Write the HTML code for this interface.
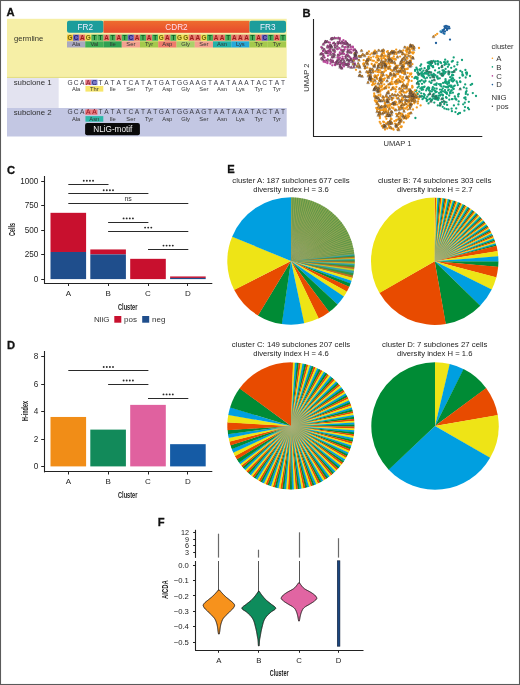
<!DOCTYPE html>
<html><head><meta charset="utf-8"><style>
html,body{margin:0;padding:0;background:#fff;}
body{width:520px;height:685px;overflow:hidden;font-family:"Liberation Sans", sans-serif;}
svg{display:block;will-change:transform;}
</style></head><body><svg width="520" height="685" viewBox="0 0 520 685" font-family='"Liberation Sans", sans-serif'><rect width="520" height="685" fill="#fff"/><text x="6.60" y="16.00" font-size="11.2" fill="#111" text-anchor="start" font-weight="bold" stroke="#111" stroke-width="0.3">A</text><rect x="7.00" y="18.80" width="279.70" height="59.20" fill="#f6efa6" /><rect x="7.00" y="76.90" width="279.70" height="1.00" fill="#e2dc84" /><rect x="7.00" y="78.00" width="51.80" height="30.20" fill="#e3e3f0" /><rect x="58.80" y="78.00" width="227.90" height="30.20" fill="#ffffff" /><rect x="7.00" y="108.00" width="279.70" height="28.50" fill="#c3c7e3" /><defs><linearGradient id="cdr" x1="0" y1="0" x2="0" y2="1"><stop offset="0" stop-color="#ee6c2e"/><stop offset="1" stop-color="#e74a2c"/></linearGradient></defs><rect x="67.00" y="20.8" width="36.50" height="12.0" rx="2" fill="#1c9d9b"/><rect x="103.50" y="20.8" width="145.99" height="12.0" fill="url(#cdr)"/><rect x="249.49" y="20.8" width="36.50" height="12.0" rx="2" fill="#1c9d9b"/><g transform="translate(85.25,29.80) rotate(0) scale(1.0,1)"><text x="0" y="0" font-size="8.2" fill="#eef" text-anchor="middle" font-weight="normal">FR2</text></g><g transform="translate(176.49,29.80) rotate(0) scale(1.0,1)"><text x="0" y="0" font-size="8.2" fill="#fde" text-anchor="middle" font-weight="normal">CDR2</text></g><g transform="translate(267.74,29.80) rotate(0) scale(1.0,1)"><text x="0" y="0" font-size="8.2" fill="#eef" text-anchor="middle" font-weight="normal">FR3</text></g><rect x="67.00" y="34.60" width="6.13" height="6.20" fill="#f2c83a" /><text x="70.04" y="39.90" font-size="6.4" fill="#6e6210" text-anchor="middle" font-weight="bold" >G</text><rect x="73.08" y="34.60" width="6.13" height="6.20" fill="#6a64bc" /><text x="76.12" y="39.90" font-size="6.4" fill="#2a2070" text-anchor="middle" font-weight="bold" >C</text><rect x="79.17" y="34.60" width="6.13" height="6.20" fill="#e6786c" /><text x="82.21" y="39.90" font-size="6.4" fill="#9b1b1b" text-anchor="middle" font-weight="bold" >A</text><rect x="85.25" y="34.60" width="6.13" height="6.20" fill="#eedc50" /><text x="88.29" y="39.90" font-size="6.4" fill="#6e6210" text-anchor="middle" font-weight="bold" >G</text><rect x="91.33" y="34.60" width="6.13" height="6.20" fill="#48b05a" /><text x="94.37" y="39.90" font-size="6.4" fill="#0f5a22" text-anchor="middle" font-weight="bold" >T</text><rect x="97.41" y="34.60" width="6.13" height="6.20" fill="#48b05a" /><text x="100.46" y="39.90" font-size="6.4" fill="#0f5a22" text-anchor="middle" font-weight="bold" >T</text><rect x="103.50" y="34.60" width="6.13" height="6.20" fill="#e6786c" /><text x="106.54" y="39.90" font-size="6.4" fill="#9b1b1b" text-anchor="middle" font-weight="bold" >A</text><rect x="109.58" y="34.60" width="6.13" height="6.20" fill="#48b05a" /><text x="112.62" y="39.90" font-size="6.4" fill="#0f5a22" text-anchor="middle" font-weight="bold" >T</text><rect x="115.66" y="34.60" width="6.13" height="6.20" fill="#e6786c" /><text x="118.71" y="39.90" font-size="6.4" fill="#9b1b1b" text-anchor="middle" font-weight="bold" >A</text><rect x="121.75" y="34.60" width="6.13" height="6.20" fill="#48b05a" /><text x="124.79" y="39.90" font-size="6.4" fill="#0f5a22" text-anchor="middle" font-weight="bold" >T</text><rect x="127.83" y="34.60" width="6.13" height="6.20" fill="#6a64bc" /><text x="130.87" y="39.90" font-size="6.4" fill="#2a2070" text-anchor="middle" font-weight="bold" >C</text><rect x="133.91" y="34.60" width="6.13" height="6.20" fill="#e6786c" /><text x="136.95" y="39.90" font-size="6.4" fill="#9b1b1b" text-anchor="middle" font-weight="bold" >A</text><rect x="140.00" y="34.60" width="6.13" height="6.20" fill="#48b05a" /><text x="143.04" y="39.90" font-size="6.4" fill="#0f5a22" text-anchor="middle" font-weight="bold" >T</text><rect x="146.08" y="34.60" width="6.13" height="6.20" fill="#e6786c" /><text x="149.12" y="39.90" font-size="6.4" fill="#9b1b1b" text-anchor="middle" font-weight="bold" >A</text><rect x="152.16" y="34.60" width="6.13" height="6.20" fill="#48b05a" /><text x="155.20" y="39.90" font-size="6.4" fill="#0f5a22" text-anchor="middle" font-weight="bold" >T</text><rect x="158.25" y="34.60" width="6.13" height="6.20" fill="#eedc50" /><text x="161.29" y="39.90" font-size="6.4" fill="#6e6210" text-anchor="middle" font-weight="bold" >G</text><rect x="164.33" y="34.60" width="6.13" height="6.20" fill="#e6786c" /><text x="167.37" y="39.90" font-size="6.4" fill="#9b1b1b" text-anchor="middle" font-weight="bold" >A</text><rect x="170.41" y="34.60" width="6.13" height="6.20" fill="#48b05a" /><text x="173.45" y="39.90" font-size="6.4" fill="#0f5a22" text-anchor="middle" font-weight="bold" >T</text><rect x="176.49" y="34.60" width="6.13" height="6.20" fill="#eedc50" /><text x="179.54" y="39.90" font-size="6.4" fill="#6e6210" text-anchor="middle" font-weight="bold" >G</text><rect x="182.58" y="34.60" width="6.13" height="6.20" fill="#eedc50" /><text x="185.62" y="39.90" font-size="6.4" fill="#6e6210" text-anchor="middle" font-weight="bold" >G</text><rect x="188.66" y="34.60" width="6.13" height="6.20" fill="#e6786c" /><text x="191.70" y="39.90" font-size="6.4" fill="#9b1b1b" text-anchor="middle" font-weight="bold" >A</text><rect x="194.74" y="34.60" width="6.13" height="6.20" fill="#e6786c" /><text x="197.78" y="39.90" font-size="6.4" fill="#9b1b1b" text-anchor="middle" font-weight="bold" >A</text><rect x="200.83" y="34.60" width="6.13" height="6.20" fill="#eedc50" /><text x="203.87" y="39.90" font-size="6.4" fill="#6e6210" text-anchor="middle" font-weight="bold" >G</text><rect x="206.91" y="34.60" width="6.13" height="6.20" fill="#48b05a" /><text x="209.95" y="39.90" font-size="6.4" fill="#0f5a22" text-anchor="middle" font-weight="bold" >T</text><rect x="212.99" y="34.60" width="6.13" height="6.20" fill="#e6786c" /><text x="216.03" y="39.90" font-size="6.4" fill="#9b1b1b" text-anchor="middle" font-weight="bold" >A</text><rect x="219.08" y="34.60" width="6.13" height="6.20" fill="#e6786c" /><text x="222.12" y="39.90" font-size="6.4" fill="#9b1b1b" text-anchor="middle" font-weight="bold" >A</text><rect x="225.16" y="34.60" width="6.13" height="6.20" fill="#48b05a" /><text x="228.20" y="39.90" font-size="6.4" fill="#0f5a22" text-anchor="middle" font-weight="bold" >T</text><rect x="231.24" y="34.60" width="6.13" height="6.20" fill="#e6786c" /><text x="234.28" y="39.90" font-size="6.4" fill="#9b1b1b" text-anchor="middle" font-weight="bold" >A</text><rect x="237.32" y="34.60" width="6.13" height="6.20" fill="#e6786c" /><text x="240.37" y="39.90" font-size="6.4" fill="#9b1b1b" text-anchor="middle" font-weight="bold" >A</text><rect x="243.41" y="34.60" width="6.13" height="6.20" fill="#e6786c" /><text x="246.45" y="39.90" font-size="6.4" fill="#9b1b1b" text-anchor="middle" font-weight="bold" >A</text><rect x="249.49" y="34.60" width="6.13" height="6.20" fill="#48b05a" /><text x="252.53" y="39.90" font-size="6.4" fill="#0f5a22" text-anchor="middle" font-weight="bold" >T</text><rect x="255.57" y="34.60" width="6.13" height="6.20" fill="#e6786c" /><text x="258.61" y="39.90" font-size="6.4" fill="#9b1b1b" text-anchor="middle" font-weight="bold" >A</text><rect x="261.66" y="34.60" width="6.13" height="6.20" fill="#6a64bc" /><text x="264.70" y="39.90" font-size="6.4" fill="#2a2070" text-anchor="middle" font-weight="bold" >C</text><rect x="267.74" y="34.60" width="6.13" height="6.20" fill="#48b05a" /><text x="270.78" y="39.90" font-size="6.4" fill="#0f5a22" text-anchor="middle" font-weight="bold" >T</text><rect x="273.82" y="34.60" width="6.13" height="6.20" fill="#e6786c" /><text x="276.86" y="39.90" font-size="6.4" fill="#9b1b1b" text-anchor="middle" font-weight="bold" >A</text><rect x="279.90" y="34.60" width="6.13" height="6.20" fill="#48b05a" /><text x="282.95" y="39.90" font-size="6.4" fill="#0f5a22" text-anchor="middle" font-weight="bold" >T</text><rect x="67.00" y="41.30" width="18.30" height="6.20" fill="#a9a8c0" /><text x="76.12" y="46.30" font-size="5.8" fill="#333" text-anchor="middle" font-weight="normal" >Ala</text><rect x="85.25" y="41.30" width="18.30" height="6.20" fill="#3fae55" /><text x="94.37" y="46.30" font-size="5.8" fill="#333" text-anchor="middle" font-weight="normal" >Val</text><rect x="103.50" y="41.30" width="18.30" height="6.20" fill="#2fa052" /><text x="112.62" y="46.30" font-size="5.8" fill="#333" text-anchor="middle" font-weight="normal" >Ile</text><rect x="121.75" y="41.30" width="18.30" height="6.20" fill="#f3a190" /><text x="130.87" y="46.30" font-size="5.8" fill="#333" text-anchor="middle" font-weight="normal" >Ser</text><rect x="140.00" y="41.30" width="18.30" height="6.20" fill="#a4c94c" /><text x="149.12" y="46.30" font-size="5.8" fill="#333" text-anchor="middle" font-weight="normal" >Tyr</text><rect x="158.25" y="41.30" width="18.30" height="6.20" fill="#ef7b6c" /><text x="167.37" y="46.30" font-size="5.8" fill="#333" text-anchor="middle" font-weight="normal" >Asp</text><rect x="176.49" y="41.30" width="18.30" height="6.20" fill="#acd06a" /><text x="185.62" y="46.30" font-size="5.8" fill="#333" text-anchor="middle" font-weight="normal" >Gly</text><rect x="194.74" y="41.30" width="18.30" height="6.20" fill="#f3a190" /><text x="203.87" y="46.30" font-size="5.8" fill="#333" text-anchor="middle" font-weight="normal" >Ser</text><rect x="212.99" y="41.30" width="18.30" height="6.20" fill="#22b1a8" /><text x="222.12" y="46.30" font-size="5.8" fill="#333" text-anchor="middle" font-weight="normal" >Asn</text><rect x="231.24" y="41.30" width="18.30" height="6.20" fill="#27a9d9" /><text x="240.37" y="46.30" font-size="5.8" fill="#333" text-anchor="middle" font-weight="normal" >Lys</text><rect x="249.49" y="41.30" width="18.30" height="6.20" fill="#a4c94c" /><text x="258.61" y="46.30" font-size="5.8" fill="#333" text-anchor="middle" font-weight="normal" >Tyr</text><rect x="267.74" y="41.30" width="18.30" height="6.20" fill="#a4c94c" /><text x="276.86" y="46.30" font-size="5.8" fill="#333" text-anchor="middle" font-weight="normal" >Tyr</text><text x="14.00" y="40.60" font-size="7.65" fill="#34342a" text-anchor="start" font-weight="normal" >germline</text><rect x="85.25" y="79.70" width="6.13" height="5.40" fill="#e47c86" /><rect x="91.33" y="79.70" width="6.13" height="5.40" fill="#7c7cc8" /><rect x="85.45" y="86.00" width="17.85" height="5.60" fill="#f7e66a" /><text x="70.04" y="84.60" font-size="6.6" fill="#3a3a44" text-anchor="middle" font-weight="normal" >G</text><text x="76.12" y="84.60" font-size="6.6" fill="#3a3a44" text-anchor="middle" font-weight="normal" >C</text><text x="82.21" y="84.60" font-size="6.6" fill="#3a3a44" text-anchor="middle" font-weight="normal" >A</text><text x="88.29" y="84.60" font-size="6.6" fill="#8a1a2a" text-anchor="middle" font-weight="normal" >A</text><text x="94.37" y="84.60" font-size="6.6" fill="#1a1a60" text-anchor="middle" font-weight="normal" >C</text><text x="100.46" y="84.60" font-size="6.6" fill="#3a3a44" text-anchor="middle" font-weight="normal" >T</text><text x="106.54" y="84.60" font-size="6.6" fill="#3a3a44" text-anchor="middle" font-weight="normal" >A</text><text x="112.62" y="84.60" font-size="6.6" fill="#3a3a44" text-anchor="middle" font-weight="normal" >T</text><text x="118.71" y="84.60" font-size="6.6" fill="#3a3a44" text-anchor="middle" font-weight="normal" >A</text><text x="124.79" y="84.60" font-size="6.6" fill="#3a3a44" text-anchor="middle" font-weight="normal" >T</text><text x="130.87" y="84.60" font-size="6.6" fill="#3a3a44" text-anchor="middle" font-weight="normal" >C</text><text x="136.95" y="84.60" font-size="6.6" fill="#3a3a44" text-anchor="middle" font-weight="normal" >A</text><text x="143.04" y="84.60" font-size="6.6" fill="#3a3a44" text-anchor="middle" font-weight="normal" >T</text><text x="149.12" y="84.60" font-size="6.6" fill="#3a3a44" text-anchor="middle" font-weight="normal" >A</text><text x="155.20" y="84.60" font-size="6.6" fill="#3a3a44" text-anchor="middle" font-weight="normal" >T</text><text x="161.29" y="84.60" font-size="6.6" fill="#3a3a44" text-anchor="middle" font-weight="normal" >G</text><text x="167.37" y="84.60" font-size="6.6" fill="#3a3a44" text-anchor="middle" font-weight="normal" >A</text><text x="173.45" y="84.60" font-size="6.6" fill="#3a3a44" text-anchor="middle" font-weight="normal" >T</text><text x="179.54" y="84.60" font-size="6.6" fill="#3a3a44" text-anchor="middle" font-weight="normal" >G</text><text x="185.62" y="84.60" font-size="6.6" fill="#3a3a44" text-anchor="middle" font-weight="normal" >G</text><text x="191.70" y="84.60" font-size="6.6" fill="#3a3a44" text-anchor="middle" font-weight="normal" >A</text><text x="197.78" y="84.60" font-size="6.6" fill="#3a3a44" text-anchor="middle" font-weight="normal" >A</text><text x="203.87" y="84.60" font-size="6.6" fill="#3a3a44" text-anchor="middle" font-weight="normal" >G</text><text x="209.95" y="84.60" font-size="6.6" fill="#3a3a44" text-anchor="middle" font-weight="normal" >T</text><text x="216.03" y="84.60" font-size="6.6" fill="#3a3a44" text-anchor="middle" font-weight="normal" >A</text><text x="222.12" y="84.60" font-size="6.6" fill="#3a3a44" text-anchor="middle" font-weight="normal" >A</text><text x="228.20" y="84.60" font-size="6.6" fill="#3a3a44" text-anchor="middle" font-weight="normal" >T</text><text x="234.28" y="84.60" font-size="6.6" fill="#3a3a44" text-anchor="middle" font-weight="normal" >A</text><text x="240.37" y="84.60" font-size="6.6" fill="#3a3a44" text-anchor="middle" font-weight="normal" >A</text><text x="246.45" y="84.60" font-size="6.6" fill="#3a3a44" text-anchor="middle" font-weight="normal" >A</text><text x="252.53" y="84.60" font-size="6.6" fill="#3a3a44" text-anchor="middle" font-weight="normal" >T</text><text x="258.61" y="84.60" font-size="6.6" fill="#3a3a44" text-anchor="middle" font-weight="normal" >A</text><text x="264.70" y="84.60" font-size="6.6" fill="#3a3a44" text-anchor="middle" font-weight="normal" >C</text><text x="270.78" y="84.60" font-size="6.6" fill="#3a3a44" text-anchor="middle" font-weight="normal" >T</text><text x="276.86" y="84.60" font-size="6.6" fill="#3a3a44" text-anchor="middle" font-weight="normal" >A</text><text x="282.95" y="84.60" font-size="6.6" fill="#3a3a44" text-anchor="middle" font-weight="normal" >T</text><text x="76.12" y="90.80" font-size="5.8" fill="#333" text-anchor="middle" font-weight="normal" >Ala</text><text x="94.37" y="90.80" font-size="5.8" fill="#333" text-anchor="middle" font-weight="normal" >Thr</text><text x="112.62" y="90.80" font-size="5.8" fill="#333" text-anchor="middle" font-weight="normal" >Ile</text><text x="130.87" y="90.80" font-size="5.8" fill="#333" text-anchor="middle" font-weight="normal" >Ser</text><text x="149.12" y="90.80" font-size="5.8" fill="#333" text-anchor="middle" font-weight="normal" >Tyr</text><text x="167.37" y="90.80" font-size="5.8" fill="#333" text-anchor="middle" font-weight="normal" >Asp</text><text x="185.62" y="90.80" font-size="5.8" fill="#333" text-anchor="middle" font-weight="normal" >Gly</text><text x="203.87" y="90.80" font-size="5.8" fill="#333" text-anchor="middle" font-weight="normal" >Ser</text><text x="222.12" y="90.80" font-size="5.8" fill="#333" text-anchor="middle" font-weight="normal" >Asn</text><text x="240.37" y="90.80" font-size="5.8" fill="#333" text-anchor="middle" font-weight="normal" >Lys</text><text x="258.61" y="90.80" font-size="5.8" fill="#333" text-anchor="middle" font-weight="normal" >Tyr</text><text x="276.86" y="90.80" font-size="5.8" fill="#333" text-anchor="middle" font-weight="normal" >Tyr</text><text x="13.70" y="85.00" font-size="7.85" fill="#2e2e2e" text-anchor="start" font-weight="normal" >subclone 1</text><rect x="85.25" y="109.40" width="6.13" height="5.40" fill="#ea7478" /><rect x="91.33" y="109.40" width="6.13" height="5.40" fill="#ea7478" /><rect x="85.45" y="116.10" width="17.85" height="5.60" fill="#2cb8a8" /><text x="70.04" y="114.30" font-size="6.6" fill="#3a3a44" text-anchor="middle" font-weight="normal" >G</text><text x="76.12" y="114.30" font-size="6.6" fill="#3a3a44" text-anchor="middle" font-weight="normal" >C</text><text x="82.21" y="114.30" font-size="6.6" fill="#3a3a44" text-anchor="middle" font-weight="normal" >A</text><text x="88.29" y="114.30" font-size="6.6" fill="#8a1a2a" text-anchor="middle" font-weight="normal" >A</text><text x="94.37" y="114.30" font-size="6.6" fill="#8a1a2a" text-anchor="middle" font-weight="normal" >A</text><text x="100.46" y="114.30" font-size="6.6" fill="#3a3a44" text-anchor="middle" font-weight="normal" >T</text><text x="106.54" y="114.30" font-size="6.6" fill="#3a3a44" text-anchor="middle" font-weight="normal" >A</text><text x="112.62" y="114.30" font-size="6.6" fill="#3a3a44" text-anchor="middle" font-weight="normal" >T</text><text x="118.71" y="114.30" font-size="6.6" fill="#3a3a44" text-anchor="middle" font-weight="normal" >A</text><text x="124.79" y="114.30" font-size="6.6" fill="#3a3a44" text-anchor="middle" font-weight="normal" >T</text><text x="130.87" y="114.30" font-size="6.6" fill="#3a3a44" text-anchor="middle" font-weight="normal" >C</text><text x="136.95" y="114.30" font-size="6.6" fill="#3a3a44" text-anchor="middle" font-weight="normal" >A</text><text x="143.04" y="114.30" font-size="6.6" fill="#3a3a44" text-anchor="middle" font-weight="normal" >T</text><text x="149.12" y="114.30" font-size="6.6" fill="#3a3a44" text-anchor="middle" font-weight="normal" >A</text><text x="155.20" y="114.30" font-size="6.6" fill="#3a3a44" text-anchor="middle" font-weight="normal" >T</text><text x="161.29" y="114.30" font-size="6.6" fill="#3a3a44" text-anchor="middle" font-weight="normal" >G</text><text x="167.37" y="114.30" font-size="6.6" fill="#3a3a44" text-anchor="middle" font-weight="normal" >A</text><text x="173.45" y="114.30" font-size="6.6" fill="#3a3a44" text-anchor="middle" font-weight="normal" >T</text><text x="179.54" y="114.30" font-size="6.6" fill="#3a3a44" text-anchor="middle" font-weight="normal" >G</text><text x="185.62" y="114.30" font-size="6.6" fill="#3a3a44" text-anchor="middle" font-weight="normal" >G</text><text x="191.70" y="114.30" font-size="6.6" fill="#3a3a44" text-anchor="middle" font-weight="normal" >A</text><text x="197.78" y="114.30" font-size="6.6" fill="#3a3a44" text-anchor="middle" font-weight="normal" >A</text><text x="203.87" y="114.30" font-size="6.6" fill="#3a3a44" text-anchor="middle" font-weight="normal" >G</text><text x="209.95" y="114.30" font-size="6.6" fill="#3a3a44" text-anchor="middle" font-weight="normal" >T</text><text x="216.03" y="114.30" font-size="6.6" fill="#3a3a44" text-anchor="middle" font-weight="normal" >A</text><text x="222.12" y="114.30" font-size="6.6" fill="#3a3a44" text-anchor="middle" font-weight="normal" >A</text><text x="228.20" y="114.30" font-size="6.6" fill="#3a3a44" text-anchor="middle" font-weight="normal" >T</text><text x="234.28" y="114.30" font-size="6.6" fill="#3a3a44" text-anchor="middle" font-weight="normal" >A</text><text x="240.37" y="114.30" font-size="6.6" fill="#3a3a44" text-anchor="middle" font-weight="normal" >A</text><text x="246.45" y="114.30" font-size="6.6" fill="#3a3a44" text-anchor="middle" font-weight="normal" >A</text><text x="252.53" y="114.30" font-size="6.6" fill="#3a3a44" text-anchor="middle" font-weight="normal" >T</text><text x="258.61" y="114.30" font-size="6.6" fill="#3a3a44" text-anchor="middle" font-weight="normal" >A</text><text x="264.70" y="114.30" font-size="6.6" fill="#3a3a44" text-anchor="middle" font-weight="normal" >C</text><text x="270.78" y="114.30" font-size="6.6" fill="#3a3a44" text-anchor="middle" font-weight="normal" >T</text><text x="276.86" y="114.30" font-size="6.6" fill="#3a3a44" text-anchor="middle" font-weight="normal" >A</text><text x="282.95" y="114.30" font-size="6.6" fill="#3a3a44" text-anchor="middle" font-weight="normal" >T</text><text x="76.12" y="120.90" font-size="5.8" fill="#333" text-anchor="middle" font-weight="normal" >Ala</text><text x="94.37" y="120.90" font-size="5.8" fill="#333" text-anchor="middle" font-weight="normal" >Asn</text><text x="112.62" y="120.90" font-size="5.8" fill="#333" text-anchor="middle" font-weight="normal" >Ile</text><text x="130.87" y="120.90" font-size="5.8" fill="#333" text-anchor="middle" font-weight="normal" >Ser</text><text x="149.12" y="120.90" font-size="5.8" fill="#333" text-anchor="middle" font-weight="normal" >Tyr</text><text x="167.37" y="120.90" font-size="5.8" fill="#333" text-anchor="middle" font-weight="normal" >Asp</text><text x="185.62" y="120.90" font-size="5.8" fill="#333" text-anchor="middle" font-weight="normal" >Gly</text><text x="203.87" y="120.90" font-size="5.8" fill="#333" text-anchor="middle" font-weight="normal" >Ser</text><text x="222.12" y="120.90" font-size="5.8" fill="#333" text-anchor="middle" font-weight="normal" >Asn</text><text x="240.37" y="120.90" font-size="5.8" fill="#333" text-anchor="middle" font-weight="normal" >Lys</text><text x="258.61" y="120.90" font-size="5.8" fill="#333" text-anchor="middle" font-weight="normal" >Tyr</text><text x="276.86" y="120.90" font-size="5.8" fill="#333" text-anchor="middle" font-weight="normal" >Tyr</text><text x="13.70" y="115.20" font-size="7.85" fill="#2e2e2e" text-anchor="start" font-weight="normal" >subclone 2</text><rect x="85.1" y="123.0" width="54.8" height="12.3" rx="2" fill="#0a0a0a"/><g transform="translate(112.80,132.40) rotate(0) scale(1.0,1)"><text x="0" y="0" font-size="8.2" fill="#f4f4f4" text-anchor="middle" font-weight="normal">NLiG-motif</text></g><text x="302.40" y="16.90" font-size="11.2" fill="#111" text-anchor="start" font-weight="bold" stroke="#111" stroke-width="0.3">B</text><g><circle cx="444.4" cy="108.4" r="1.15" fill="#14a079"/><circle cx="391.7" cy="70.5" r="1.15" fill="#f2981c"/><circle cx="435.8" cy="99.0" r="1.15" fill="#14a079"/><circle cx="449.5" cy="28.3" r="1.15" fill="#1e5e9c"/><circle cx="406.3" cy="100.5" r="1.15" fill="#f2981c"/><circle cx="326.9" cy="53.0" r="1.15" fill="#b8479a"/><circle cx="446.5" cy="109.1" r="1.15" fill="#14a079"/><circle cx="407.0" cy="107.3" r="1.15" fill="#f2981c"/><circle cx="454.8" cy="85.6" r="1.15" fill="#14a079"/><circle cx="432.5" cy="96.7" r="1.15" fill="#14a079"/><circle cx="381.8" cy="66.0" r="1.15" fill="#f2981c"/><circle cx="367.1" cy="60.6" r="1.15" fill="#f2981c"/><circle cx="334.1" cy="42.9" r="1.15" fill="#b8479a"/><circle cx="443.4" cy="72.5" r="1.15" fill="#14a079"/><circle cx="439.0" cy="84.1" r="1.15" fill="#14a079"/><circle cx="446.5" cy="28.2" r="1.15" fill="#1e5e9c"/><circle cx="409.9" cy="92.8" r="1.15" fill="#f2981c"/><circle cx="347.0" cy="64.9" r="1.15" fill="#b8479a"/><circle cx="410.6" cy="74.5" r="1.15" fill="#f2981c"/><circle cx="381.3" cy="75.0" r="1.15" fill="#f2981c"/><circle cx="435.7" cy="61.4" r="1.15" fill="#14a079"/><circle cx="459.0" cy="113.2" r="1.15" fill="#14a079"/><circle cx="371.0" cy="77.5" r="1.15" fill="#f2981c"/><circle cx="412.6" cy="87.1" r="1.15" fill="#f2981c"/><circle cx="406.4" cy="88.1" r="1.15" fill="#f2981c"/><circle cx="395.4" cy="101.6" r="1.15" fill="#f2981c"/><circle cx="409.0" cy="116.3" r="1.15" fill="#f2981c"/><circle cx="405.3" cy="116.1" r="1.15" fill="#f2981c"/><circle cx="465.7" cy="99.4" r="1.15" fill="#14a079"/><circle cx="384.4" cy="109.3" r="1.15" fill="#f2981c"/><circle cx="387.1" cy="80.8" r="1.15" fill="#f2981c"/><circle cx="412.6" cy="100.2" r="1.15" fill="#f2981c"/><circle cx="437.6" cy="61.2" r="1.15" fill="#14a079"/><circle cx="331.0" cy="52.4" r="1.15" fill="#b8479a"/><circle cx="445.3" cy="86.8" r="1.15" fill="#14a079"/><circle cx="375.4" cy="83.3" r="1.15" fill="#f2981c"/><circle cx="421.2" cy="93.3" r="1.15" fill="#14a079"/><circle cx="407.0" cy="58.0" r="1.15" fill="#f2981c"/><circle cx="389.1" cy="99.7" r="1.15" fill="#f2981c"/><circle cx="412.9" cy="95.8" r="1.15" fill="#f2981c"/><circle cx="445.2" cy="82.5" r="1.15" fill="#14a079"/><circle cx="378.7" cy="72.2" r="1.15" fill="#f2981c"/><circle cx="372.8" cy="69.9" r="1.15" fill="#f2981c"/><circle cx="379.6" cy="85.9" r="1.15" fill="#f2981c"/><circle cx="383.2" cy="121.7" r="1.15" fill="#f2981c"/><circle cx="366.9" cy="61.3" r="1.15" fill="#f2981c"/><circle cx="394.8" cy="95.0" r="1.15" fill="#f2981c"/><circle cx="454.3" cy="80.1" r="1.15" fill="#14a079"/><circle cx="378.0" cy="87.8" r="1.15" fill="#f2981c"/><circle cx="374.0" cy="53.6" r="1.15" fill="#f2981c"/><circle cx="447.0" cy="30.0" r="1.15" fill="#1e5e9c"/><circle cx="384.0" cy="80.1" r="1.15" fill="#f2981c"/><circle cx="390.6" cy="73.5" r="1.15" fill="#f2981c"/><circle cx="380.2" cy="56.4" r="1.15" fill="#f2981c"/><circle cx="391.7" cy="98.1" r="1.15" fill="#f2981c"/><circle cx="394.7" cy="103.8" r="1.15" fill="#f2981c"/><circle cx="393.6" cy="87.5" r="1.15" fill="#f2981c"/><circle cx="381.2" cy="76.6" r="1.15" fill="#f2981c"/><circle cx="379.3" cy="81.0" r="1.15" fill="#f2981c"/><circle cx="341.4" cy="50.0" r="1.15" fill="#b8479a"/><circle cx="411.7" cy="97.3" r="1.15" fill="#f2981c"/><circle cx="441.8" cy="90.0" r="1.15" fill="#14a079"/><circle cx="374.2" cy="66.6" r="1.15" fill="#f2981c"/><circle cx="378.5" cy="60.7" r="1.15" fill="#f2981c"/><circle cx="409.9" cy="103.9" r="1.15" fill="#f2981c"/><circle cx="398.5" cy="71.9" r="1.15" fill="#f2981c"/><circle cx="383.6" cy="100.4" r="1.15" fill="#f2981c"/><circle cx="388.5" cy="92.7" r="1.15" fill="#f2981c"/><circle cx="381.1" cy="72.5" r="1.15" fill="#f2981c"/><circle cx="445.2" cy="59.7" r="1.15" fill="#14a079"/><circle cx="387.2" cy="128.5" r="1.15" fill="#f2981c"/><circle cx="381.0" cy="77.5" r="1.15" fill="#f2981c"/><circle cx="411.2" cy="95.6" r="1.15" fill="#f2981c"/><circle cx="377.0" cy="103.5" r="1.15" fill="#f2981c"/><circle cx="447.5" cy="84.6" r="1.15" fill="#14a079"/><circle cx="466.7" cy="72.5" r="1.15" fill="#14a079"/><circle cx="440.4" cy="62.2" r="1.15" fill="#14a079"/><circle cx="398.8" cy="116.9" r="1.15" fill="#f2981c"/><circle cx="382.8" cy="125.9" r="1.15" fill="#f2981c"/><circle cx="333.0" cy="50.1" r="1.15" fill="#b8479a"/><circle cx="463.9" cy="87.4" r="1.15" fill="#14a079"/><circle cx="388.1" cy="76.9" r="1.15" fill="#f2981c"/><circle cx="435.5" cy="75.3" r="1.15" fill="#14a079"/><circle cx="328.9" cy="46.8" r="1.15" fill="#b8479a"/><circle cx="403.8" cy="118.6" r="1.15" fill="#f2981c"/><circle cx="370.8" cy="76.9" r="1.15" fill="#f2981c"/><circle cx="367.6" cy="61.8" r="1.15" fill="#f2981c"/><circle cx="433.0" cy="66.1" r="1.15" fill="#14a079"/><circle cx="330.0" cy="45.2" r="1.15" fill="#b8479a"/><circle cx="352.4" cy="61.8" r="1.15" fill="#b8479a"/><circle cx="455.4" cy="98.3" r="1.15" fill="#14a079"/><circle cx="381.6" cy="61.1" r="1.15" fill="#f2981c"/><circle cx="417.4" cy="79.2" r="1.15" fill="#14a079"/><circle cx="408.9" cy="80.1" r="1.15" fill="#f2981c"/><circle cx="395.8" cy="59.7" r="1.15" fill="#f2981c"/><circle cx="401.8" cy="86.2" r="1.15" fill="#f2981c"/><circle cx="404.0" cy="72.5" r="1.15" fill="#f2981c"/><circle cx="444.6" cy="61.9" r="1.15" fill="#14a079"/><circle cx="433.5" cy="36.6" r="1.15" fill="#f2981c"/><circle cx="405.5" cy="117.7" r="1.15" fill="#f2981c"/><circle cx="397.6" cy="68.1" r="1.15" fill="#f2981c"/><circle cx="428.9" cy="75.5" r="1.15" fill="#14a079"/><circle cx="403.8" cy="65.8" r="1.15" fill="#f2981c"/><circle cx="371.0" cy="81.5" r="1.15" fill="#f2981c"/><circle cx="386.7" cy="64.2" r="1.15" fill="#f2981c"/><circle cx="370.9" cy="79.0" r="1.15" fill="#f2981c"/><circle cx="416.9" cy="83.4" r="1.15" fill="#14a079"/><circle cx="432.9" cy="89.7" r="1.15" fill="#14a079"/><circle cx="415.4" cy="118.0" r="1.15" fill="#14a079"/><circle cx="445.6" cy="68.9" r="1.15" fill="#14a079"/><circle cx="344.3" cy="61.3" r="1.15" fill="#b8479a"/><circle cx="385.6" cy="65.0" r="1.15" fill="#f2981c"/><circle cx="393.3" cy="103.2" r="1.15" fill="#f2981c"/><circle cx="460.2" cy="88.8" r="1.15" fill="#14a079"/><circle cx="429.5" cy="81.7" r="1.15" fill="#14a079"/><circle cx="390.9" cy="118.5" r="1.15" fill="#f2981c"/><circle cx="374.5" cy="65.5" r="1.15" fill="#f2981c"/><circle cx="428.2" cy="66.5" r="1.15" fill="#14a079"/><circle cx="386.7" cy="114.6" r="1.15" fill="#f2981c"/><circle cx="451.4" cy="90.6" r="1.15" fill="#14a079"/><circle cx="429.8" cy="93.4" r="1.15" fill="#14a079"/><circle cx="446.5" cy="102.3" r="1.15" fill="#14a079"/><circle cx="469.0" cy="109.3" r="1.15" fill="#14a079"/><circle cx="453.5" cy="89.0" r="1.15" fill="#14a079"/><circle cx="400.2" cy="108.0" r="1.15" fill="#f2981c"/><circle cx="374.1" cy="96.3" r="1.15" fill="#f2981c"/><circle cx="381.9" cy="76.2" r="1.15" fill="#f2981c"/><circle cx="359.3" cy="75.6" r="1.15" fill="#f2981c"/><circle cx="403.1" cy="67.4" r="1.15" fill="#f2981c"/><circle cx="451.4" cy="80.8" r="1.15" fill="#14a079"/><circle cx="407.8" cy="117.2" r="1.15" fill="#f2981c"/><circle cx="400.8" cy="91.5" r="1.15" fill="#f2981c"/><circle cx="371.6" cy="78.9" r="1.15" fill="#f2981c"/><circle cx="393.9" cy="70.1" r="1.15" fill="#f2981c"/><circle cx="377.1" cy="78.9" r="1.15" fill="#f2981c"/><circle cx="326.7" cy="52.6" r="1.15" fill="#b8479a"/><circle cx="412.2" cy="86.0" r="1.15" fill="#f2981c"/><circle cx="384.3" cy="55.5" r="1.15" fill="#f2981c"/><circle cx="384.9" cy="68.8" r="1.15" fill="#f2981c"/><circle cx="402.8" cy="53.5" r="1.15" fill="#f2981c"/><circle cx="384.9" cy="108.7" r="1.15" fill="#f2981c"/><circle cx="327.2" cy="41.5" r="1.15" fill="#b8479a"/><circle cx="344.8" cy="47.6" r="1.15" fill="#b8479a"/><circle cx="423.2" cy="73.8" r="1.15" fill="#14a079"/><circle cx="444.5" cy="26.5" r="1.15" fill="#1e5e9c"/><circle cx="466.6" cy="91.1" r="1.15" fill="#14a079"/><circle cx="412.0" cy="76.8" r="1.15" fill="#f2981c"/><circle cx="367.3" cy="67.5" r="1.15" fill="#f2981c"/><circle cx="386.4" cy="111.6" r="1.15" fill="#f2981c"/><circle cx="470.0" cy="76.0" r="1.15" fill="#14a079"/><circle cx="349.3" cy="61.6" r="1.15" fill="#b8479a"/><circle cx="447.5" cy="26.3" r="1.15" fill="#1e5e9c"/><circle cx="396.2" cy="102.4" r="1.15" fill="#f2981c"/><circle cx="368.9" cy="51.5" r="1.15" fill="#f2981c"/><circle cx="392.3" cy="70.7" r="1.15" fill="#f2981c"/><circle cx="393.6" cy="74.6" r="1.15" fill="#f2981c"/><circle cx="410.4" cy="45.0" r="1.15" fill="#f2981c"/><circle cx="396.2" cy="120.8" r="1.15" fill="#f2981c"/><circle cx="327.4" cy="61.9" r="1.15" fill="#b8479a"/><circle cx="436.7" cy="91.8" r="1.15" fill="#14a079"/><circle cx="322.4" cy="48.1" r="1.15" fill="#b8479a"/><circle cx="472.8" cy="93.1" r="1.15" fill="#14a079"/><circle cx="380.2" cy="113.6" r="1.15" fill="#f2981c"/><circle cx="439.8" cy="78.3" r="1.15" fill="#14a079"/><circle cx="448.0" cy="28.5" r="1.15" fill="#1e5e9c"/><circle cx="399.3" cy="103.3" r="1.15" fill="#f2981c"/><circle cx="354.8" cy="64.6" r="1.15" fill="#b8479a"/><circle cx="401.9" cy="95.1" r="1.15" fill="#f2981c"/><circle cx="448.4" cy="109.4" r="1.15" fill="#14a079"/><circle cx="377.0" cy="109.6" r="1.15" fill="#f2981c"/><circle cx="344.1" cy="53.9" r="1.15" fill="#b8479a"/><circle cx="429.0" cy="90.4" r="1.15" fill="#14a079"/><circle cx="349.0" cy="64.2" r="1.15" fill="#b8479a"/><circle cx="380.3" cy="110.2" r="1.15" fill="#f2981c"/><circle cx="431.3" cy="63.2" r="1.15" fill="#14a079"/><circle cx="355.2" cy="54.4" r="1.15" fill="#f2981c"/><circle cx="400.4" cy="108.6" r="1.15" fill="#f2981c"/><circle cx="431.7" cy="100.6" r="1.15" fill="#14a079"/><circle cx="388.6" cy="55.3" r="1.15" fill="#f2981c"/><circle cx="391.7" cy="51.8" r="1.15" fill="#f2981c"/><circle cx="402.5" cy="114.1" r="1.15" fill="#f2981c"/><circle cx="431.3" cy="82.7" r="1.15" fill="#14a079"/><circle cx="345.3" cy="64.2" r="1.15" fill="#b8479a"/><circle cx="397.5" cy="129.7" r="1.15" fill="#f2981c"/><circle cx="391.0" cy="52.6" r="1.15" fill="#f2981c"/><circle cx="350.6" cy="60.1" r="1.15" fill="#b8479a"/><circle cx="334.0" cy="56.6" r="1.15" fill="#b8479a"/><circle cx="380.1" cy="79.9" r="1.15" fill="#f2981c"/><circle cx="393.3" cy="51.7" r="1.15" fill="#f2981c"/><circle cx="393.8" cy="52.7" r="1.15" fill="#f2981c"/><circle cx="399.5" cy="92.4" r="1.15" fill="#f2981c"/><circle cx="447.9" cy="66.8" r="1.15" fill="#14a079"/><circle cx="462.1" cy="72.1" r="1.15" fill="#14a079"/><circle cx="401.9" cy="72.7" r="1.15" fill="#f2981c"/><circle cx="441.5" cy="32.2" r="1.15" fill="#1e5e9c"/><circle cx="366.8" cy="71.6" r="1.15" fill="#f2981c"/><circle cx="365.2" cy="67.3" r="1.15" fill="#f2981c"/><circle cx="378.3" cy="83.6" r="1.15" fill="#f2981c"/><circle cx="432.4" cy="75.4" r="1.15" fill="#14a079"/><circle cx="323.7" cy="55.5" r="1.15" fill="#b8479a"/><circle cx="416.8" cy="107.4" r="1.15" fill="#f2981c"/><circle cx="378.4" cy="111.8" r="1.15" fill="#f2981c"/><circle cx="383.4" cy="52.0" r="1.15" fill="#f2981c"/><circle cx="409.0" cy="89.9" r="1.15" fill="#f2981c"/><circle cx="390.2" cy="75.3" r="1.15" fill="#f2981c"/><circle cx="415.1" cy="70.0" r="1.15" fill="#14a079"/><circle cx="400.6" cy="126.7" r="1.15" fill="#f2981c"/><circle cx="326.0" cy="60.4" r="1.15" fill="#b8479a"/><circle cx="411.8" cy="48.5" r="1.15" fill="#f2981c"/><circle cx="399.8" cy="121.3" r="1.15" fill="#f2981c"/><circle cx="446.0" cy="92.7" r="1.15" fill="#14a079"/><circle cx="409.6" cy="91.3" r="1.15" fill="#f2981c"/><circle cx="401.8" cy="60.9" r="1.15" fill="#f2981c"/><circle cx="401.3" cy="51.6" r="1.15" fill="#f2981c"/><circle cx="381.8" cy="75.3" r="1.15" fill="#f2981c"/><circle cx="452.1" cy="72.2" r="1.15" fill="#14a079"/><circle cx="424.3" cy="82.4" r="1.15" fill="#14a079"/><circle cx="436.0" cy="96.0" r="1.15" fill="#14a079"/><circle cx="330.8" cy="62.1" r="1.15" fill="#b8479a"/><circle cx="432.9" cy="95.1" r="1.15" fill="#14a079"/><circle cx="368.3" cy="60.9" r="1.15" fill="#f2981c"/><circle cx="370.7" cy="59.8" r="1.15" fill="#f2981c"/><circle cx="387.6" cy="57.5" r="1.15" fill="#f2981c"/><circle cx="445.5" cy="79.2" r="1.15" fill="#14a079"/><circle cx="362.1" cy="76.2" r="1.15" fill="#f2981c"/><circle cx="406.1" cy="85.8" r="1.15" fill="#f2981c"/><circle cx="413.0" cy="58.1" r="1.15" fill="#f2981c"/><circle cx="413.2" cy="95.5" r="1.15" fill="#f2981c"/><circle cx="411.6" cy="99.8" r="1.15" fill="#f2981c"/><circle cx="426.3" cy="73.7" r="1.15" fill="#14a079"/><circle cx="380.8" cy="83.1" r="1.15" fill="#f2981c"/><circle cx="389.6" cy="115.2" r="1.15" fill="#f2981c"/><circle cx="380.6" cy="123.5" r="1.15" fill="#f2981c"/><circle cx="332.6" cy="62.2" r="1.15" fill="#b8479a"/><circle cx="345.3" cy="41.3" r="1.15" fill="#b8479a"/><circle cx="405.5" cy="103.9" r="1.15" fill="#f2981c"/><circle cx="341.1" cy="43.5" r="1.15" fill="#b8479a"/><circle cx="409.0" cy="96.3" r="1.15" fill="#f2981c"/><circle cx="378.8" cy="69.9" r="1.15" fill="#f2981c"/><circle cx="378.9" cy="72.3" r="1.15" fill="#f2981c"/><circle cx="339.0" cy="59.5" r="1.15" fill="#b8479a"/><circle cx="393.6" cy="129.7" r="1.15" fill="#f2981c"/><circle cx="442.0" cy="66.0" r="1.15" fill="#14a079"/><circle cx="438.0" cy="64.6" r="1.15" fill="#14a079"/><circle cx="447.6" cy="61.5" r="1.15" fill="#14a079"/><circle cx="448.4" cy="81.7" r="1.15" fill="#14a079"/><circle cx="443.5" cy="73.5" r="1.15" fill="#14a079"/><circle cx="454.2" cy="71.1" r="1.15" fill="#14a079"/><circle cx="399.6" cy="81.6" r="1.15" fill="#f2981c"/><circle cx="407.6" cy="72.8" r="1.15" fill="#f2981c"/><circle cx="448.6" cy="74.1" r="1.15" fill="#14a079"/><circle cx="407.5" cy="116.2" r="1.15" fill="#f2981c"/><circle cx="382.5" cy="81.8" r="1.15" fill="#f2981c"/><circle cx="430.3" cy="62.4" r="1.15" fill="#14a079"/><circle cx="390.2" cy="120.8" r="1.15" fill="#f2981c"/><circle cx="385.8" cy="105.9" r="1.15" fill="#f2981c"/><circle cx="376.5" cy="102.3" r="1.15" fill="#f2981c"/><circle cx="392.1" cy="63.0" r="1.15" fill="#f2981c"/><circle cx="323.6" cy="61.7" r="1.15" fill="#b8479a"/><circle cx="375.2" cy="50.9" r="1.15" fill="#f2981c"/><circle cx="375.6" cy="86.8" r="1.15" fill="#f2981c"/><circle cx="410.9" cy="99.8" r="1.15" fill="#f2981c"/><circle cx="422.8" cy="76.4" r="1.15" fill="#14a079"/><circle cx="385.0" cy="67.0" r="1.15" fill="#f2981c"/><circle cx="407.1" cy="91.4" r="1.15" fill="#f2981c"/><circle cx="355.6" cy="53.9" r="1.15" fill="#f2981c"/><circle cx="431.8" cy="61.7" r="1.15" fill="#14a079"/><circle cx="449.1" cy="64.7" r="1.15" fill="#14a079"/><circle cx="413.0" cy="98.2" r="1.15" fill="#f2981c"/><circle cx="415.1" cy="70.9" r="1.15" fill="#14a079"/><circle cx="329.8" cy="47.8" r="1.15" fill="#b8479a"/><circle cx="404.8" cy="96.2" r="1.15" fill="#f2981c"/><circle cx="457.9" cy="114.1" r="1.15" fill="#14a079"/><circle cx="391.5" cy="128.7" r="1.15" fill="#f2981c"/><circle cx="409.9" cy="106.8" r="1.15" fill="#f2981c"/><circle cx="416.4" cy="67.6" r="1.15" fill="#14a079"/><circle cx="401.0" cy="68.7" r="1.15" fill="#f2981c"/><circle cx="347.5" cy="51.6" r="1.15" fill="#b8479a"/><circle cx="400.9" cy="63.6" r="1.15" fill="#f2981c"/><circle cx="449.5" cy="72.0" r="1.15" fill="#14a079"/><circle cx="399.9" cy="76.3" r="1.15" fill="#f2981c"/><circle cx="384.8" cy="103.6" r="1.15" fill="#f2981c"/><circle cx="418.0" cy="101.4" r="1.15" fill="#f2981c"/><circle cx="382.1" cy="63.3" r="1.15" fill="#f2981c"/><circle cx="409.6" cy="97.9" r="1.15" fill="#f2981c"/><circle cx="465.7" cy="77.5" r="1.15" fill="#14a079"/><circle cx="392.2" cy="79.2" r="1.15" fill="#f2981c"/><circle cx="387.6" cy="123.8" r="1.15" fill="#f2981c"/><circle cx="390.2" cy="105.0" r="1.15" fill="#f2981c"/><circle cx="384.8" cy="62.6" r="1.15" fill="#f2981c"/><circle cx="374.4" cy="95.2" r="1.15" fill="#f2981c"/><circle cx="345.4" cy="56.7" r="1.15" fill="#b8479a"/><circle cx="404.9" cy="86.2" r="1.15" fill="#f2981c"/><circle cx="413.0" cy="97.6" r="1.15" fill="#f2981c"/><circle cx="401.5" cy="113.9" r="1.15" fill="#f2981c"/><circle cx="398.9" cy="123.2" r="1.15" fill="#f2981c"/><circle cx="398.0" cy="129.6" r="1.15" fill="#f2981c"/><circle cx="437.8" cy="105.4" r="1.15" fill="#14a079"/><circle cx="460.1" cy="81.4" r="1.15" fill="#14a079"/><circle cx="347.0" cy="55.2" r="1.15" fill="#b8479a"/><circle cx="392.5" cy="98.2" r="1.15" fill="#f2981c"/><circle cx="448.7" cy="72.2" r="1.15" fill="#14a079"/><circle cx="332.5" cy="38.4" r="1.15" fill="#b8479a"/><circle cx="374.2" cy="52.7" r="1.15" fill="#f2981c"/><circle cx="459.7" cy="77.8" r="1.15" fill="#14a079"/><circle cx="409.8" cy="66.3" r="1.15" fill="#f2981c"/><circle cx="351.1" cy="49.4" r="1.15" fill="#b8479a"/><circle cx="421.5" cy="75.5" r="1.15" fill="#14a079"/><circle cx="457.3" cy="64.6" r="1.15" fill="#14a079"/><circle cx="446.8" cy="92.7" r="1.15" fill="#14a079"/><circle cx="377.3" cy="108.3" r="1.15" fill="#f2981c"/><circle cx="329.4" cy="52.3" r="1.15" fill="#b8479a"/><circle cx="338.9" cy="42.4" r="1.15" fill="#b8479a"/><circle cx="403.7" cy="66.3" r="1.15" fill="#f2981c"/><circle cx="346.2" cy="55.3" r="1.15" fill="#b8479a"/><circle cx="353.7" cy="58.0" r="1.15" fill="#b8479a"/><circle cx="402.5" cy="98.0" r="1.15" fill="#f2981c"/><circle cx="373.8" cy="52.3" r="1.15" fill="#f2981c"/><circle cx="422.0" cy="88.3" r="1.15" fill="#14a079"/><circle cx="428.6" cy="75.2" r="1.15" fill="#14a079"/><circle cx="377.1" cy="88.6" r="1.15" fill="#f2981c"/><circle cx="412.7" cy="91.8" r="1.15" fill="#f2981c"/><circle cx="397.6" cy="114.6" r="1.15" fill="#f2981c"/><circle cx="402.6" cy="79.1" r="1.15" fill="#f2981c"/><circle cx="392.1" cy="123.0" r="1.15" fill="#f2981c"/><circle cx="436.7" cy="83.4" r="1.15" fill="#14a079"/><circle cx="363.3" cy="63.6" r="1.15" fill="#f2981c"/><circle cx="476.0" cy="96.0" r="1.15" fill="#14a079"/><circle cx="422.7" cy="87.3" r="1.15" fill="#14a079"/><circle cx="338.3" cy="38.1" r="1.15" fill="#b8479a"/><circle cx="445.7" cy="72.0" r="1.15" fill="#14a079"/><circle cx="411.0" cy="112.8" r="1.15" fill="#f2981c"/><circle cx="334.6" cy="45.8" r="1.15" fill="#b8479a"/><circle cx="426.1" cy="98.4" r="1.15" fill="#14a079"/><circle cx="395.6" cy="91.7" r="1.15" fill="#f2981c"/><circle cx="382.1" cy="85.7" r="1.15" fill="#f2981c"/><circle cx="347.3" cy="43.7" r="1.15" fill="#b8479a"/><circle cx="379.4" cy="88.1" r="1.15" fill="#f2981c"/><circle cx="436.1" cy="97.2" r="1.15" fill="#14a079"/><circle cx="415.2" cy="95.6" r="1.15" fill="#f2981c"/><circle cx="421.4" cy="73.2" r="1.15" fill="#14a079"/><circle cx="343.6" cy="50.3" r="1.15" fill="#b8479a"/><circle cx="398.6" cy="129.7" r="1.15" fill="#f2981c"/><circle cx="406.9" cy="51.9" r="1.15" fill="#f2981c"/><circle cx="400.8" cy="93.6" r="1.15" fill="#f2981c"/><circle cx="341.6" cy="68.0" r="1.15" fill="#b8479a"/><circle cx="342.6" cy="59.4" r="1.15" fill="#b8479a"/><circle cx="385.7" cy="55.9" r="1.15" fill="#f2981c"/><circle cx="382.1" cy="110.2" r="1.15" fill="#f2981c"/><circle cx="330.6" cy="47.1" r="1.15" fill="#b8479a"/><circle cx="396.1" cy="124.7" r="1.15" fill="#f2981c"/><circle cx="448.4" cy="64.5" r="1.15" fill="#14a079"/><circle cx="449.0" cy="82.4" r="1.15" fill="#14a079"/><circle cx="333.1" cy="53.8" r="1.15" fill="#b8479a"/><circle cx="445.2" cy="63.2" r="1.15" fill="#14a079"/><circle cx="377.1" cy="69.3" r="1.15" fill="#f2981c"/><circle cx="396.3" cy="126.3" r="1.15" fill="#f2981c"/><circle cx="334.6" cy="50.5" r="1.15" fill="#b8479a"/><circle cx="434.1" cy="77.2" r="1.15" fill="#14a079"/><circle cx="444.5" cy="33.8" r="1.15" fill="#2a86b8"/><circle cx="431.2" cy="72.5" r="1.15" fill="#14a079"/><circle cx="429.2" cy="68.2" r="1.15" fill="#14a079"/><circle cx="381.6" cy="58.9" r="1.15" fill="#f2981c"/><circle cx="417.4" cy="78.2" r="1.15" fill="#14a079"/><circle cx="401.5" cy="99.7" r="1.15" fill="#f2981c"/><circle cx="424.1" cy="87.1" r="1.15" fill="#14a079"/><circle cx="426.2" cy="90.4" r="1.15" fill="#14a079"/><circle cx="434.6" cy="90.6" r="1.15" fill="#14a079"/><circle cx="362.8" cy="54.3" r="1.15" fill="#f2981c"/><circle cx="377.7" cy="97.7" r="1.15" fill="#f2981c"/><circle cx="385.4" cy="59.4" r="1.15" fill="#f2981c"/><circle cx="331.2" cy="38.7" r="1.15" fill="#b8479a"/><circle cx="385.9" cy="60.1" r="1.15" fill="#f2981c"/><circle cx="406.6" cy="49.2" r="1.15" fill="#f2981c"/><circle cx="443.8" cy="73.8" r="1.15" fill="#14a079"/><circle cx="353.6" cy="49.3" r="1.15" fill="#b8479a"/><circle cx="406.7" cy="77.9" r="1.15" fill="#f2981c"/><circle cx="386.4" cy="66.2" r="1.15" fill="#f2981c"/><circle cx="330.9" cy="45.4" r="1.15" fill="#b8479a"/><circle cx="388.4" cy="67.2" r="1.15" fill="#f2981c"/><circle cx="440.0" cy="89.6" r="1.15" fill="#14a079"/><circle cx="434.6" cy="88.3" r="1.15" fill="#14a079"/><circle cx="374.9" cy="100.4" r="1.15" fill="#f2981c"/><circle cx="381.4" cy="106.5" r="1.15" fill="#f2981c"/><circle cx="388.4" cy="98.4" r="1.15" fill="#f2981c"/><circle cx="370.2" cy="54.6" r="1.15" fill="#f2981c"/><circle cx="414.3" cy="103.3" r="1.15" fill="#f2981c"/><circle cx="401.3" cy="120.0" r="1.15" fill="#f2981c"/><circle cx="442.5" cy="70.3" r="1.15" fill="#14a079"/><circle cx="382.1" cy="72.4" r="1.15" fill="#f2981c"/><circle cx="392.4" cy="52.2" r="1.15" fill="#f2981c"/><circle cx="323.4" cy="44.2" r="1.15" fill="#b8479a"/><circle cx="453.7" cy="72.1" r="1.15" fill="#14a079"/><circle cx="402.6" cy="90.4" r="1.15" fill="#f2981c"/><circle cx="406.8" cy="76.8" r="1.15" fill="#f2981c"/><circle cx="375.7" cy="98.4" r="1.15" fill="#f2981c"/><circle cx="348.0" cy="63.8" r="1.15" fill="#b8479a"/><circle cx="368.1" cy="73.3" r="1.15" fill="#f2981c"/><circle cx="440.0" cy="95.7" r="1.15" fill="#14a079"/><circle cx="385.5" cy="116.8" r="1.15" fill="#f2981c"/><circle cx="446.0" cy="64.1" r="1.15" fill="#14a079"/><circle cx="384.4" cy="106.1" r="1.15" fill="#f2981c"/><circle cx="409.2" cy="48.4" r="1.15" fill="#f2981c"/><circle cx="413.8" cy="52.4" r="1.15" fill="#f2981c"/><circle cx="350.8" cy="47.2" r="1.15" fill="#b8479a"/><circle cx="395.1" cy="110.2" r="1.15" fill="#f2981c"/><circle cx="401.3" cy="105.3" r="1.15" fill="#f2981c"/><circle cx="392.0" cy="58.2" r="1.15" fill="#f2981c"/><circle cx="342.8" cy="65.4" r="1.15" fill="#b8479a"/><circle cx="402.8" cy="115.7" r="1.15" fill="#f2981c"/><circle cx="390.3" cy="124.2" r="1.15" fill="#f2981c"/><circle cx="402.1" cy="66.8" r="1.15" fill="#f2981c"/><circle cx="407.6" cy="84.2" r="1.15" fill="#f2981c"/><circle cx="359.0" cy="60.1" r="1.15" fill="#f2981c"/><circle cx="400.3" cy="77.4" r="1.15" fill="#f2981c"/><circle cx="381.5" cy="83.2" r="1.15" fill="#f2981c"/><circle cx="332.3" cy="65.3" r="1.15" fill="#b8479a"/><circle cx="374.8" cy="64.4" r="1.15" fill="#f2981c"/><circle cx="355.0" cy="49.7" r="1.15" fill="#b8479a"/><circle cx="440.5" cy="31.5" r="1.15" fill="#2a86b8"/><circle cx="338.0" cy="44.0" r="1.15" fill="#b8479a"/><circle cx="428.9" cy="63.4" r="1.15" fill="#14a079"/><circle cx="381.9" cy="89.7" r="1.15" fill="#f2981c"/><circle cx="355.0" cy="56.6" r="1.15" fill="#b8479a"/><circle cx="397.5" cy="57.0" r="1.15" fill="#f2981c"/><circle cx="392.1" cy="94.5" r="1.15" fill="#f2981c"/><circle cx="353.0" cy="47.3" r="1.15" fill="#b8479a"/><circle cx="377.9" cy="104.1" r="1.15" fill="#f2981c"/><circle cx="416.9" cy="92.8" r="1.15" fill="#f2981c"/><circle cx="398.9" cy="80.7" r="1.15" fill="#f2981c"/><circle cx="432.0" cy="80.6" r="1.15" fill="#14a079"/><circle cx="325.6" cy="41.5" r="1.15" fill="#b8479a"/><circle cx="332.2" cy="57.6" r="1.15" fill="#b8479a"/><circle cx="367.3" cy="53.1" r="1.15" fill="#f2981c"/><circle cx="406.0" cy="92.6" r="1.15" fill="#f2981c"/><circle cx="438.0" cy="97.5" r="1.15" fill="#14a079"/><circle cx="449.3" cy="99.7" r="1.15" fill="#14a079"/><circle cx="364.9" cy="66.7" r="1.15" fill="#f2981c"/><circle cx="434.6" cy="74.8" r="1.15" fill="#14a079"/><circle cx="388.5" cy="53.4" r="1.15" fill="#f2981c"/><circle cx="409.8" cy="108.4" r="1.15" fill="#f2981c"/><circle cx="424.9" cy="72.9" r="1.15" fill="#14a079"/><circle cx="381.4" cy="65.2" r="1.15" fill="#f2981c"/><circle cx="331.5" cy="46.6" r="1.15" fill="#b8479a"/><circle cx="408.5" cy="49.4" r="1.15" fill="#f2981c"/><circle cx="449.0" cy="86.2" r="1.15" fill="#14a079"/><circle cx="401.3" cy="88.5" r="1.15" fill="#f2981c"/><circle cx="385.0" cy="110.2" r="1.15" fill="#f2981c"/><circle cx="394.6" cy="82.0" r="1.15" fill="#f2981c"/><circle cx="389.4" cy="122.2" r="1.15" fill="#f2981c"/><circle cx="376.5" cy="96.5" r="1.15" fill="#f2981c"/><circle cx="340.8" cy="53.7" r="1.15" fill="#b8479a"/><circle cx="347.6" cy="49.5" r="1.15" fill="#b8479a"/><circle cx="398.3" cy="74.0" r="1.15" fill="#f2981c"/><circle cx="446.0" cy="97.2" r="1.15" fill="#14a079"/><circle cx="436.0" cy="96.0" r="1.15" fill="#14a079"/><circle cx="357.0" cy="66.5" r="1.15" fill="#f2981c"/><circle cx="370.1" cy="76.7" r="1.15" fill="#f2981c"/><circle cx="458.1" cy="94.7" r="1.15" fill="#14a079"/><circle cx="369.7" cy="68.6" r="1.15" fill="#f2981c"/><circle cx="400.5" cy="76.4" r="1.15" fill="#f2981c"/><circle cx="388.2" cy="76.4" r="1.15" fill="#f2981c"/><circle cx="340.7" cy="63.6" r="1.15" fill="#b8479a"/><circle cx="446.6" cy="82.1" r="1.15" fill="#14a079"/><circle cx="380.4" cy="94.4" r="1.15" fill="#f2981c"/><circle cx="434.7" cy="61.9" r="1.15" fill="#14a079"/><circle cx="351.2" cy="67.3" r="1.15" fill="#b8479a"/><circle cx="445.0" cy="92.2" r="1.15" fill="#14a079"/><circle cx="394.3" cy="102.5" r="1.15" fill="#f2981c"/><circle cx="388.6" cy="68.4" r="1.15" fill="#f2981c"/><circle cx="431.2" cy="75.0" r="1.15" fill="#14a079"/><circle cx="368.7" cy="57.0" r="1.15" fill="#f2981c"/><circle cx="416.4" cy="90.5" r="1.15" fill="#14a079"/><circle cx="428.5" cy="103.4" r="1.15" fill="#14a079"/><circle cx="377.5" cy="57.0" r="1.15" fill="#f2981c"/><circle cx="390.3" cy="123.2" r="1.15" fill="#f2981c"/><circle cx="389.4" cy="126.7" r="1.15" fill="#f2981c"/><circle cx="434.3" cy="102.6" r="1.15" fill="#14a079"/><circle cx="378.7" cy="50.3" r="1.15" fill="#f2981c"/><circle cx="385.4" cy="68.2" r="1.15" fill="#f2981c"/><circle cx="406.8" cy="51.7" r="1.15" fill="#f2981c"/><circle cx="389.9" cy="104.4" r="1.15" fill="#f2981c"/><circle cx="445.0" cy="90.1" r="1.15" fill="#14a079"/><circle cx="442.2" cy="75.7" r="1.15" fill="#14a079"/><circle cx="403.6" cy="84.8" r="1.15" fill="#f2981c"/><circle cx="392.5" cy="88.5" r="1.15" fill="#f2981c"/><circle cx="406.3" cy="62.9" r="1.15" fill="#f2981c"/><circle cx="421.7" cy="89.9" r="1.15" fill="#14a079"/><circle cx="388.5" cy="91.2" r="1.15" fill="#f2981c"/><circle cx="375.9" cy="62.3" r="1.15" fill="#f2981c"/><circle cx="368.0" cy="59.0" r="1.15" fill="#f2981c"/><circle cx="426.6" cy="71.0" r="1.15" fill="#14a079"/><circle cx="465.9" cy="92.2" r="1.15" fill="#14a079"/><circle cx="378.4" cy="115.1" r="1.15" fill="#f2981c"/><circle cx="407.5" cy="85.2" r="1.15" fill="#f2981c"/><circle cx="435.5" cy="35.2" r="1.15" fill="#f2981c"/><circle cx="364.0" cy="63.4" r="1.15" fill="#f2981c"/><circle cx="443.8" cy="71.4" r="1.15" fill="#14a079"/><circle cx="402.9" cy="65.6" r="1.15" fill="#f2981c"/><circle cx="384.2" cy="84.3" r="1.15" fill="#f2981c"/><circle cx="465.8" cy="93.9" r="1.15" fill="#14a079"/><circle cx="438.3" cy="61.7" r="1.15" fill="#14a079"/><circle cx="424.0" cy="77.0" r="1.15" fill="#14a079"/><circle cx="386.4" cy="87.7" r="1.15" fill="#f2981c"/><circle cx="411.6" cy="80.9" r="1.15" fill="#f2981c"/><circle cx="378.7" cy="59.4" r="1.15" fill="#f2981c"/><circle cx="417.6" cy="87.6" r="1.15" fill="#14a079"/><circle cx="345.2" cy="47.1" r="1.15" fill="#b8479a"/><circle cx="427.0" cy="71.7" r="1.15" fill="#14a079"/><circle cx="366.9" cy="63.3" r="1.15" fill="#f2981c"/><circle cx="407.5" cy="83.7" r="1.15" fill="#f2981c"/><circle cx="330.2" cy="52.6" r="1.15" fill="#b8479a"/><circle cx="351.5" cy="59.1" r="1.15" fill="#b8479a"/><circle cx="356.8" cy="58.6" r="1.15" fill="#b8479a"/><circle cx="458.3" cy="96.4" r="1.15" fill="#14a079"/><circle cx="430.9" cy="61.5" r="1.15" fill="#14a079"/><circle cx="403.4" cy="66.4" r="1.15" fill="#f2981c"/><circle cx="379.7" cy="121.8" r="1.15" fill="#f2981c"/><circle cx="389.3" cy="66.4" r="1.15" fill="#f2981c"/><circle cx="418.8" cy="86.3" r="1.15" fill="#14a079"/><circle cx="446.6" cy="97.9" r="1.15" fill="#14a079"/><circle cx="325.4" cy="41.4" r="1.15" fill="#b8479a"/><circle cx="378.5" cy="98.2" r="1.15" fill="#f2981c"/><circle cx="396.0" cy="52.3" r="1.15" fill="#f2981c"/><circle cx="408.1" cy="113.9" r="1.15" fill="#f2981c"/><circle cx="401.2" cy="81.3" r="1.15" fill="#f2981c"/><circle cx="379.9" cy="117.2" r="1.15" fill="#f2981c"/><circle cx="449.2" cy="95.5" r="1.15" fill="#14a079"/><circle cx="428.3" cy="69.2" r="1.15" fill="#14a079"/><circle cx="380.0" cy="113.3" r="1.15" fill="#f2981c"/><circle cx="384.1" cy="88.4" r="1.15" fill="#f2981c"/><circle cx="450.7" cy="93.2" r="1.15" fill="#14a079"/><circle cx="378.3" cy="67.0" r="1.15" fill="#f2981c"/><circle cx="377.0" cy="62.6" r="1.15" fill="#f2981c"/><circle cx="397.5" cy="79.9" r="1.15" fill="#f2981c"/><circle cx="409.5" cy="52.0" r="1.15" fill="#f2981c"/><circle cx="348.5" cy="51.4" r="1.15" fill="#b8479a"/><circle cx="408.9" cy="62.3" r="1.15" fill="#f2981c"/><circle cx="337.3" cy="46.4" r="1.15" fill="#b8479a"/><circle cx="467.0" cy="73.2" r="1.15" fill="#14a079"/><circle cx="429.7" cy="94.2" r="1.15" fill="#14a079"/><circle cx="387.9" cy="122.1" r="1.15" fill="#f2981c"/><circle cx="328.1" cy="47.4" r="1.15" fill="#b8479a"/><circle cx="402.3" cy="59.3" r="1.15" fill="#f2981c"/><circle cx="390.0" cy="96.1" r="1.15" fill="#f2981c"/><circle cx="375.7" cy="52.5" r="1.15" fill="#f2981c"/><circle cx="332.8" cy="60.7" r="1.15" fill="#b8479a"/><circle cx="405.5" cy="108.6" r="1.15" fill="#f2981c"/><circle cx="373.0" cy="82.1" r="1.15" fill="#f2981c"/><circle cx="453.9" cy="105.4" r="1.15" fill="#14a079"/><circle cx="326.6" cy="51.9" r="1.15" fill="#b8479a"/><circle cx="444.5" cy="64.9" r="1.15" fill="#14a079"/><circle cx="448.8" cy="89.6" r="1.15" fill="#14a079"/><circle cx="442.5" cy="30.2" r="1.15" fill="#2a86b8"/><circle cx="400.5" cy="64.2" r="1.15" fill="#f2981c"/><circle cx="407.4" cy="47.4" r="1.15" fill="#f2981c"/><circle cx="400.5" cy="81.7" r="1.15" fill="#f2981c"/><circle cx="438.1" cy="63.9" r="1.15" fill="#14a079"/><circle cx="382.0" cy="106.8" r="1.15" fill="#f2981c"/><circle cx="450.3" cy="91.8" r="1.15" fill="#14a079"/><circle cx="436.3" cy="85.0" r="1.15" fill="#14a079"/><circle cx="453.4" cy="80.8" r="1.15" fill="#14a079"/><circle cx="385.2" cy="61.5" r="1.15" fill="#f2981c"/><circle cx="400.1" cy="68.6" r="1.15" fill="#f2981c"/><circle cx="443.8" cy="70.8" r="1.15" fill="#14a079"/><circle cx="376.4" cy="52.3" r="1.15" fill="#f2981c"/><circle cx="391.9" cy="100.1" r="1.15" fill="#f2981c"/><circle cx="393.0" cy="128.7" r="1.15" fill="#f2981c"/><circle cx="403.9" cy="58.1" r="1.15" fill="#f2981c"/><circle cx="427.7" cy="87.8" r="1.15" fill="#14a079"/><circle cx="362.0" cy="55.4" r="1.15" fill="#f2981c"/><circle cx="391.3" cy="60.6" r="1.15" fill="#f2981c"/><circle cx="403.3" cy="50.4" r="1.15" fill="#f2981c"/><circle cx="380.3" cy="91.6" r="1.15" fill="#f2981c"/><circle cx="445.4" cy="81.9" r="1.15" fill="#14a079"/><circle cx="432.1" cy="89.3" r="1.15" fill="#14a079"/><circle cx="403.8" cy="73.3" r="1.15" fill="#f2981c"/><circle cx="401.6" cy="67.0" r="1.15" fill="#f2981c"/><circle cx="396.4" cy="54.2" r="1.15" fill="#f2981c"/><circle cx="433.8" cy="94.0" r="1.15" fill="#14a079"/><circle cx="462.0" cy="60.0" r="1.15" fill="#14a079"/><circle cx="381.3" cy="82.5" r="1.15" fill="#f2981c"/><circle cx="398.0" cy="125.0" r="1.15" fill="#f2981c"/><circle cx="403.9" cy="108.7" r="1.15" fill="#f2981c"/><circle cx="330.6" cy="49.2" r="1.15" fill="#b8479a"/><circle cx="423.4" cy="75.9" r="1.15" fill="#14a079"/><circle cx="451.9" cy="99.2" r="1.15" fill="#14a079"/><circle cx="387.6" cy="116.1" r="1.15" fill="#f2981c"/><circle cx="460.4" cy="70.9" r="1.15" fill="#14a079"/><circle cx="393.8" cy="56.5" r="1.15" fill="#f2981c"/><circle cx="382.6" cy="53.1" r="1.15" fill="#f2981c"/><circle cx="428.4" cy="94.8" r="1.15" fill="#14a079"/><circle cx="397.0" cy="80.2" r="1.15" fill="#f2981c"/><circle cx="398.5" cy="79.1" r="1.15" fill="#f2981c"/><circle cx="386.5" cy="116.1" r="1.15" fill="#f2981c"/><circle cx="347.5" cy="54.2" r="1.15" fill="#b8479a"/><circle cx="413.5" cy="98.6" r="1.15" fill="#f2981c"/><circle cx="372.8" cy="79.1" r="1.15" fill="#f2981c"/><circle cx="379.7" cy="112.1" r="1.15" fill="#f2981c"/><circle cx="344.1" cy="63.0" r="1.15" fill="#b8479a"/><circle cx="405.4" cy="117.3" r="1.15" fill="#f2981c"/><circle cx="423.5" cy="96.6" r="1.15" fill="#14a079"/><circle cx="396.0" cy="125.7" r="1.15" fill="#f2981c"/><circle cx="393.4" cy="98.1" r="1.15" fill="#f2981c"/><circle cx="383.2" cy="79.1" r="1.15" fill="#f2981c"/><circle cx="382.7" cy="89.3" r="1.15" fill="#f2981c"/><circle cx="384.9" cy="64.4" r="1.15" fill="#f2981c"/><circle cx="412.4" cy="93.3" r="1.15" fill="#f2981c"/><circle cx="406.9" cy="54.3" r="1.15" fill="#f2981c"/><circle cx="375.4" cy="87.6" r="1.15" fill="#f2981c"/><circle cx="410.7" cy="91.0" r="1.15" fill="#f2981c"/><circle cx="338.0" cy="57.3" r="1.15" fill="#b8479a"/><circle cx="389.4" cy="63.8" r="1.15" fill="#f2981c"/><circle cx="396.8" cy="66.5" r="1.15" fill="#f2981c"/><circle cx="408.8" cy="89.5" r="1.15" fill="#f2981c"/><circle cx="380.1" cy="90.6" r="1.15" fill="#f2981c"/><circle cx="380.2" cy="77.8" r="1.15" fill="#f2981c"/><circle cx="381.0" cy="87.3" r="1.15" fill="#f2981c"/><circle cx="406.7" cy="104.0" r="1.15" fill="#f2981c"/><circle cx="462.4" cy="74.2" r="1.15" fill="#14a079"/><circle cx="419.7" cy="96.1" r="1.15" fill="#f2981c"/><circle cx="441.9" cy="94.5" r="1.15" fill="#14a079"/><circle cx="409.8" cy="51.7" r="1.15" fill="#f2981c"/><circle cx="407.6" cy="69.0" r="1.15" fill="#f2981c"/><circle cx="430.6" cy="63.6" r="1.15" fill="#14a079"/><circle cx="330.1" cy="51.4" r="1.15" fill="#b8479a"/><circle cx="354.2" cy="59.3" r="1.15" fill="#b8479a"/><circle cx="428.3" cy="87.5" r="1.15" fill="#14a079"/><circle cx="366.1" cy="61.1" r="1.15" fill="#f2981c"/><circle cx="419.7" cy="96.7" r="1.15" fill="#14a079"/><circle cx="335.9" cy="62.1" r="1.15" fill="#b8479a"/><circle cx="392.1" cy="61.7" r="1.15" fill="#f2981c"/><circle cx="442.8" cy="94.8" r="1.15" fill="#14a079"/><circle cx="396.3" cy="119.9" r="1.15" fill="#f2981c"/><circle cx="428.5" cy="72.4" r="1.15" fill="#14a079"/><circle cx="453.7" cy="57.4" r="1.15" fill="#14a079"/><circle cx="405.0" cy="102.5" r="1.15" fill="#f2981c"/><circle cx="412.4" cy="95.2" r="1.15" fill="#f2981c"/><circle cx="424.5" cy="86.6" r="1.15" fill="#14a079"/><circle cx="426.0" cy="73.1" r="1.15" fill="#14a079"/><circle cx="373.4" cy="56.6" r="1.15" fill="#f2981c"/><circle cx="415.8" cy="95.2" r="1.15" fill="#f2981c"/><circle cx="448.9" cy="83.1" r="1.15" fill="#14a079"/><circle cx="390.3" cy="84.2" r="1.15" fill="#f2981c"/><circle cx="325.4" cy="52.2" r="1.15" fill="#b8479a"/><circle cx="385.5" cy="87.4" r="1.15" fill="#f2981c"/><circle cx="361.5" cy="50.6" r="1.15" fill="#f2981c"/><circle cx="367.3" cy="61.0" r="1.15" fill="#f2981c"/><circle cx="396.9" cy="73.8" r="1.15" fill="#f2981c"/><circle cx="383.6" cy="72.3" r="1.15" fill="#f2981c"/><circle cx="390.3" cy="66.3" r="1.15" fill="#f2981c"/><circle cx="378.3" cy="92.1" r="1.15" fill="#f2981c"/><circle cx="454.8" cy="96.5" r="1.15" fill="#14a079"/><circle cx="385.8" cy="63.2" r="1.15" fill="#f2981c"/><circle cx="386.1" cy="109.2" r="1.15" fill="#f2981c"/><circle cx="442.1" cy="98.9" r="1.15" fill="#14a079"/><circle cx="397.6" cy="83.4" r="1.15" fill="#f2981c"/><circle cx="410.1" cy="50.1" r="1.15" fill="#f2981c"/><circle cx="432.0" cy="63.1" r="1.15" fill="#14a079"/><circle cx="329.9" cy="42.7" r="1.15" fill="#b8479a"/><circle cx="388.5" cy="63.0" r="1.15" fill="#f2981c"/><circle cx="353.4" cy="50.5" r="1.15" fill="#b8479a"/><circle cx="385.0" cy="111.0" r="1.15" fill="#f2981c"/><circle cx="353.6" cy="60.4" r="1.15" fill="#f2981c"/><circle cx="386.5" cy="75.2" r="1.15" fill="#f2981c"/><circle cx="378.2" cy="66.6" r="1.15" fill="#f2981c"/><circle cx="456.4" cy="99.7" r="1.15" fill="#14a079"/><circle cx="373.4" cy="71.6" r="1.15" fill="#f2981c"/><circle cx="456.2" cy="69.5" r="1.15" fill="#14a079"/><circle cx="393.6" cy="53.0" r="1.15" fill="#f2981c"/><circle cx="388.8" cy="125.5" r="1.15" fill="#f2981c"/><circle cx="441.9" cy="98.8" r="1.15" fill="#14a079"/><circle cx="394.5" cy="62.4" r="1.15" fill="#f2981c"/><circle cx="385.2" cy="87.9" r="1.15" fill="#f2981c"/><circle cx="379.7" cy="115.9" r="1.15" fill="#f2981c"/><circle cx="387.3" cy="92.9" r="1.15" fill="#f2981c"/><circle cx="345.7" cy="46.9" r="1.15" fill="#b8479a"/><circle cx="410.6" cy="92.6" r="1.15" fill="#f2981c"/><circle cx="343.4" cy="43.3" r="1.15" fill="#b8479a"/><circle cx="435.1" cy="70.4" r="1.15" fill="#14a079"/><circle cx="343.4" cy="58.8" r="1.15" fill="#b8479a"/><circle cx="452.8" cy="81.5" r="1.15" fill="#14a079"/><circle cx="381.6" cy="56.9" r="1.15" fill="#f2981c"/><circle cx="330.4" cy="63.7" r="1.15" fill="#b8479a"/><circle cx="323.0" cy="50.9" r="1.15" fill="#b8479a"/><circle cx="379.5" cy="113.4" r="1.15" fill="#f2981c"/><circle cx="344.6" cy="49.4" r="1.15" fill="#b8479a"/><circle cx="432.0" cy="99.7" r="1.15" fill="#14a079"/><circle cx="428.6" cy="66.1" r="1.15" fill="#14a079"/><circle cx="360.0" cy="75.2" r="1.15" fill="#f2981c"/><circle cx="417.3" cy="72.8" r="1.15" fill="#14a079"/><circle cx="385.0" cy="129.5" r="1.15" fill="#f2981c"/><circle cx="320.7" cy="54.1" r="1.15" fill="#b8479a"/><circle cx="420.1" cy="81.4" r="1.15" fill="#14a079"/><circle cx="419.1" cy="74.1" r="1.15" fill="#14a079"/><circle cx="436.9" cy="76.9" r="1.15" fill="#14a079"/><circle cx="402.7" cy="104.5" r="1.15" fill="#f2981c"/><circle cx="396.6" cy="67.7" r="1.15" fill="#f2981c"/><circle cx="384.9" cy="102.4" r="1.15" fill="#f2981c"/><circle cx="403.3" cy="84.4" r="1.15" fill="#f2981c"/><circle cx="429.8" cy="72.3" r="1.15" fill="#14a079"/><circle cx="385.9" cy="70.5" r="1.15" fill="#f2981c"/><circle cx="457.5" cy="62.3" r="1.15" fill="#14a079"/><circle cx="395.8" cy="109.8" r="1.15" fill="#f2981c"/><circle cx="373.4" cy="71.5" r="1.15" fill="#f2981c"/><circle cx="412.3" cy="92.9" r="1.15" fill="#f2981c"/><circle cx="364.5" cy="65.4" r="1.15" fill="#f2981c"/><circle cx="388.5" cy="77.0" r="1.15" fill="#f2981c"/><circle cx="340.0" cy="62.1" r="1.15" fill="#b8479a"/><circle cx="412.1" cy="93.6" r="1.15" fill="#f2981c"/><circle cx="451.8" cy="61.7" r="1.15" fill="#14a079"/><circle cx="390.9" cy="62.8" r="1.15" fill="#f2981c"/><circle cx="414.4" cy="102.2" r="1.15" fill="#f2981c"/><circle cx="406.6" cy="107.4" r="1.15" fill="#f2981c"/><circle cx="322.8" cy="59.4" r="1.15" fill="#b8479a"/><circle cx="384.7" cy="125.5" r="1.15" fill="#f2981c"/><circle cx="369.8" cy="78.0" r="1.15" fill="#f2981c"/><circle cx="416.7" cy="96.3" r="1.15" fill="#f2981c"/><circle cx="388.3" cy="113.0" r="1.15" fill="#f2981c"/><circle cx="446.9" cy="94.0" r="1.15" fill="#14a079"/><circle cx="410.1" cy="63.0" r="1.15" fill="#f2981c"/><circle cx="387.0" cy="51.8" r="1.15" fill="#f2981c"/><circle cx="432.5" cy="76.0" r="1.15" fill="#14a079"/><circle cx="437.2" cy="33.8" r="1.15" fill="#f2981c"/><circle cx="339.8" cy="54.1" r="1.15" fill="#b8479a"/><circle cx="364.6" cy="55.7" r="1.15" fill="#f2981c"/><circle cx="430.5" cy="64.4" r="1.15" fill="#14a079"/><circle cx="330.5" cy="54.3" r="1.15" fill="#b8479a"/><circle cx="434.8" cy="90.6" r="1.15" fill="#14a079"/><circle cx="381.7" cy="50.9" r="1.15" fill="#f2981c"/><circle cx="341.8" cy="68.3" r="1.15" fill="#b8479a"/><circle cx="348.7" cy="56.3" r="1.15" fill="#b8479a"/><circle cx="332.3" cy="56.7" r="1.15" fill="#b8479a"/><circle cx="422.1" cy="72.1" r="1.15" fill="#14a079"/><circle cx="376.8" cy="101.5" r="1.15" fill="#f2981c"/><circle cx="335.1" cy="65.2" r="1.15" fill="#b8479a"/><circle cx="384.4" cy="88.4" r="1.15" fill="#f2981c"/><circle cx="436.0" cy="43.0" r="1.15" fill="#1e5e9c"/><circle cx="408.0" cy="105.7" r="1.15" fill="#f2981c"/><circle cx="435.3" cy="97.6" r="1.15" fill="#14a079"/><circle cx="381.4" cy="80.1" r="1.15" fill="#f2981c"/><circle cx="421.4" cy="68.7" r="1.15" fill="#14a079"/><circle cx="334.8" cy="52.3" r="1.15" fill="#b8479a"/><circle cx="402.3" cy="72.6" r="1.15" fill="#f2981c"/><circle cx="347.7" cy="59.8" r="1.15" fill="#b8479a"/><circle cx="433.7" cy="73.8" r="1.15" fill="#14a079"/><circle cx="418.9" cy="84.1" r="1.15" fill="#14a079"/><circle cx="389.4" cy="127.7" r="1.15" fill="#f2981c"/><circle cx="380.4" cy="95.9" r="1.15" fill="#f2981c"/><circle cx="410.1" cy="89.7" r="1.15" fill="#f2981c"/><circle cx="419.7" cy="69.3" r="1.15" fill="#14a079"/><circle cx="340.1" cy="65.6" r="1.15" fill="#b8479a"/><circle cx="375.0" cy="80.6" r="1.15" fill="#f2981c"/><circle cx="414.2" cy="98.8" r="1.15" fill="#f2981c"/><circle cx="388.7" cy="55.8" r="1.15" fill="#f2981c"/><circle cx="382.9" cy="78.9" r="1.15" fill="#f2981c"/><circle cx="397.7" cy="94.8" r="1.15" fill="#f2981c"/><circle cx="415.3" cy="77.5" r="1.15" fill="#14a079"/><circle cx="440.8" cy="84.2" r="1.15" fill="#14a079"/><circle cx="420.6" cy="105.4" r="1.15" fill="#f2981c"/><circle cx="448.0" cy="87.2" r="1.15" fill="#14a079"/><circle cx="443.6" cy="70.5" r="1.15" fill="#14a079"/><circle cx="369.7" cy="79.2" r="1.15" fill="#f2981c"/><circle cx="341.4" cy="58.8" r="1.15" fill="#b8479a"/><circle cx="338.0" cy="55.0" r="1.15" fill="#b8479a"/><circle cx="426.8" cy="101.1" r="1.15" fill="#14a079"/><circle cx="428.8" cy="88.6" r="1.15" fill="#14a079"/><circle cx="391.7" cy="81.3" r="1.15" fill="#f2981c"/><circle cx="388.4" cy="105.5" r="1.15" fill="#f2981c"/><circle cx="442.9" cy="95.6" r="1.15" fill="#14a079"/><circle cx="381.9" cy="125.9" r="1.15" fill="#f2981c"/><circle cx="433.6" cy="75.4" r="1.15" fill="#14a079"/><circle cx="417.6" cy="83.1" r="1.15" fill="#14a079"/><circle cx="342.0" cy="53.6" r="1.15" fill="#b8479a"/><circle cx="334.5" cy="38.0" r="1.15" fill="#b8479a"/><circle cx="437.9" cy="72.7" r="1.15" fill="#14a079"/><circle cx="380.7" cy="107.5" r="1.15" fill="#f2981c"/><circle cx="334.4" cy="54.7" r="1.15" fill="#b8479a"/><circle cx="367.7" cy="72.7" r="1.15" fill="#f2981c"/><circle cx="415.4" cy="98.0" r="1.15" fill="#f2981c"/><circle cx="397.1" cy="115.9" r="1.15" fill="#f2981c"/><circle cx="456.6" cy="81.5" r="1.15" fill="#14a079"/><circle cx="443.8" cy="86.3" r="1.15" fill="#14a079"/><circle cx="401.7" cy="126.4" r="1.15" fill="#f2981c"/><circle cx="443.2" cy="74.4" r="1.15" fill="#14a079"/><circle cx="377.8" cy="109.0" r="1.15" fill="#f2981c"/><circle cx="403.5" cy="58.6" r="1.15" fill="#f2981c"/><circle cx="385.4" cy="104.7" r="1.15" fill="#f2981c"/><circle cx="440.1" cy="103.2" r="1.15" fill="#14a079"/><circle cx="345.6" cy="43.9" r="1.15" fill="#b8479a"/><circle cx="412.0" cy="52.5" r="1.15" fill="#f2981c"/><circle cx="375.3" cy="76.4" r="1.15" fill="#f2981c"/><circle cx="376.2" cy="86.3" r="1.15" fill="#f2981c"/><circle cx="439.0" cy="68.2" r="1.15" fill="#14a079"/><circle cx="374.8" cy="50.7" r="1.15" fill="#f2981c"/><circle cx="449.3" cy="80.3" r="1.15" fill="#14a079"/><circle cx="410.8" cy="46.5" r="1.15" fill="#f2981c"/><circle cx="383.4" cy="62.0" r="1.15" fill="#f2981c"/><circle cx="403.2" cy="64.6" r="1.15" fill="#f2981c"/><circle cx="409.0" cy="90.6" r="1.15" fill="#f2981c"/><circle cx="379.7" cy="114.8" r="1.15" fill="#f2981c"/><circle cx="404.3" cy="104.8" r="1.15" fill="#f2981c"/><circle cx="413.3" cy="96.5" r="1.15" fill="#f2981c"/><circle cx="375.0" cy="75.5" r="1.15" fill="#f2981c"/><circle cx="419.3" cy="91.7" r="1.15" fill="#14a079"/><circle cx="409.2" cy="113.5" r="1.15" fill="#f2981c"/><circle cx="368.4" cy="75.8" r="1.15" fill="#f2981c"/><circle cx="412.4" cy="64.2" r="1.15" fill="#f2981c"/><circle cx="373.0" cy="83.5" r="1.15" fill="#f2981c"/><circle cx="388.4" cy="77.4" r="1.15" fill="#f2981c"/><circle cx="460.4" cy="82.1" r="1.15" fill="#14a079"/><circle cx="402.7" cy="62.3" r="1.15" fill="#f2981c"/><circle cx="405.8" cy="115.5" r="1.15" fill="#f2981c"/><circle cx="385.2" cy="56.0" r="1.15" fill="#f2981c"/><circle cx="363.7" cy="60.2" r="1.15" fill="#f2981c"/><circle cx="431.8" cy="91.4" r="1.15" fill="#14a079"/><circle cx="437.2" cy="99.6" r="1.15" fill="#14a079"/><circle cx="399.8" cy="51.0" r="1.15" fill="#f2981c"/><circle cx="393.7" cy="73.4" r="1.15" fill="#f2981c"/><circle cx="455.7" cy="69.6" r="1.15" fill="#14a079"/><circle cx="389.7" cy="83.9" r="1.15" fill="#f2981c"/><circle cx="427.3" cy="96.7" r="1.15" fill="#14a079"/><circle cx="410.8" cy="65.6" r="1.15" fill="#f2981c"/><circle cx="441.5" cy="73.6" r="1.15" fill="#14a079"/><circle cx="453.5" cy="88.8" r="1.15" fill="#14a079"/><circle cx="407.6" cy="109.6" r="1.15" fill="#f2981c"/><circle cx="384.3" cy="71.5" r="1.15" fill="#f2981c"/><circle cx="394.9" cy="59.0" r="1.15" fill="#f2981c"/><circle cx="398.3" cy="98.3" r="1.15" fill="#f2981c"/><circle cx="366.8" cy="54.0" r="1.15" fill="#f2981c"/><circle cx="383.9" cy="112.7" r="1.15" fill="#f2981c"/><circle cx="367.6" cy="64.0" r="1.15" fill="#f2981c"/><circle cx="384.0" cy="53.1" r="1.15" fill="#f2981c"/><circle cx="407.3" cy="62.1" r="1.15" fill="#f2981c"/><circle cx="339.4" cy="48.1" r="1.15" fill="#b8479a"/><circle cx="389.5" cy="108.3" r="1.15" fill="#f2981c"/><circle cx="441.1" cy="92.2" r="1.15" fill="#14a079"/><circle cx="431.0" cy="64.9" r="1.15" fill="#14a079"/><circle cx="402.5" cy="97.7" r="1.15" fill="#f2981c"/><circle cx="409.9" cy="113.5" r="1.15" fill="#f2981c"/><circle cx="395.5" cy="75.0" r="1.15" fill="#f2981c"/><circle cx="458.8" cy="93.9" r="1.15" fill="#14a079"/><circle cx="388.3" cy="84.4" r="1.15" fill="#f2981c"/><circle cx="329.5" cy="50.2" r="1.15" fill="#b8479a"/><circle cx="435.5" cy="63.9" r="1.15" fill="#14a079"/><circle cx="431.1" cy="82.9" r="1.15" fill="#14a079"/><circle cx="465.4" cy="97.5" r="1.15" fill="#14a079"/><circle cx="392.0" cy="51.0" r="1.15" fill="#f2981c"/><circle cx="413.0" cy="100.2" r="1.15" fill="#f2981c"/><circle cx="343.1" cy="52.7" r="1.15" fill="#b8479a"/><circle cx="400.4" cy="118.1" r="1.15" fill="#f2981c"/><circle cx="396.5" cy="126.3" r="1.15" fill="#f2981c"/><circle cx="383.6" cy="57.9" r="1.15" fill="#f2981c"/><circle cx="410.7" cy="57.7" r="1.15" fill="#f2981c"/><circle cx="383.2" cy="74.9" r="1.15" fill="#f2981c"/><circle cx="396.5" cy="126.6" r="1.15" fill="#f2981c"/><circle cx="409.1" cy="53.3" r="1.15" fill="#f2981c"/><circle cx="403.1" cy="77.1" r="1.15" fill="#f2981c"/><circle cx="405.3" cy="56.0" r="1.15" fill="#f2981c"/><circle cx="363.5" cy="64.7" r="1.15" fill="#f2981c"/><circle cx="406.1" cy="69.2" r="1.15" fill="#f2981c"/><circle cx="383.5" cy="109.0" r="1.15" fill="#f2981c"/><circle cx="343.7" cy="43.1" r="1.15" fill="#b8479a"/><circle cx="440.2" cy="73.8" r="1.15" fill="#14a079"/><circle cx="442.2" cy="75.4" r="1.15" fill="#14a079"/><circle cx="341.9" cy="41.8" r="1.15" fill="#b8479a"/><circle cx="337.2" cy="61.6" r="1.15" fill="#b8479a"/><circle cx="395.8" cy="89.6" r="1.15" fill="#f2981c"/><circle cx="400.4" cy="121.2" r="1.15" fill="#f2981c"/><circle cx="391.2" cy="52.1" r="1.15" fill="#f2981c"/><circle cx="383.1" cy="97.9" r="1.15" fill="#f2981c"/><circle cx="343.4" cy="40.2" r="1.15" fill="#b8479a"/><circle cx="388.1" cy="68.9" r="1.15" fill="#f2981c"/><circle cx="396.2" cy="95.8" r="1.15" fill="#f2981c"/><circle cx="379.9" cy="78.4" r="1.15" fill="#f2981c"/><circle cx="420.1" cy="81.1" r="1.15" fill="#14a079"/><circle cx="350.7" cy="59.2" r="1.15" fill="#b8479a"/><circle cx="392.6" cy="84.1" r="1.15" fill="#f2981c"/><circle cx="416.6" cy="96.6" r="1.15" fill="#f2981c"/><circle cx="410.9" cy="74.2" r="1.15" fill="#f2981c"/><circle cx="393.2" cy="53.0" r="1.15" fill="#f2981c"/><circle cx="400.7" cy="113.5" r="1.15" fill="#f2981c"/><circle cx="339.8" cy="40.0" r="1.15" fill="#b8479a"/><circle cx="376.3" cy="100.9" r="1.15" fill="#f2981c"/><circle cx="374.6" cy="77.0" r="1.15" fill="#f2981c"/><circle cx="402.7" cy="115.8" r="1.15" fill="#f2981c"/><circle cx="377.9" cy="56.1" r="1.15" fill="#f2981c"/><circle cx="414.4" cy="93.6" r="1.15" fill="#f2981c"/><circle cx="384.8" cy="78.4" r="1.15" fill="#f2981c"/><circle cx="443.1" cy="91.4" r="1.15" fill="#14a079"/><circle cx="387.2" cy="101.9" r="1.15" fill="#f2981c"/><circle cx="378.5" cy="90.4" r="1.15" fill="#f2981c"/><circle cx="414.0" cy="101.6" r="1.15" fill="#f2981c"/><circle cx="407.4" cy="68.6" r="1.15" fill="#f2981c"/><circle cx="395.7" cy="67.8" r="1.15" fill="#f2981c"/><circle cx="435.7" cy="84.4" r="1.15" fill="#14a079"/><circle cx="417.8" cy="103.4" r="1.15" fill="#f2981c"/><circle cx="466.0" cy="72.8" r="1.15" fill="#14a079"/><circle cx="340.8" cy="49.7" r="1.15" fill="#b8479a"/><circle cx="402.7" cy="71.1" r="1.15" fill="#f2981c"/><circle cx="451.1" cy="79.3" r="1.15" fill="#14a079"/><circle cx="441.1" cy="63.1" r="1.15" fill="#14a079"/><circle cx="450.0" cy="39.6" r="1.15" fill="#1e5e9c"/><circle cx="410.1" cy="107.6" r="1.15" fill="#f2981c"/><circle cx="366.3" cy="62.4" r="1.15" fill="#f2981c"/><circle cx="381.4" cy="58.6" r="1.15" fill="#f2981c"/><circle cx="407.0" cy="96.7" r="1.15" fill="#f2981c"/><circle cx="447.4" cy="62.3" r="1.15" fill="#14a079"/><circle cx="465.4" cy="70.0" r="1.15" fill="#14a079"/><circle cx="353.8" cy="67.1" r="1.15" fill="#b8479a"/><circle cx="330.0" cy="52.0" r="1.15" fill="#b8479a"/><circle cx="434.3" cy="79.9" r="1.15" fill="#14a079"/><circle cx="327.9" cy="51.9" r="1.15" fill="#b8479a"/><circle cx="381.3" cy="100.7" r="1.15" fill="#f2981c"/><circle cx="342.6" cy="42.4" r="1.15" fill="#b8479a"/><circle cx="398.5" cy="128.1" r="1.15" fill="#f2981c"/><circle cx="337.3" cy="60.4" r="1.15" fill="#b8479a"/><circle cx="455.5" cy="99.0" r="1.15" fill="#14a079"/><circle cx="369.0" cy="59.1" r="1.15" fill="#f2981c"/><circle cx="393.4" cy="58.6" r="1.15" fill="#f2981c"/><circle cx="394.4" cy="53.8" r="1.15" fill="#f2981c"/><circle cx="402.5" cy="86.1" r="1.15" fill="#f2981c"/><circle cx="378.1" cy="75.1" r="1.15" fill="#f2981c"/><circle cx="433.4" cy="98.4" r="1.15" fill="#14a079"/><circle cx="339.9" cy="57.6" r="1.15" fill="#b8479a"/><circle cx="367.7" cy="53.8" r="1.15" fill="#f2981c"/><circle cx="344.2" cy="43.7" r="1.15" fill="#b8479a"/><circle cx="322.9" cy="54.0" r="1.15" fill="#b8479a"/><circle cx="452.6" cy="99.1" r="1.15" fill="#14a079"/><circle cx="453.1" cy="78.5" r="1.15" fill="#14a079"/><circle cx="385.9" cy="109.9" r="1.15" fill="#f2981c"/><circle cx="392.4" cy="77.9" r="1.15" fill="#f2981c"/><circle cx="370.1" cy="71.9" r="1.15" fill="#f2981c"/><circle cx="458.4" cy="104.4" r="1.15" fill="#14a079"/><circle cx="339.9" cy="38.2" r="1.15" fill="#b8479a"/><circle cx="331.7" cy="39.5" r="1.15" fill="#b8479a"/><circle cx="405.0" cy="73.7" r="1.15" fill="#f2981c"/><circle cx="408.7" cy="63.4" r="1.15" fill="#f2981c"/><circle cx="417.8" cy="72.1" r="1.15" fill="#14a079"/><circle cx="388.6" cy="56.2" r="1.15" fill="#f2981c"/><circle cx="340.1" cy="67.0" r="1.15" fill="#b8479a"/><circle cx="406.0" cy="50.7" r="1.15" fill="#f2981c"/><circle cx="381.1" cy="67.8" r="1.15" fill="#f2981c"/><circle cx="394.9" cy="88.8" r="1.15" fill="#f2981c"/><circle cx="342.1" cy="63.4" r="1.15" fill="#b8479a"/><circle cx="423.8" cy="93.8" r="1.15" fill="#14a079"/><circle cx="371.0" cy="57.7" r="1.15" fill="#f2981c"/><circle cx="400.1" cy="102.5" r="1.15" fill="#f2981c"/><circle cx="354.6" cy="53.5" r="1.15" fill="#f2981c"/><circle cx="324.7" cy="57.6" r="1.15" fill="#b8479a"/><circle cx="389.4" cy="108.9" r="1.15" fill="#f2981c"/><circle cx="421.9" cy="96.2" r="1.15" fill="#14a079"/><circle cx="460.0" cy="113.0" r="1.15" fill="#14a079"/><circle cx="415.3" cy="101.1" r="1.15" fill="#f2981c"/><circle cx="432.9" cy="76.8" r="1.15" fill="#14a079"/><circle cx="391.4" cy="114.4" r="1.15" fill="#f2981c"/><circle cx="411.9" cy="104.4" r="1.15" fill="#f2981c"/><circle cx="377.1" cy="102.8" r="1.15" fill="#f2981c"/><circle cx="434.1" cy="96.3" r="1.15" fill="#14a079"/><circle cx="345.9" cy="41.9" r="1.15" fill="#b8479a"/><circle cx="400.9" cy="121.8" r="1.15" fill="#f2981c"/><circle cx="376.7" cy="75.9" r="1.15" fill="#f2981c"/><circle cx="327.9" cy="55.8" r="1.15" fill="#b8479a"/><circle cx="335.3" cy="62.9" r="1.15" fill="#b8479a"/><circle cx="465.2" cy="84.4" r="1.15" fill="#14a079"/><circle cx="408.6" cy="55.8" r="1.15" fill="#f2981c"/><circle cx="389.5" cy="59.8" r="1.15" fill="#f2981c"/><circle cx="409.6" cy="60.9" r="1.15" fill="#f2981c"/><circle cx="365.0" cy="68.5" r="1.15" fill="#f2981c"/><circle cx="398.0" cy="65.7" r="1.15" fill="#f2981c"/><circle cx="416.8" cy="98.1" r="1.15" fill="#f2981c"/><circle cx="417.6" cy="83.2" r="1.15" fill="#14a079"/><circle cx="426.9" cy="100.2" r="1.15" fill="#14a079"/><circle cx="374.4" cy="88.6" r="1.15" fill="#f2981c"/><circle cx="444.8" cy="73.3" r="1.15" fill="#14a079"/><circle cx="374.0" cy="89.6" r="1.15" fill="#f2981c"/><circle cx="389.7" cy="115.7" r="1.15" fill="#f2981c"/><circle cx="437.6" cy="78.5" r="1.15" fill="#14a079"/><circle cx="468.0" cy="108.0" r="1.15" fill="#14a079"/><circle cx="369.4" cy="78.7" r="1.15" fill="#f2981c"/><circle cx="369.7" cy="71.2" r="1.15" fill="#f2981c"/><circle cx="393.8" cy="76.6" r="1.15" fill="#f2981c"/><circle cx="399.5" cy="88.6" r="1.15" fill="#f2981c"/><circle cx="324.3" cy="49.5" r="1.15" fill="#b8479a"/><circle cx="443.5" cy="33.2" r="1.15" fill="#1e5e9c"/><circle cx="470.7" cy="84.9" r="1.15" fill="#14a079"/><circle cx="388.3" cy="111.0" r="1.15" fill="#f2981c"/><circle cx="427.5" cy="99.9" r="1.15" fill="#14a079"/><circle cx="391.6" cy="119.1" r="1.15" fill="#f2981c"/><circle cx="382.9" cy="96.6" r="1.15" fill="#f2981c"/><circle cx="401.8" cy="69.9" r="1.15" fill="#f2981c"/><circle cx="414.1" cy="47.2" r="1.15" fill="#f2981c"/><circle cx="452.1" cy="78.3" r="1.15" fill="#14a079"/><circle cx="437.0" cy="99.1" r="1.15" fill="#14a079"/><circle cx="376.7" cy="77.2" r="1.15" fill="#f2981c"/><circle cx="387.7" cy="105.5" r="1.15" fill="#f2981c"/><circle cx="323.1" cy="51.1" r="1.15" fill="#b8479a"/><circle cx="381.8" cy="86.7" r="1.15" fill="#f2981c"/><circle cx="402.6" cy="99.0" r="1.15" fill="#f2981c"/><circle cx="409.3" cy="99.9" r="1.15" fill="#f2981c"/><circle cx="441.8" cy="67.2" r="1.15" fill="#14a079"/><circle cx="413.7" cy="95.5" r="1.15" fill="#f2981c"/><circle cx="374.7" cy="89.3" r="1.15" fill="#f2981c"/><circle cx="391.9" cy="112.0" r="1.15" fill="#f2981c"/><circle cx="383.6" cy="99.9" r="1.15" fill="#f2981c"/><circle cx="388.0" cy="115.3" r="1.15" fill="#f2981c"/><circle cx="378.8" cy="105.5" r="1.15" fill="#f2981c"/><circle cx="409.0" cy="76.5" r="1.15" fill="#f2981c"/><circle cx="327.4" cy="63.2" r="1.15" fill="#b8479a"/><circle cx="385.9" cy="112.2" r="1.15" fill="#f2981c"/><circle cx="379.9" cy="100.6" r="1.15" fill="#f2981c"/><circle cx="402.7" cy="100.1" r="1.15" fill="#f2981c"/><circle cx="392.5" cy="94.7" r="1.15" fill="#f2981c"/><circle cx="430.8" cy="101.3" r="1.15" fill="#14a079"/><circle cx="367.3" cy="59.2" r="1.15" fill="#f2981c"/><circle cx="348.4" cy="56.0" r="1.15" fill="#b8479a"/><circle cx="384.5" cy="107.3" r="1.15" fill="#f2981c"/><circle cx="327.4" cy="47.0" r="1.15" fill="#b8479a"/><circle cx="409.0" cy="101.4" r="1.15" fill="#f2981c"/><circle cx="372.2" cy="85.0" r="1.15" fill="#f2981c"/><circle cx="402.7" cy="85.4" r="1.15" fill="#f2981c"/><circle cx="396.8" cy="71.1" r="1.15" fill="#f2981c"/><circle cx="387.4" cy="100.9" r="1.15" fill="#f2981c"/><circle cx="438.2" cy="78.5" r="1.15" fill="#14a079"/><circle cx="375.4" cy="96.6" r="1.15" fill="#f2981c"/><circle cx="339.8" cy="52.3" r="1.15" fill="#b8479a"/><circle cx="424.6" cy="73.7" r="1.15" fill="#14a079"/><circle cx="441.9" cy="101.9" r="1.15" fill="#14a079"/><circle cx="408.5" cy="81.8" r="1.15" fill="#f2981c"/><circle cx="425.5" cy="81.0" r="1.15" fill="#14a079"/><circle cx="417.5" cy="77.4" r="1.15" fill="#14a079"/><circle cx="343.9" cy="66.4" r="1.15" fill="#b8479a"/><circle cx="413.1" cy="47.9" r="1.15" fill="#f2981c"/><circle cx="377.9" cy="91.8" r="1.15" fill="#f2981c"/><circle cx="443.1" cy="83.0" r="1.15" fill="#14a079"/><circle cx="380.8" cy="63.2" r="1.15" fill="#f2981c"/><circle cx="342.5" cy="46.2" r="1.15" fill="#b8479a"/><circle cx="449.0" cy="26.8" r="1.15" fill="#1e5e9c"/><circle cx="465.0" cy="107.1" r="1.15" fill="#14a079"/><circle cx="372.4" cy="60.7" r="1.15" fill="#f2981c"/><circle cx="327.7" cy="59.7" r="1.15" fill="#b8479a"/><circle cx="448.4" cy="71.5" r="1.15" fill="#14a079"/><circle cx="337.7" cy="49.2" r="1.15" fill="#b8479a"/><circle cx="411.1" cy="100.5" r="1.15" fill="#f2981c"/><circle cx="377.5" cy="71.9" r="1.15" fill="#f2981c"/><circle cx="409.4" cy="106.0" r="1.15" fill="#f2981c"/><circle cx="386.4" cy="118.8" r="1.15" fill="#f2981c"/><circle cx="404.2" cy="61.8" r="1.15" fill="#f2981c"/><circle cx="376.3" cy="108.0" r="1.15" fill="#f2981c"/><circle cx="348.6" cy="66.4" r="1.15" fill="#b8479a"/><circle cx="386.1" cy="123.5" r="1.15" fill="#f2981c"/><circle cx="418.5" cy="99.0" r="1.15" fill="#f2981c"/><circle cx="387.9" cy="115.3" r="1.15" fill="#f2981c"/><circle cx="398.9" cy="70.8" r="1.15" fill="#f2981c"/><circle cx="342.6" cy="56.8" r="1.15" fill="#b8479a"/><circle cx="403.0" cy="67.5" r="1.15" fill="#f2981c"/><circle cx="385.2" cy="65.4" r="1.15" fill="#f2981c"/><circle cx="356.1" cy="51.2" r="1.15" fill="#b8479a"/><circle cx="429.1" cy="88.8" r="1.15" fill="#14a079"/><circle cx="399.7" cy="123.7" r="1.15" fill="#f2981c"/><circle cx="341.9" cy="68.2" r="1.15" fill="#b8479a"/><circle cx="421.2" cy="64.3" r="1.15" fill="#14a079"/><circle cx="373.1" cy="65.8" r="1.15" fill="#f2981c"/><circle cx="423.6" cy="81.3" r="1.15" fill="#14a079"/><circle cx="452.9" cy="92.7" r="1.15" fill="#14a079"/><circle cx="440.4" cy="94.7" r="1.15" fill="#14a079"/><circle cx="448.2" cy="90.4" r="1.15" fill="#14a079"/><circle cx="450.0" cy="92.9" r="1.15" fill="#14a079"/><circle cx="404.0" cy="88.4" r="1.15" fill="#f2981c"/><circle cx="346.5" cy="64.4" r="1.15" fill="#b8479a"/><circle cx="449.9" cy="85.5" r="1.15" fill="#14a079"/><circle cx="390.8" cy="104.2" r="1.15" fill="#f2981c"/><circle cx="356.4" cy="52.4" r="1.15" fill="#b8479a"/><circle cx="395.7" cy="104.6" r="1.15" fill="#f2981c"/><circle cx="403.3" cy="107.4" r="1.15" fill="#f2981c"/><circle cx="334.8" cy="64.7" r="1.15" fill="#b8479a"/><circle cx="413.0" cy="52.7" r="1.15" fill="#f2981c"/><circle cx="373.9" cy="60.8" r="1.15" fill="#f2981c"/><circle cx="383.6" cy="50.5" r="1.15" fill="#f2981c"/><circle cx="338.7" cy="43.0" r="1.15" fill="#b8479a"/><circle cx="404.6" cy="96.0" r="1.15" fill="#f2981c"/><circle cx="395.5" cy="76.8" r="1.15" fill="#f2981c"/><circle cx="462.5" cy="75.6" r="1.15" fill="#14a079"/><circle cx="405.9" cy="117.4" r="1.15" fill="#f2981c"/><circle cx="463.2" cy="104.3" r="1.15" fill="#14a079"/><circle cx="412.5" cy="48.4" r="1.15" fill="#f2981c"/><circle cx="373.6" cy="79.8" r="1.15" fill="#f2981c"/><circle cx="425.3" cy="78.6" r="1.15" fill="#14a079"/><circle cx="401.8" cy="102.6" r="1.15" fill="#f2981c"/><circle cx="330.6" cy="60.0" r="1.15" fill="#b8479a"/><circle cx="384.1" cy="97.7" r="1.15" fill="#f2981c"/><circle cx="438.3" cy="99.8" r="1.15" fill="#14a079"/><circle cx="434.3" cy="84.6" r="1.15" fill="#14a079"/><circle cx="438.4" cy="95.7" r="1.15" fill="#14a079"/><circle cx="350.2" cy="57.4" r="1.15" fill="#b8479a"/><circle cx="394.4" cy="51.7" r="1.15" fill="#f2981c"/><circle cx="428.6" cy="66.5" r="1.15" fill="#14a079"/><circle cx="336.2" cy="63.7" r="1.15" fill="#b8479a"/><circle cx="414.8" cy="101.4" r="1.15" fill="#f2981c"/><circle cx="383.3" cy="50.0" r="1.15" fill="#f2981c"/><circle cx="401.4" cy="100.6" r="1.15" fill="#f2981c"/><circle cx="450.2" cy="77.2" r="1.15" fill="#14a079"/><circle cx="371.7" cy="53.3" r="1.15" fill="#f2981c"/><circle cx="384.0" cy="122.1" r="1.15" fill="#f2981c"/><circle cx="342.4" cy="50.8" r="1.15" fill="#b8479a"/><circle cx="408.4" cy="65.4" r="1.15" fill="#f2981c"/><circle cx="426.9" cy="88.8" r="1.15" fill="#14a079"/><circle cx="389.3" cy="67.7" r="1.15" fill="#f2981c"/><circle cx="410.9" cy="60.5" r="1.15" fill="#f2981c"/><circle cx="333.0" cy="43.3" r="1.15" fill="#b8479a"/><circle cx="321.7" cy="53.5" r="1.15" fill="#b8479a"/><circle cx="390.5" cy="121.4" r="1.15" fill="#f2981c"/><circle cx="337.5" cy="57.7" r="1.15" fill="#b8479a"/><circle cx="398.2" cy="52.1" r="1.15" fill="#f2981c"/><circle cx="389.6" cy="105.9" r="1.15" fill="#f2981c"/><circle cx="374.2" cy="93.5" r="1.15" fill="#f2981c"/><circle cx="463.1" cy="75.3" r="1.15" fill="#14a079"/><circle cx="451.4" cy="85.7" r="1.15" fill="#14a079"/><circle cx="406.6" cy="57.9" r="1.15" fill="#f2981c"/><circle cx="446.3" cy="87.2" r="1.15" fill="#14a079"/><circle cx="390.4" cy="54.3" r="1.15" fill="#f2981c"/><circle cx="347.1" cy="43.4" r="1.15" fill="#b8479a"/><circle cx="324.1" cy="60.9" r="1.15" fill="#b8479a"/><circle cx="378.2" cy="90.6" r="1.15" fill="#f2981c"/><circle cx="415.6" cy="91.2" r="1.15" fill="#14a079"/><circle cx="392.6" cy="103.3" r="1.15" fill="#f2981c"/><circle cx="381.9" cy="55.0" r="1.15" fill="#f2981c"/><circle cx="393.8" cy="105.3" r="1.15" fill="#f2981c"/><circle cx="325.3" cy="62.2" r="1.15" fill="#b8479a"/><circle cx="396.6" cy="81.6" r="1.15" fill="#f2981c"/><circle cx="432.9" cy="87.1" r="1.15" fill="#14a079"/><circle cx="400.1" cy="56.6" r="1.15" fill="#f2981c"/><circle cx="428.2" cy="68.0" r="1.15" fill="#14a079"/><circle cx="423.4" cy="70.6" r="1.15" fill="#14a079"/><circle cx="396.2" cy="49.6" r="1.15" fill="#f2981c"/><circle cx="437.6" cy="98.0" r="1.15" fill="#14a079"/><circle cx="379.9" cy="118.3" r="1.15" fill="#f2981c"/><circle cx="406.8" cy="50.6" r="1.15" fill="#f2981c"/><circle cx="339.5" cy="42.4" r="1.15" fill="#b8479a"/><circle cx="389.0" cy="87.5" r="1.15" fill="#f2981c"/><circle cx="387.4" cy="77.4" r="1.15" fill="#f2981c"/><circle cx="445.0" cy="28.0" r="1.15" fill="#1e5e9c"/><circle cx="441.4" cy="86.4" r="1.15" fill="#14a079"/><circle cx="451.6" cy="108.7" r="1.15" fill="#14a079"/><circle cx="452.4" cy="87.5" r="1.15" fill="#14a079"/><circle cx="409.9" cy="47.1" r="1.15" fill="#f2981c"/><circle cx="401.5" cy="91.0" r="1.15" fill="#f2981c"/><circle cx="429.1" cy="87.8" r="1.15" fill="#14a079"/><circle cx="454.3" cy="66.4" r="1.15" fill="#14a079"/><circle cx="339.6" cy="64.8" r="1.15" fill="#b8479a"/><circle cx="384.9" cy="126.1" r="1.15" fill="#f2981c"/><circle cx="446.0" cy="26.0" r="1.15" fill="#1e5e9c"/><circle cx="388.7" cy="58.3" r="1.15" fill="#f2981c"/><circle cx="390.9" cy="90.0" r="1.15" fill="#f2981c"/><circle cx="427.0" cy="77.7" r="1.15" fill="#14a079"/><circle cx="422.0" cy="83.8" r="1.15" fill="#14a079"/><circle cx="353.2" cy="64.1" r="1.15" fill="#f2981c"/><circle cx="391.2" cy="111.7" r="1.15" fill="#f2981c"/><circle cx="375.6" cy="101.6" r="1.15" fill="#f2981c"/><circle cx="378.5" cy="95.2" r="1.15" fill="#f2981c"/><circle cx="432.8" cy="67.0" r="1.15" fill="#14a079"/><circle cx="444.9" cy="82.3" r="1.15" fill="#14a079"/><circle cx="414.0" cy="99.0" r="1.15" fill="#f2981c"/><circle cx="411.7" cy="98.2" r="1.15" fill="#f2981c"/><circle cx="414.9" cy="90.3" r="1.15" fill="#f2981c"/><circle cx="401.9" cy="108.5" r="1.15" fill="#f2981c"/><circle cx="390.6" cy="69.6" r="1.15" fill="#f2981c"/><circle cx="383.6" cy="64.2" r="1.15" fill="#f2981c"/><circle cx="402.7" cy="82.0" r="1.15" fill="#f2981c"/><circle cx="432.4" cy="75.0" r="1.15" fill="#14a079"/><circle cx="371.1" cy="79.8" r="1.15" fill="#f2981c"/><circle cx="398.5" cy="123.7" r="1.15" fill="#f2981c"/><circle cx="387.5" cy="101.9" r="1.15" fill="#f2981c"/><circle cx="386.1" cy="66.6" r="1.15" fill="#f2981c"/><circle cx="401.4" cy="70.7" r="1.15" fill="#f2981c"/><circle cx="443.1" cy="75.6" r="1.15" fill="#14a079"/><circle cx="393.4" cy="103.2" r="1.15" fill="#f2981c"/><circle cx="388.3" cy="101.8" r="1.15" fill="#f2981c"/><circle cx="370.3" cy="69.2" r="1.15" fill="#f2981c"/><circle cx="432.7" cy="87.8" r="1.15" fill="#14a079"/><circle cx="405.0" cy="73.0" r="1.15" fill="#f2981c"/><circle cx="358.2" cy="63.6" r="1.15" fill="#f2981c"/><circle cx="428.5" cy="71.9" r="1.15" fill="#14a079"/><circle cx="379.9" cy="91.2" r="1.15" fill="#f2981c"/><circle cx="323.3" cy="56.5" r="1.15" fill="#b8479a"/><circle cx="406.7" cy="87.0" r="1.15" fill="#f2981c"/><circle cx="404.5" cy="70.4" r="1.15" fill="#f2981c"/><circle cx="435.1" cy="99.1" r="1.15" fill="#14a079"/><circle cx="399.1" cy="118.7" r="1.15" fill="#f2981c"/><circle cx="409.7" cy="103.5" r="1.15" fill="#f2981c"/><circle cx="352.8" cy="46.6" r="1.15" fill="#b8479a"/><circle cx="437.4" cy="76.3" r="1.15" fill="#14a079"/><circle cx="403.5" cy="92.3" r="1.15" fill="#f2981c"/><circle cx="466.5" cy="88.5" r="1.15" fill="#14a079"/><circle cx="398.7" cy="114.0" r="1.15" fill="#f2981c"/><circle cx="418.1" cy="81.4" r="1.15" fill="#14a079"/><circle cx="417.6" cy="70.0" r="1.15" fill="#14a079"/><circle cx="368.6" cy="71.7" r="1.15" fill="#f2981c"/><circle cx="338.3" cy="63.4" r="1.15" fill="#b8479a"/><circle cx="403.7" cy="122.4" r="1.15" fill="#f2981c"/><circle cx="383.8" cy="125.1" r="1.15" fill="#f2981c"/><circle cx="451.9" cy="75.8" r="1.15" fill="#14a079"/><circle cx="411.8" cy="101.3" r="1.15" fill="#f2981c"/><circle cx="429.4" cy="99.2" r="1.15" fill="#14a079"/><circle cx="430.0" cy="63.6" r="1.15" fill="#14a079"/><circle cx="457.3" cy="83.0" r="1.15" fill="#14a079"/><circle cx="417.8" cy="94.1" r="1.15" fill="#14a079"/><circle cx="394.9" cy="74.8" r="1.15" fill="#f2981c"/><circle cx="384.3" cy="56.5" r="1.15" fill="#f2981c"/><circle cx="412.6" cy="57.4" r="1.15" fill="#f2981c"/><circle cx="388.8" cy="58.8" r="1.15" fill="#f2981c"/><circle cx="416.4" cy="78.0" r="1.15" fill="#14a079"/><circle cx="424.7" cy="95.0" r="1.15" fill="#14a079"/><circle cx="394.4" cy="121.1" r="1.15" fill="#f2981c"/><circle cx="431.3" cy="65.8" r="1.15" fill="#14a079"/><circle cx="384.0" cy="110.5" r="1.15" fill="#f2981c"/><circle cx="436.7" cy="88.7" r="1.15" fill="#14a079"/><circle cx="421.4" cy="96.5" r="1.15" fill="#14a079"/><circle cx="390.4" cy="73.2" r="1.15" fill="#f2981c"/><circle cx="400.7" cy="62.2" r="1.15" fill="#f2981c"/><circle cx="350.4" cy="52.3" r="1.15" fill="#b8479a"/><circle cx="347.7" cy="59.9" r="1.15" fill="#b8479a"/><circle cx="444.2" cy="62.2" r="1.15" fill="#14a079"/><circle cx="404.9" cy="68.8" r="1.15" fill="#f2981c"/><circle cx="355.1" cy="58.5" r="1.15" fill="#b8479a"/><circle cx="466.7" cy="74.7" r="1.15" fill="#14a079"/><circle cx="420.3" cy="88.4" r="1.15" fill="#14a079"/><circle cx="397.3" cy="104.6" r="1.15" fill="#f2981c"/><circle cx="410.4" cy="61.0" r="1.15" fill="#f2981c"/><circle cx="393.5" cy="108.5" r="1.15" fill="#f2981c"/><circle cx="414.5" cy="78.2" r="1.15" fill="#14a079"/><circle cx="367.7" cy="61.0" r="1.15" fill="#f2981c"/><circle cx="377.1" cy="111.6" r="1.15" fill="#f2981c"/><circle cx="390.7" cy="127.3" r="1.15" fill="#f2981c"/><circle cx="355.3" cy="55.1" r="1.15" fill="#b8479a"/><circle cx="398.6" cy="107.0" r="1.15" fill="#f2981c"/><circle cx="382.9" cy="127.5" r="1.15" fill="#f2981c"/><circle cx="345.9" cy="58.1" r="1.15" fill="#b8479a"/><circle cx="430.1" cy="91.1" r="1.15" fill="#14a079"/><circle cx="350.5" cy="59.5" r="1.15" fill="#b8479a"/><circle cx="372.4" cy="72.1" r="1.15" fill="#f2981c"/><circle cx="354.8" cy="63.3" r="1.15" fill="#b8479a"/><circle cx="407.9" cy="117.6" r="1.15" fill="#f2981c"/><circle cx="440.6" cy="92.2" r="1.15" fill="#14a079"/><circle cx="375.4" cy="71.4" r="1.15" fill="#f2981c"/><circle cx="413.1" cy="57.8" r="1.15" fill="#f2981c"/><circle cx="443.8" cy="101.4" r="1.15" fill="#14a079"/><circle cx="411.2" cy="103.9" r="1.15" fill="#f2981c"/><circle cx="410.6" cy="55.9" r="1.15" fill="#f2981c"/><circle cx="419.0" cy="48.0" r="1.15" fill="#f2981c"/><circle cx="373.6" cy="52.7" r="1.15" fill="#f2981c"/><circle cx="451.1" cy="87.0" r="1.15" fill="#14a079"/><circle cx="433.2" cy="67.2" r="1.15" fill="#14a079"/><circle cx="423.7" cy="98.0" r="1.15" fill="#14a079"/><circle cx="401.2" cy="127.2" r="1.15" fill="#f2981c"/><circle cx="335.3" cy="44.5" r="1.15" fill="#b8479a"/><circle cx="443.0" cy="31.0" r="1.15" fill="#1e5e9c"/><circle cx="453.8" cy="86.3" r="1.15" fill="#14a079"/><circle cx="421.0" cy="73.7" r="1.15" fill="#14a079"/><circle cx="429.2" cy="62.8" r="1.15" fill="#14a079"/><circle cx="408.0" cy="78.7" r="1.15" fill="#f2981c"/><circle cx="399.6" cy="95.9" r="1.15" fill="#f2981c"/><circle cx="396.4" cy="86.9" r="1.15" fill="#f2981c"/><circle cx="327.9" cy="50.8" r="1.15" fill="#b8479a"/><circle cx="399.5" cy="80.5" r="1.15" fill="#f2981c"/><circle cx="409.8" cy="94.8" r="1.15" fill="#f2981c"/><circle cx="412.8" cy="45.6" r="1.15" fill="#f2981c"/><circle cx="356.0" cy="69.8" r="1.15" fill="#f2981c"/><circle cx="371.7" cy="64.0" r="1.15" fill="#f2981c"/><circle cx="374.1" cy="84.4" r="1.15" fill="#f2981c"/><circle cx="451.5" cy="90.3" r="1.15" fill="#14a079"/><circle cx="395.4" cy="83.4" r="1.15" fill="#f2981c"/><circle cx="328.3" cy="53.6" r="1.15" fill="#b8479a"/><circle cx="344.2" cy="64.0" r="1.15" fill="#b8479a"/><circle cx="464.3" cy="97.9" r="1.15" fill="#14a079"/><circle cx="396.2" cy="113.8" r="1.15" fill="#f2981c"/><circle cx="385.6" cy="111.4" r="1.15" fill="#f2981c"/><circle cx="360.7" cy="56.5" r="1.15" fill="#f2981c"/><circle cx="370.5" cy="74.7" r="1.15" fill="#f2981c"/><circle cx="427.9" cy="88.5" r="1.15" fill="#14a079"/><circle cx="404.8" cy="54.3" r="1.15" fill="#f2981c"/><circle cx="410.2" cy="104.0" r="1.15" fill="#f2981c"/><circle cx="391.7" cy="123.1" r="1.15" fill="#f2981c"/><circle cx="411.8" cy="97.3" r="1.15" fill="#f2981c"/><circle cx="376.2" cy="57.5" r="1.15" fill="#f2981c"/><circle cx="378.6" cy="106.7" r="1.15" fill="#f2981c"/><circle cx="423.1" cy="89.5" r="1.15" fill="#14a079"/><circle cx="442.8" cy="88.3" r="1.15" fill="#14a079"/><circle cx="418.6" cy="98.8" r="1.15" fill="#f2981c"/><circle cx="448.8" cy="74.4" r="1.15" fill="#14a079"/><circle cx="378.0" cy="65.4" r="1.15" fill="#f2981c"/><circle cx="424.2" cy="97.0" r="1.15" fill="#14a079"/><circle cx="384.2" cy="127.1" r="1.15" fill="#f2981c"/><circle cx="382.3" cy="67.5" r="1.15" fill="#f2981c"/><circle cx="340.9" cy="61.1" r="1.15" fill="#b8479a"/><circle cx="427.7" cy="62.7" r="1.15" fill="#14a079"/><circle cx="402.4" cy="54.4" r="1.15" fill="#f2981c"/><circle cx="439.0" cy="93.1" r="1.15" fill="#14a079"/><circle cx="389.6" cy="58.2" r="1.15" fill="#f2981c"/><circle cx="386.3" cy="95.3" r="1.15" fill="#f2981c"/><circle cx="391.1" cy="83.9" r="1.15" fill="#f2981c"/><circle cx="368.0" cy="82.5" r="1.15" fill="#f2981c"/><circle cx="435.6" cy="92.3" r="1.15" fill="#14a079"/><circle cx="375.5" cy="77.0" r="1.15" fill="#f2981c"/><circle cx="349.6" cy="50.0" r="1.15" fill="#b8479a"/><circle cx="409.7" cy="73.6" r="1.15" fill="#f2981c"/><circle cx="394.3" cy="59.6" r="1.15" fill="#f2981c"/><circle cx="384.4" cy="58.6" r="1.15" fill="#f2981c"/><circle cx="392.8" cy="87.3" r="1.15" fill="#f2981c"/><circle cx="387.7" cy="107.2" r="1.15" fill="#f2981c"/><circle cx="396.0" cy="69.4" r="1.15" fill="#f2981c"/><circle cx="440.5" cy="104.0" r="1.15" fill="#14a079"/><circle cx="402.2" cy="104.7" r="1.15" fill="#f2981c"/><circle cx="421.7" cy="87.5" r="1.15" fill="#14a079"/><circle cx="404.4" cy="63.8" r="1.15" fill="#f2981c"/><circle cx="415.3" cy="95.2" r="1.15" fill="#f2981c"/><circle cx="428.8" cy="66.5" r="1.15" fill="#14a079"/><circle cx="441.9" cy="74.4" r="1.15" fill="#14a079"/><circle cx="444.0" cy="29.5" r="1.15" fill="#1e5e9c"/><circle cx="367.0" cy="53.1" r="1.15" fill="#f2981c"/><circle cx="436.0" cy="91.7" r="1.15" fill="#14a079"/><circle cx="359.3" cy="66.0" r="1.15" fill="#f2981c"/><circle cx="396.7" cy="98.1" r="1.15" fill="#f2981c"/><circle cx="458.7" cy="101.4" r="1.15" fill="#14a079"/><circle cx="393.1" cy="108.1" r="1.15" fill="#f2981c"/><circle cx="376.0" cy="97.6" r="1.15" fill="#f2981c"/><circle cx="412.2" cy="87.7" r="1.15" fill="#f2981c"/><circle cx="413.8" cy="49.2" r="1.15" fill="#f2981c"/><circle cx="452.3" cy="78.5" r="1.15" fill="#14a079"/><circle cx="404.8" cy="47.1" r="1.15" fill="#f2981c"/><circle cx="395.1" cy="123.7" r="1.15" fill="#f2981c"/><circle cx="405.2" cy="99.6" r="1.15" fill="#f2981c"/><circle cx="339.4" cy="55.2" r="1.15" fill="#b8479a"/><circle cx="447.1" cy="104.9" r="1.15" fill="#14a079"/><circle cx="411.3" cy="100.8" r="1.15" fill="#f2981c"/><circle cx="408.0" cy="100.6" r="1.15" fill="#f2981c"/><circle cx="399.5" cy="101.0" r="1.15" fill="#f2981c"/><circle cx="378.9" cy="88.8" r="1.15" fill="#f2981c"/><circle cx="401.1" cy="106.2" r="1.15" fill="#f2981c"/><circle cx="427.7" cy="73.8" r="1.15" fill="#14a079"/><circle cx="381.4" cy="85.9" r="1.15" fill="#f2981c"/><circle cx="422.5" cy="99.2" r="1.15" fill="#14a079"/><circle cx="435.6" cy="97.5" r="1.15" fill="#14a079"/><circle cx="455.4" cy="112.1" r="1.15" fill="#14a079"/><circle cx="410.9" cy="45.5" r="1.15" fill="#f2981c"/><circle cx="386.7" cy="100.0" r="1.15" fill="#f2981c"/><circle cx="396.1" cy="81.1" r="1.15" fill="#f2981c"/><circle cx="395.9" cy="67.1" r="1.15" fill="#f2981c"/><circle cx="379.7" cy="80.1" r="1.15" fill="#f2981c"/><circle cx="405.0" cy="72.4" r="1.15" fill="#f2981c"/><circle cx="399.0" cy="109.3" r="1.15" fill="#f2981c"/><circle cx="403.1" cy="104.6" r="1.15" fill="#f2981c"/><circle cx="413.0" cy="53.5" r="1.15" fill="#f2981c"/><circle cx="397.4" cy="81.5" r="1.15" fill="#f2981c"/><circle cx="400.9" cy="68.6" r="1.15" fill="#f2981c"/><circle cx="347.7" cy="44.4" r="1.15" fill="#b8479a"/><circle cx="388.4" cy="58.8" r="1.15" fill="#f2981c"/><circle cx="388.8" cy="60.9" r="1.15" fill="#f2981c"/><circle cx="379.1" cy="109.2" r="1.15" fill="#f2981c"/><circle cx="324.9" cy="42.8" r="1.15" fill="#b8479a"/><circle cx="386.6" cy="86.1" r="1.15" fill="#f2981c"/><circle cx="332.2" cy="60.6" r="1.15" fill="#b8479a"/><circle cx="397.8" cy="74.1" r="1.15" fill="#f2981c"/><circle cx="409.3" cy="96.9" r="1.15" fill="#f2981c"/><circle cx="453.2" cy="75.2" r="1.15" fill="#14a079"/><circle cx="421.7" cy="80.2" r="1.15" fill="#14a079"/><circle cx="335.0" cy="47.6" r="1.15" fill="#b8479a"/><circle cx="390.7" cy="75.0" r="1.15" fill="#f2981c"/><circle cx="392.3" cy="83.3" r="1.15" fill="#f2981c"/><circle cx="401.8" cy="78.7" r="1.15" fill="#f2981c"/><circle cx="412.1" cy="99.6" r="1.15" fill="#f2981c"/><circle cx="404.0" cy="111.2" r="1.15" fill="#f2981c"/><circle cx="377.2" cy="97.7" r="1.15" fill="#f2981c"/><circle cx="338.0" cy="57.6" r="1.15" fill="#b8479a"/><circle cx="443.0" cy="98.5" r="1.15" fill="#14a079"/><circle cx="399.2" cy="112.8" r="1.15" fill="#f2981c"/><circle cx="408.2" cy="116.0" r="1.15" fill="#f2981c"/><circle cx="410.7" cy="106.0" r="1.15" fill="#f2981c"/><circle cx="321.5" cy="58.3" r="1.15" fill="#b8479a"/><circle cx="464.8" cy="102.7" r="1.15" fill="#14a079"/><circle cx="321.3" cy="47.2" r="1.15" fill="#b8479a"/><circle cx="445.6" cy="80.7" r="1.15" fill="#14a079"/><circle cx="422.2" cy="74.8" r="1.15" fill="#14a079"/><circle cx="408.2" cy="48.9" r="1.15" fill="#f2981c"/><circle cx="376.9" cy="55.4" r="1.15" fill="#f2981c"/><circle cx="400.3" cy="71.3" r="1.15" fill="#f2981c"/><circle cx="442.7" cy="106.8" r="1.15" fill="#14a079"/><circle cx="418.7" cy="73.7" r="1.15" fill="#14a079"/><circle cx="401.6" cy="52.0" r="1.15" fill="#f2981c"/><circle cx="445.0" cy="101.8" r="1.15" fill="#14a079"/><circle cx="387.3" cy="115.4" r="1.15" fill="#f2981c"/><circle cx="410.7" cy="92.2" r="1.15" fill="#f2981c"/><circle cx="418.5" cy="74.9" r="1.15" fill="#14a079"/><circle cx="328.6" cy="42.3" r="1.15" fill="#b8479a"/><circle cx="348.1" cy="46.9" r="1.15" fill="#b8479a"/><circle cx="383.7" cy="112.3" r="1.15" fill="#f2981c"/><circle cx="337.3" cy="49.2" r="1.15" fill="#b8479a"/><circle cx="439.4" cy="71.9" r="1.15" fill="#14a079"/><circle cx="397.9" cy="119.3" r="1.15" fill="#f2981c"/><circle cx="386.9" cy="97.3" r="1.15" fill="#f2981c"/><circle cx="412.5" cy="97.4" r="1.15" fill="#f2981c"/><circle cx="451.9" cy="111.2" r="1.15" fill="#14a079"/><circle cx="415.8" cy="76.8" r="1.15" fill="#14a079"/><circle cx="468.8" cy="101.8" r="1.15" fill="#14a079"/><circle cx="424.6" cy="68.2" r="1.15" fill="#14a079"/><circle cx="379.3" cy="64.3" r="1.15" fill="#f2981c"/><circle cx="396.1" cy="84.0" r="1.15" fill="#f2981c"/><circle cx="350.0" cy="45.1" r="1.15" fill="#b8479a"/><circle cx="400.2" cy="91.8" r="1.15" fill="#f2981c"/><circle cx="438.9" cy="98.1" r="1.15" fill="#14a079"/><circle cx="404.5" cy="92.5" r="1.15" fill="#f2981c"/><circle cx="410.5" cy="61.9" r="1.15" fill="#f2981c"/><circle cx="390.3" cy="59.9" r="1.15" fill="#f2981c"/><circle cx="429.3" cy="61.9" r="1.15" fill="#14a079"/><circle cx="464.4" cy="110.7" r="1.15" fill="#14a079"/><circle cx="378.2" cy="58.1" r="1.15" fill="#f2981c"/><circle cx="411.3" cy="73.4" r="1.15" fill="#f2981c"/><circle cx="408.8" cy="80.3" r="1.15" fill="#f2981c"/><circle cx="385.4" cy="126.2" r="1.15" fill="#f2981c"/><circle cx="379.0" cy="64.5" r="1.15" fill="#f2981c"/><circle cx="374.5" cy="75.9" r="1.15" fill="#f2981c"/><circle cx="445.0" cy="31.5" r="1.15" fill="#1e5e9c"/><circle cx="467.8" cy="94.6" r="1.15" fill="#14a079"/><circle cx="387.8" cy="51.1" r="1.15" fill="#f2981c"/><circle cx="391.7" cy="107.5" r="1.15" fill="#f2981c"/><circle cx="387.5" cy="76.1" r="1.15" fill="#f2981c"/><circle cx="405.5" cy="59.9" r="1.15" fill="#f2981c"/><circle cx="447.4" cy="83.5" r="1.15" fill="#14a079"/><circle cx="406.2" cy="118.8" r="1.15" fill="#f2981c"/><circle cx="447.5" cy="87.4" r="1.15" fill="#14a079"/><circle cx="457.8" cy="85.1" r="1.15" fill="#14a079"/><circle cx="331.3" cy="47.0" r="1.15" fill="#b8479a"/><circle cx="351.5" cy="52.5" r="1.15" fill="#b8479a"/><circle cx="380.2" cy="70.4" r="1.15" fill="#f2981c"/><circle cx="384.3" cy="125.3" r="1.15" fill="#f2981c"/><circle cx="399.2" cy="119.2" r="1.15" fill="#f2981c"/><circle cx="446.0" cy="92.7" r="1.15" fill="#14a079"/><circle cx="456.2" cy="108.4" r="1.15" fill="#14a079"/><circle cx="409.8" cy="61.4" r="1.15" fill="#f2981c"/><circle cx="407.4" cy="58.7" r="1.15" fill="#f2981c"/><circle cx="356.1" cy="55.8" r="1.15" fill="#b8479a"/><circle cx="390.8" cy="83.0" r="1.15" fill="#f2981c"/><circle cx="325.8" cy="51.5" r="1.15" fill="#b8479a"/><circle cx="433.5" cy="60.9" r="1.15" fill="#14a079"/><circle cx="404.0" cy="70.3" r="1.15" fill="#f2981c"/><circle cx="381.7" cy="54.4" r="1.15" fill="#f2981c"/><circle cx="444.3" cy="104.0" r="1.15" fill="#14a079"/><circle cx="394.9" cy="63.8" r="1.15" fill="#f2981c"/><circle cx="416.8" cy="68.9" r="1.15" fill="#14a079"/><circle cx="438.0" cy="63.8" r="1.15" fill="#14a079"/><circle cx="379.4" cy="100.4" r="1.15" fill="#f2981c"/><circle cx="400.6" cy="115.8" r="1.15" fill="#f2981c"/><circle cx="426.6" cy="70.3" r="1.15" fill="#14a079"/><circle cx="385.4" cy="105.7" r="1.15" fill="#f2981c"/><circle cx="377.1" cy="90.4" r="1.15" fill="#f2981c"/><circle cx="430.2" cy="98.7" r="1.15" fill="#14a079"/><circle cx="440.0" cy="105.7" r="1.15" fill="#14a079"/><circle cx="337.7" cy="42.3" r="1.15" fill="#b8479a"/><circle cx="372.2" cy="69.1" r="1.15" fill="#f2981c"/><circle cx="336.2" cy="38.1" r="1.15" fill="#b8479a"/><circle cx="446.1" cy="82.9" r="1.15" fill="#14a079"/><circle cx="390.0" cy="53.1" r="1.15" fill="#f2981c"/><circle cx="423.9" cy="77.4" r="1.15" fill="#14a079"/><circle cx="415.3" cy="96.7" r="1.15" fill="#f2981c"/><circle cx="394.5" cy="68.0" r="1.15" fill="#f2981c"/><circle cx="440.3" cy="85.4" r="1.15" fill="#14a079"/><circle cx="420.2" cy="70.4" r="1.15" fill="#14a079"/><circle cx="452.8" cy="61.0" r="1.15" fill="#14a079"/><circle cx="382.4" cy="113.7" r="1.15" fill="#f2981c"/><circle cx="395.9" cy="65.5" r="1.15" fill="#f2981c"/><circle cx="327.7" cy="45.7" r="1.15" fill="#b8479a"/><circle cx="359.0" cy="56.2" r="1.15" fill="#f2981c"/><circle cx="472.1" cy="84.0" r="1.15" fill="#14a079"/><circle cx="408.4" cy="102.3" r="1.15" fill="#f2981c"/><circle cx="359.6" cy="67.3" r="1.15" fill="#f2981c"/><circle cx="389.1" cy="68.1" r="1.15" fill="#f2981c"/><circle cx="377.5" cy="60.0" r="1.15" fill="#f2981c"/><circle cx="370.0" cy="74.9" r="1.15" fill="#f2981c"/><circle cx="332.9" cy="61.8" r="1.15" fill="#b8479a"/><circle cx="420.4" cy="65.8" r="1.15" fill="#14a079"/><circle cx="413.0" cy="109.5" r="1.15" fill="#f2981c"/><circle cx="403.5" cy="116.8" r="1.15" fill="#f2981c"/><circle cx="430.2" cy="77.7" r="1.15" fill="#14a079"/><circle cx="360.0" cy="71.8" r="1.15" fill="#f2981c"/><circle cx="386.3" cy="96.8" r="1.15" fill="#f2981c"/><circle cx="382.7" cy="106.6" r="1.15" fill="#f2981c"/><circle cx="451.2" cy="67.8" r="1.15" fill="#14a079"/><circle cx="332.3" cy="38.1" r="1.15" fill="#b8479a"/><circle cx="404.0" cy="80.3" r="1.15" fill="#f2981c"/><circle cx="452.2" cy="74.7" r="1.15" fill="#14a079"/><circle cx="428.4" cy="67.7" r="1.15" fill="#14a079"/><circle cx="391.8" cy="60.4" r="1.15" fill="#f2981c"/></g><g fill="#6e6464" fill-opacity="0.28" stroke="#3a3434" stroke-width="0.5" stroke-opacity="0.62"><path d="M406.3 99.0L407.8 101.7L404.9 101.7Z"/><path d="M381.8 64.5L383.3 67.2L380.4 67.2Z"/><path d="M367.1 59.1L368.5 61.8L365.6 61.8Z"/><path d="M334.1 41.4L335.6 44.1L332.7 44.1Z"/><path d="M409.9 91.4L411.3 94.0L408.4 94.0Z"/><path d="M371.0 76.0L372.4 78.7L369.5 78.7Z"/><path d="M406.4 86.6L407.8 89.3L404.9 89.3Z"/><path d="M387.1 79.3L388.5 82.0L385.6 82.0Z"/><path d="M412.6 98.8L414.0 101.5L411.1 101.5Z"/><path d="M412.9 94.3L414.4 97.0L411.5 97.0Z"/><path d="M394.8 93.6L396.2 96.2L393.3 96.2Z"/><path d="M378.0 86.4L379.5 89.0L376.6 89.0Z"/><path d="M374.0 52.1L375.4 54.8L372.5 54.8Z"/><path d="M390.6 72.1L392.1 74.7L389.2 74.7Z"/><path d="M391.7 96.7L393.1 99.3L390.2 99.3Z"/><path d="M394.7 102.4L396.1 105.1L393.2 105.1Z"/><path d="M374.2 65.1L375.7 67.8L372.8 67.8Z"/><path d="M383.6 99.0L385.0 101.6L382.1 101.6Z"/><path d="M388.5 91.3L390.0 94.0L387.1 94.0Z"/><path d="M411.2 94.2L412.6 96.9L409.7 96.9Z"/><path d="M377.0 102.0L378.5 104.7L375.6 104.7Z"/><path d="M333.0 48.6L334.4 51.3L331.5 51.3Z"/><path d="M330.0 43.7L331.4 46.4L328.5 46.4Z"/><path d="M352.4 60.3L353.9 63.0L351.0 63.0Z"/><path d="M381.6 59.7L383.0 62.3L380.1 62.3Z"/><path d="M433.5 35.1L434.9 37.8L432.1 37.8Z"/><path d="M344.3 59.8L345.8 62.5L342.9 62.5Z"/><path d="M385.6 63.5L387.1 66.2L384.2 66.2Z"/><path d="M393.3 101.7L394.7 104.4L391.8 104.4Z"/><path d="M460.2 87.4L461.6 90.1L458.7 90.1Z"/><path d="M374.5 64.0L376.0 66.7L373.1 66.7Z"/><path d="M429.8 91.9L431.2 94.6L428.3 94.6Z"/><path d="M359.3 74.1L360.8 76.8L357.9 76.8Z"/><path d="M393.9 68.7L395.3 71.4L392.4 71.4Z"/><path d="M326.7 51.1L328.1 53.8L325.2 53.8Z"/><path d="M402.8 52.0L404.3 54.7L401.4 54.7Z"/><path d="M327.2 40.0L328.7 42.7L325.8 42.7Z"/><path d="M349.3 60.2L350.7 62.8L347.8 62.8Z"/><path d="M393.6 73.1L395.1 75.8L392.2 75.8Z"/><path d="M410.4 43.6L411.8 46.2L408.9 46.2Z"/><path d="M322.4 46.7L323.9 49.3L321.0 49.3Z"/><path d="M354.8 63.1L356.3 65.8L353.4 65.8Z"/><path d="M401.9 93.6L403.3 96.3L400.4 96.3Z"/><path d="M355.2 52.9L356.6 55.6L353.7 55.6Z"/><path d="M388.6 53.8L390.0 56.5L387.1 56.5Z"/><path d="M391.7 50.4L393.2 53.0L390.3 53.0Z"/><path d="M345.3 62.8L346.8 65.5L343.9 65.5Z"/><path d="M391.0 51.2L392.5 53.9L389.6 53.9Z"/><path d="M334.0 55.2L335.5 57.9L332.6 57.9Z"/><path d="M380.1 78.5L381.6 81.1L378.7 81.1Z"/><path d="M393.3 50.2L394.8 52.9L391.9 52.9Z"/><path d="M366.8 70.2L368.2 72.8L365.3 72.8Z"/><path d="M365.2 65.8L366.7 68.5L363.8 68.5Z"/><path d="M378.3 82.2L379.7 84.9L376.8 84.9Z"/><path d="M399.8 119.9L401.2 122.6L398.3 122.6Z"/><path d="M401.8 59.5L403.3 62.2L400.4 62.2Z"/><path d="M401.3 50.2L402.8 52.9L399.9 52.9Z"/><path d="M432.9 93.6L434.4 96.3L431.5 96.3Z"/><path d="M362.1 74.8L363.6 77.4L360.7 77.4Z"/><path d="M406.1 84.3L407.6 87.0L404.7 87.0Z"/><path d="M413.0 56.7L414.5 59.4L411.6 59.4Z"/><path d="M413.2 94.0L414.6 96.7L411.7 96.7Z"/><path d="M380.8 81.7L382.3 84.3L379.4 84.3Z"/><path d="M389.6 113.8L391.1 116.5L388.2 116.5Z"/><path d="M405.5 102.4L406.9 105.1L404.0 105.1Z"/><path d="M409.0 94.9L410.5 97.6L407.6 97.6Z"/><path d="M339.0 58.0L340.5 60.7L337.6 60.7Z"/><path d="M442.0 64.6L443.4 67.3L440.5 67.3Z"/><path d="M454.2 69.6L455.6 72.3L452.7 72.3Z"/><path d="M399.6 80.1L401.1 82.8L398.2 82.8Z"/><path d="M390.2 119.3L391.7 122.0L388.8 122.0Z"/><path d="M385.8 104.5L387.3 107.2L384.4 107.2Z"/><path d="M375.6 85.4L377.1 88.0L374.2 88.0Z"/><path d="M410.9 98.3L412.3 101.0L409.4 101.0Z"/><path d="M355.6 52.4L357.1 55.1L354.2 55.1Z"/><path d="M431.8 60.2L433.2 62.9L430.3 62.9Z"/><path d="M404.8 94.8L406.3 97.5L403.4 97.5Z"/><path d="M347.5 50.1L349.0 52.8L346.1 52.8Z"/><path d="M387.6 122.3L389.0 125.0L386.1 125.0Z"/><path d="M398.9 121.7L400.4 124.4L397.5 124.4Z"/><path d="M448.7 70.7L450.2 73.4L447.3 73.4Z"/><path d="M332.5 36.9L333.9 39.6L331.0 39.6Z"/><path d="M374.2 51.2L375.7 53.9L372.8 53.9Z"/><path d="M409.8 64.9L411.3 67.6L408.4 67.6Z"/><path d="M346.2 53.9L347.7 56.6L344.8 56.6Z"/><path d="M338.3 36.6L339.7 39.3L336.8 39.3Z"/><path d="M411.0 111.4L412.4 114.0L409.5 114.0Z"/><path d="M436.1 95.7L437.5 98.4L434.6 98.4Z"/><path d="M343.6 48.9L345.1 51.6L342.2 51.6Z"/><path d="M398.6 128.2L400.1 130.9L397.2 130.9Z"/><path d="M341.6 66.5L343.1 69.2L340.2 69.2Z"/><path d="M342.6 58.0L344.1 60.7L341.2 60.7Z"/><path d="M396.1 123.3L397.5 125.9L394.6 125.9Z"/><path d="M333.1 52.4L334.5 55.1L331.6 55.1Z"/><path d="M377.1 67.8L378.6 70.5L375.7 70.5Z"/><path d="M334.6 49.0L336.1 51.7L333.2 51.7Z"/><path d="M362.8 52.9L364.2 55.5L361.3 55.5Z"/><path d="M377.7 96.2L379.2 98.9L376.3 98.9Z"/><path d="M331.2 37.3L332.6 40.0L329.7 40.0Z"/><path d="M385.9 58.7L387.4 61.4L384.5 61.4Z"/><path d="M406.7 76.4L408.2 79.1L405.3 79.1Z"/><path d="M330.9 43.9L332.4 46.6L329.5 46.6Z"/><path d="M381.4 105.0L382.9 107.7L380.0 107.7Z"/><path d="M388.4 96.9L389.9 99.6L387.0 99.6Z"/><path d="M401.3 118.6L402.7 121.3L399.8 121.3Z"/><path d="M382.1 71.0L383.6 73.6L380.7 73.6Z"/><path d="M323.4 42.7L324.8 45.4L321.9 45.4Z"/><path d="M402.6 89.0L404.0 91.7L401.1 91.7Z"/><path d="M406.8 75.4L408.3 78.1L405.4 78.1Z"/><path d="M348.0 62.4L349.4 65.0L346.5 65.0Z"/><path d="M384.4 104.7L385.9 107.3L383.0 107.3Z"/><path d="M402.8 114.2L404.2 116.9L401.3 116.9Z"/><path d="M402.1 65.4L403.5 68.0L400.6 68.0Z"/><path d="M359.0 58.7L360.4 61.3L357.5 61.3Z"/><path d="M355.0 48.3L356.4 50.9L353.5 50.9Z"/><path d="M355.0 55.1L356.4 57.8L353.5 57.8Z"/><path d="M397.5 55.5L398.9 58.2L396.0 58.2Z"/><path d="M325.6 40.1L327.0 42.8L324.1 42.8Z"/><path d="M388.5 51.9L390.0 54.6L387.1 54.6Z"/><path d="M409.8 107.0L411.3 109.6L408.4 109.6Z"/><path d="M331.5 45.2L332.9 47.8L330.0 47.8Z"/><path d="M389.4 120.7L390.9 123.4L388.0 123.4Z"/><path d="M357.0 65.1L358.5 67.8L355.6 67.8Z"/><path d="M370.1 75.3L371.5 77.9L368.6 77.9Z"/><path d="M351.2 65.9L352.6 68.5L349.7 68.5Z"/><path d="M394.3 101.0L395.8 103.7L392.9 103.7Z"/><path d="M390.3 121.7L391.8 124.4L388.9 124.4Z"/><path d="M378.7 48.9L380.2 51.5L377.3 51.5Z"/><path d="M403.6 83.4L405.1 86.0L402.2 86.0Z"/><path d="M392.5 87.0L394.0 89.7L391.1 89.7Z"/><path d="M406.3 61.4L407.8 64.1L404.9 64.1Z"/><path d="M378.4 113.6L379.8 116.3L376.9 116.3Z"/><path d="M402.9 64.1L404.3 66.8L401.4 66.8Z"/><path d="M378.7 58.0L380.2 60.6L377.3 60.6Z"/><path d="M351.5 57.7L352.9 60.3L350.0 60.3Z"/><path d="M356.8 57.1L358.2 59.8L355.3 59.8Z"/><path d="M325.4 39.9L326.9 42.6L324.0 42.6Z"/><path d="M378.5 96.8L380.0 99.5L377.1 99.5Z"/><path d="M378.3 65.5L379.8 68.2L376.9 68.2Z"/><path d="M409.5 50.6L410.9 53.3L408.0 53.3Z"/><path d="M348.5 49.9L349.9 52.6L347.0 52.6Z"/><path d="M337.3 45.0L338.8 47.7L335.9 47.7Z"/><path d="M402.3 57.8L403.7 60.5L400.8 60.5Z"/><path d="M390.0 94.7L391.5 97.4L388.6 97.4Z"/><path d="M400.5 62.8L401.9 65.5L399.0 65.5Z"/><path d="M376.4 50.9L377.8 53.6L374.9 53.6Z"/><path d="M403.9 56.6L405.4 59.3L402.5 59.3Z"/><path d="M379.7 110.6L381.2 113.3L378.3 113.3Z"/><path d="M405.4 115.8L406.9 118.5L404.0 118.5Z"/><path d="M396.0 124.3L397.4 127.0L394.5 127.0Z"/><path d="M384.9 62.9L386.3 65.6L383.4 65.6Z"/><path d="M375.4 86.2L376.9 88.9L374.0 88.9Z"/><path d="M410.7 89.5L412.1 92.2L409.2 92.2Z"/><path d="M396.8 65.1L398.3 67.8L395.4 67.8Z"/><path d="M380.2 76.4L381.7 79.1L378.8 79.1Z"/><path d="M419.7 94.6L421.1 97.3L418.2 97.3Z"/><path d="M392.1 60.2L393.5 62.9L390.6 62.9Z"/><path d="M412.4 93.7L413.9 96.4L411.0 96.4Z"/><path d="M325.4 50.8L326.8 53.5L323.9 53.5Z"/><path d="M361.5 49.1L363.0 51.8L360.1 51.8Z"/><path d="M353.6 58.9L355.0 61.6L352.1 61.6Z"/><path d="M378.2 65.2L379.7 67.9L376.8 67.9Z"/><path d="M441.9 97.3L443.3 100.0L440.4 100.0Z"/><path d="M394.5 61.0L395.9 63.7L393.0 63.7Z"/><path d="M385.2 86.4L386.7 89.1L383.8 89.1Z"/><path d="M387.3 91.4L388.8 94.1L385.9 94.1Z"/><path d="M379.5 111.9L381.0 114.6L378.1 114.6Z"/><path d="M360.0 73.8L361.5 76.4L358.6 76.4Z"/><path d="M320.7 52.7L322.2 55.3L319.3 55.3Z"/><path d="M402.7 103.0L404.2 105.7L401.3 105.7Z"/><path d="M429.8 70.9L431.3 73.6L428.4 73.6Z"/><path d="M395.8 108.4L397.2 111.1L394.3 111.1Z"/><path d="M412.3 91.4L413.7 94.1L410.8 94.1Z"/><path d="M364.5 63.9L365.9 66.6L363.0 66.6Z"/><path d="M322.8 57.9L324.3 60.6L321.4 60.6Z"/><path d="M384.7 124.0L386.1 126.7L383.2 126.7Z"/><path d="M369.8 76.5L371.3 79.2L368.4 79.2Z"/><path d="M416.7 94.8L418.1 97.5L415.2 97.5Z"/><path d="M388.3 111.5L389.8 114.2L386.9 114.2Z"/><path d="M410.1 61.5L411.6 64.2L408.7 64.2Z"/><path d="M364.6 54.2L366.1 56.9L363.2 56.9Z"/><path d="M330.5 52.8L331.9 55.5L329.0 55.5Z"/><path d="M381.7 49.4L383.2 52.1L380.3 52.1Z"/><path d="M332.3 55.2L333.8 57.9L330.9 57.9Z"/><path d="M381.4 78.6L382.9 81.3L380.0 81.3Z"/><path d="M347.7 58.3L349.1 61.0L346.2 61.0Z"/><path d="M410.1 88.3L411.6 90.9L408.7 90.9Z"/><path d="M340.1 64.2L341.6 66.9L338.7 66.9Z"/><path d="M375.0 79.1L376.4 81.8L373.5 81.8Z"/><path d="M414.2 97.3L415.6 100.0L412.7 100.0Z"/><path d="M397.7 93.3L399.2 96.0L396.3 96.0Z"/><path d="M369.7 77.8L371.1 80.5L368.2 80.5Z"/><path d="M338.0 53.5L339.5 56.2L336.6 56.2Z"/><path d="M417.6 81.7L419.1 84.3L416.2 84.3Z"/><path d="M342.0 52.2L343.4 54.9L340.5 54.9Z"/><path d="M334.5 36.5L335.9 39.2L333.0 39.2Z"/><path d="M380.7 106.1L382.2 108.7L379.3 108.7Z"/><path d="M334.4 53.2L335.9 55.9L333.0 55.9Z"/><path d="M397.1 114.4L398.5 117.1L395.6 117.1Z"/><path d="M410.8 45.1L412.2 47.8L409.3 47.8Z"/><path d="M383.4 60.6L384.9 63.3L382.0 63.3Z"/><path d="M368.4 74.4L369.8 77.1L366.9 77.1Z"/><path d="M388.4 76.0L389.9 78.7L387.0 78.7Z"/><path d="M399.8 49.5L401.3 52.2L398.4 52.2Z"/><path d="M389.7 82.4L391.2 85.1L388.3 85.1Z"/><path d="M410.8 64.2L412.3 66.8L409.4 66.8Z"/><path d="M398.3 96.9L399.8 99.6L396.9 99.6Z"/><path d="M367.6 62.6L369.0 65.2L366.1 65.2Z"/><path d="M407.3 60.6L408.7 63.3L405.8 63.3Z"/><path d="M329.5 48.8L330.9 51.4L328.0 51.4Z"/><path d="M383.2 73.4L384.7 76.1L381.8 76.1Z"/><path d="M396.5 125.2L397.9 127.8L395.0 127.8Z"/><path d="M405.3 54.6L406.7 57.3L403.8 57.3Z"/><path d="M343.7 41.7L345.2 44.4L342.3 44.4Z"/><path d="M341.9 40.3L343.3 43.0L340.4 43.0Z"/><path d="M337.2 60.2L338.7 62.8L335.8 62.8Z"/><path d="M393.2 51.6L394.7 54.3L391.8 54.3Z"/><path d="M414.4 92.2L415.8 94.8L412.9 94.8Z"/><path d="M387.2 100.5L388.6 103.2L385.7 103.2Z"/><path d="M395.7 66.3L397.1 69.0L394.2 69.0Z"/><path d="M366.3 60.9L367.8 63.6L364.9 63.6Z"/><path d="M407.0 95.2L408.5 97.9L405.6 97.9Z"/><path d="M353.8 65.6L355.3 68.3L352.4 68.3Z"/><path d="M434.3 78.4L435.7 81.1L432.8 81.1Z"/><path d="M381.3 99.3L382.8 102.0L379.9 102.0Z"/><path d="M337.3 58.9L338.7 61.6L335.8 61.6Z"/><path d="M369.0 57.7L370.4 60.4L367.5 60.4Z"/><path d="M402.5 84.7L404.0 87.3L401.1 87.3Z"/><path d="M370.1 70.5L371.6 73.2L368.7 73.2Z"/><path d="M405.0 72.2L406.4 74.9L403.5 74.9Z"/><path d="M408.7 62.0L410.2 64.7L407.3 64.7Z"/><path d="M340.1 65.6L341.6 68.3L338.7 68.3Z"/><path d="M342.1 61.9L343.5 64.6L340.6 64.6Z"/><path d="M354.6 52.0L356.1 54.7L353.2 54.7Z"/><path d="M389.4 107.4L390.9 110.1L388.0 110.1Z"/><path d="M415.3 99.7L416.8 102.3L413.9 102.3Z"/><path d="M432.9 75.3L434.4 78.0L431.5 78.0Z"/><path d="M391.4 112.9L392.8 115.6L389.9 115.6Z"/><path d="M345.9 40.5L347.3 43.2L344.4 43.2Z"/><path d="M408.6 54.4L410.1 57.0L407.2 57.0Z"/><path d="M374.4 87.2L375.9 89.9L373.0 89.9Z"/><path d="M374.0 88.2L375.4 90.9L372.5 90.9Z"/><path d="M389.7 114.3L391.2 116.9L388.3 116.9Z"/><path d="M369.4 77.3L370.9 79.9L368.0 79.9Z"/><path d="M369.7 69.7L371.2 72.4L368.3 72.4Z"/><path d="M399.5 87.1L401.0 89.8L398.1 89.8Z"/><path d="M324.3 48.0L325.7 50.7L322.8 50.7Z"/><path d="M382.9 95.2L384.3 97.9L381.4 97.9Z"/><path d="M401.8 68.4L403.2 71.1L400.3 71.1Z"/><path d="M414.1 45.7L415.6 48.4L412.7 48.4Z"/><path d="M374.7 87.8L376.2 90.5L373.3 90.5Z"/><path d="M391.9 110.5L393.3 113.2L390.4 113.2Z"/><path d="M388.0 113.8L389.5 116.5L386.6 116.5Z"/><path d="M385.9 110.7L387.4 113.4L384.5 113.4Z"/><path d="M379.9 99.2L381.3 101.8L378.4 101.8Z"/><path d="M392.5 93.3L393.9 96.0L391.0 96.0Z"/><path d="M430.8 99.9L432.3 102.6L429.4 102.6Z"/><path d="M367.3 57.8L368.7 60.5L365.8 60.5Z"/><path d="M348.4 54.6L349.8 57.3L346.9 57.3Z"/><path d="M327.4 45.5L328.9 48.2L326.0 48.2Z"/><path d="M396.8 69.7L398.2 72.4L395.3 72.4Z"/><path d="M387.4 99.5L388.9 102.1L386.0 102.1Z"/><path d="M375.4 95.2L376.9 97.8L374.0 97.8Z"/><path d="M377.9 90.4L379.4 93.1L376.5 93.1Z"/><path d="M380.8 61.8L382.3 64.4L379.4 64.4Z"/><path d="M342.5 44.8L344.0 47.4L341.1 47.4Z"/><path d="M327.7 58.2L329.2 60.9L326.3 60.9Z"/><path d="M348.6 65.0L350.0 67.6L347.1 67.6Z"/><path d="M398.9 69.4L400.4 72.1L397.5 72.1Z"/><path d="M403.0 66.0L404.5 68.7L401.6 68.7Z"/><path d="M385.2 63.9L386.6 66.6L383.7 66.6Z"/><path d="M356.1 49.8L357.6 52.5L354.7 52.5Z"/><path d="M346.5 62.9L347.9 65.6L345.0 65.6Z"/><path d="M356.4 50.9L357.9 53.6L355.0 53.6Z"/><path d="M404.6 94.5L406.1 97.2L403.2 97.2Z"/><path d="M330.6 58.6L332.0 61.3L329.1 61.3Z"/><path d="M394.4 50.2L395.8 52.9L392.9 52.9Z"/><path d="M336.2 62.3L337.7 65.0L334.8 65.0Z"/><path d="M383.3 48.5L384.8 51.2L381.9 51.2Z"/><path d="M401.4 99.2L402.8 101.9L399.9 101.9Z"/><path d="M342.4 49.3L343.8 52.0L340.9 52.0Z"/><path d="M389.3 66.2L390.8 68.9L387.9 68.9Z"/><path d="M321.7 52.1L323.2 54.7L320.3 54.7Z"/><path d="M398.2 50.7L399.7 53.4L396.8 53.4Z"/><path d="M347.1 42.0L348.6 44.6L345.7 44.6Z"/><path d="M378.2 89.2L379.7 91.9L376.8 91.9Z"/><path d="M392.6 101.8L394.0 104.5L391.1 104.5Z"/><path d="M381.9 53.6L383.3 56.2L380.4 56.2Z"/><path d="M339.5 41.0L341.0 43.7L338.1 43.7Z"/><path d="M353.2 62.7L354.7 65.3L351.8 65.3Z"/><path d="M391.2 110.3L392.6 112.9L389.7 112.9Z"/><path d="M401.9 107.1L403.4 109.8L400.5 109.8Z"/><path d="M383.6 62.7L385.0 65.4L382.1 65.4Z"/><path d="M371.1 78.4L372.5 81.1L369.6 81.1Z"/><path d="M386.1 65.2L387.6 67.8L384.7 67.8Z"/><path d="M388.3 100.4L389.8 103.0L386.9 103.0Z"/><path d="M370.3 67.7L371.7 70.4L368.8 70.4Z"/><path d="M358.2 62.1L359.6 64.8L356.7 64.8Z"/><path d="M323.3 55.0L324.7 57.7L321.8 57.7Z"/><path d="M404.5 69.0L406.0 71.7L403.1 71.7Z"/><path d="M338.3 61.9L339.7 64.6L336.8 64.6Z"/><path d="M383.8 123.6L385.3 126.3L382.4 126.3Z"/><path d="M394.9 73.3L396.3 76.0L393.4 76.0Z"/><path d="M412.6 56.0L414.0 58.7L411.1 58.7Z"/><path d="M388.8 57.4L390.2 60.1L387.3 60.1Z"/><path d="M400.7 60.8L402.2 63.5L399.3 63.5Z"/><path d="M350.4 50.9L351.8 53.6L348.9 53.6Z"/><path d="M347.7 58.5L349.1 61.1L346.2 61.1Z"/><path d="M377.1 110.1L378.6 112.8L375.7 112.8Z"/><path d="M390.7 125.9L392.1 128.6L389.2 128.6Z"/><path d="M355.3 53.7L356.7 56.3L353.8 56.3Z"/><path d="M345.9 56.6L347.4 59.3L344.5 59.3Z"/><path d="M350.5 58.1L351.9 60.7L349.0 60.7Z"/><path d="M372.4 70.6L373.9 73.3L371.0 73.3Z"/><path d="M443.8 100.0L445.2 102.6L442.3 102.6Z"/><path d="M411.2 102.5L412.7 105.1L409.8 105.1Z"/><path d="M335.3 43.0L336.7 45.7L333.8 45.7Z"/><path d="M409.8 93.4L411.3 96.1L408.4 96.1Z"/><path d="M412.8 44.1L414.2 46.8L411.3 46.8Z"/><path d="M360.7 55.0L362.1 57.7L359.2 57.7Z"/><path d="M370.5 73.3L372.0 75.9L369.1 75.9Z"/><path d="M410.2 102.5L411.7 105.2L408.8 105.2Z"/><path d="M391.7 121.7L393.2 124.4L390.3 124.4Z"/><path d="M378.6 105.2L380.1 107.9L377.2 107.9Z"/><path d="M384.2 125.6L385.7 128.3L382.8 128.3Z"/><path d="M382.3 66.1L383.7 68.8L380.8 68.8Z"/><path d="M340.9 59.6L342.4 62.3L339.5 62.3Z"/><path d="M389.6 56.8L391.1 59.4L388.2 59.4Z"/><path d="M386.3 93.9L387.8 96.6L384.9 96.6Z"/><path d="M368.0 81.1L369.5 83.7L366.6 83.7Z"/><path d="M375.5 75.6L377.0 78.2L374.1 78.2Z"/><path d="M440.5 102.6L442.0 105.3L439.1 105.3Z"/><path d="M441.9 72.9L443.3 75.6L440.4 75.6Z"/><path d="M367.0 51.6L368.5 54.3L365.6 54.3Z"/><path d="M359.3 64.6L360.7 67.3L357.8 67.3Z"/><path d="M376.0 96.1L377.5 98.8L374.6 98.8Z"/><path d="M413.8 47.8L415.2 50.5L412.3 50.5Z"/><path d="M404.8 45.7L406.2 48.3L403.3 48.3Z"/><path d="M405.2 98.1L406.7 100.8L403.8 100.8Z"/><path d="M408.0 99.1L409.5 101.8L406.6 101.8Z"/><path d="M399.5 99.6L400.9 102.3L398.0 102.3Z"/><path d="M378.9 87.4L380.3 90.1L377.4 90.1Z"/><path d="M401.1 104.8L402.6 107.4L399.7 107.4Z"/><path d="M410.9 44.0L412.4 46.7L409.5 46.7Z"/><path d="M386.7 98.5L388.2 101.2L385.3 101.2Z"/><path d="M396.1 79.6L397.5 82.3L394.6 82.3Z"/><path d="M399.0 107.8L400.4 110.5L397.5 110.5Z"/><path d="M347.7 43.0L349.2 45.7L346.3 45.7Z"/><path d="M388.8 59.5L390.2 62.2L387.3 62.2Z"/><path d="M335.0 46.1L336.5 48.8L333.6 48.8Z"/><path d="M390.7 73.5L392.1 76.2L389.2 76.2Z"/><path d="M404.0 109.8L405.5 112.4L402.6 112.4Z"/><path d="M399.2 111.4L400.6 114.1L397.7 114.1Z"/><path d="M410.7 104.5L412.1 107.2L409.2 107.2Z"/><path d="M321.5 56.9L323.0 59.6L320.1 59.6Z"/><path d="M408.2 47.4L409.6 50.1L406.7 50.1Z"/><path d="M400.3 69.9L401.7 72.6L398.8 72.6Z"/><path d="M418.7 72.3L420.1 75.0L417.2 75.0Z"/><path d="M387.3 114.0L388.7 116.7L385.8 116.7Z"/><path d="M410.7 90.7L412.1 93.4L409.2 93.4Z"/><path d="M348.1 45.4L349.5 48.1L346.6 48.1Z"/><path d="M383.7 110.8L385.1 113.5L382.2 113.5Z"/><path d="M412.5 95.9L414.0 98.6L411.1 98.6Z"/><path d="M350.0 43.6L351.5 46.3L348.6 46.3Z"/><path d="M410.5 60.4L412.0 63.1L409.1 63.1Z"/><path d="M390.3 58.4L391.7 61.1L388.8 61.1Z"/><path d="M385.4 124.7L386.8 127.4L383.9 127.4Z"/><path d="M379.0 63.0L380.5 65.7L377.6 65.7Z"/><path d="M405.5 58.4L406.9 61.1L404.0 61.1Z"/><path d="M331.3 45.6L332.8 48.3L329.9 48.3Z"/><path d="M399.2 117.8L400.7 120.4L397.8 120.4Z"/><path d="M409.8 59.9L411.2 62.6L408.3 62.6Z"/><path d="M356.1 54.4L357.5 57.0L354.6 57.0Z"/><path d="M379.4 98.9L380.8 101.6L377.9 101.6Z"/><path d="M426.6 68.9L428.0 71.6L425.1 71.6Z"/><path d="M377.1 89.0L378.6 91.7L375.7 91.7Z"/><path d="M337.7 40.9L339.1 43.6L336.2 43.6Z"/><path d="M372.2 67.7L373.6 70.4L370.7 70.4Z"/><path d="M415.3 95.2L416.8 97.9L413.9 97.9Z"/><path d="M394.5 66.5L396.0 69.2L393.1 69.2Z"/><path d="M382.4 112.3L383.9 115.0L381.0 115.0Z"/><path d="M359.0 54.8L360.5 57.5L357.6 57.5Z"/><path d="M359.6 65.9L361.1 68.6L358.2 68.6Z"/><path d="M332.9 60.3L334.4 63.0L331.5 63.0Z"/><path d="M403.5 115.3L404.9 118.0L402.0 118.0Z"/><path d="M360.0 70.3L361.4 73.0L358.5 73.0Z"/><path d="M391.8 58.9L393.3 61.6L390.4 61.6Z"/></g><line x1="313.50" y1="19.00" x2="313.50" y2="136.80" stroke="#222" stroke-width="1.1" /><line x1="313.00" y1="136.50" x2="482.30" y2="136.50" stroke="#222" stroke-width="1.1" /><text x="397.50" y="146.20" font-size="7.6" fill="#333" text-anchor="middle" font-weight="normal" >UMAP 1</text><g transform="translate(309.30,77.60) rotate(-90) scale(1.0,1)"><text x="0" y="0" font-size="7.6" fill="#333" text-anchor="middle" font-weight="normal">UMAP 2</text></g><text x="491.50" y="49.00" font-size="7.5" fill="#333" text-anchor="start" font-weight="normal" >cluster</text><circle cx="492.4" cy="58.2" r="0.8" fill="#f2981c"/><text x="496.20" y="61.00" font-size="7.8" fill="#333" text-anchor="start" font-weight="normal" >A</text><circle cx="492.4" cy="66.9" r="0.8" fill="#14a079"/><text x="496.20" y="69.70" font-size="7.8" fill="#333" text-anchor="start" font-weight="normal" >B</text><circle cx="492.4" cy="75.9" r="0.8" fill="#b8479a"/><text x="496.20" y="78.70" font-size="7.8" fill="#333" text-anchor="start" font-weight="normal" >C</text><circle cx="492.4" cy="84.6" r="0.8" fill="#1e5e9c"/><text x="496.20" y="87.40" font-size="7.8" fill="#333" text-anchor="start" font-weight="normal" >D</text><text x="491.50" y="99.60" font-size="7.8" fill="#333" text-anchor="start" font-weight="normal" >NliG</text><circle cx="492.4" cy="106.3" r="0.7" fill="#333"/><text x="496.20" y="108.80" font-size="7.8" fill="#333" text-anchor="start" font-weight="normal" >pos</text><text x="6.90" y="173.60" font-size="11.2" fill="#111" text-anchor="start" font-weight="bold" stroke="#111" stroke-width="0.3">C</text><rect x="50.50" y="212.82" width="35.60" height="39.16" fill="#c8102e" /><rect x="50.50" y="251.98" width="35.60" height="27.12" fill="#1f4e8c" /><rect x="90.30" y="249.44" width="35.60" height="4.99" fill="#c8102e" /><rect x="90.30" y="254.43" width="35.60" height="24.67" fill="#1f4e8c" /><rect x="130.20" y="258.83" width="35.60" height="20.27" fill="#c8102e" /><rect x="130.20" y="279.10" width="35.60" height="0.00" fill="#1f4e8c" /><rect x="170.10" y="276.46" width="35.60" height="1.47" fill="#c8102e" /><rect x="170.10" y="277.93" width="35.60" height="1.17" fill="#1f4e8c" /><line x1="44.50" y1="176.00" x2="44.50" y2="283.90" stroke="#222" stroke-width="1.1" /><line x1="44.00" y1="283.50" x2="212.30" y2="283.50" stroke="#222" stroke-width="1.1" /><line x1="41.20" y1="181.50" x2="44.40" y2="181.50" stroke="#222" stroke-width="1.0" /><text x="38.40" y="183.75" font-size="8.2" fill="#1e1e1e" text-anchor="end" font-weight="normal" >1000</text><line x1="41.20" y1="205.50" x2="44.40" y2="205.50" stroke="#222" stroke-width="1.0" /><text x="38.40" y="208.15" font-size="8.2" fill="#1e1e1e" text-anchor="end" font-weight="normal" >750</text><line x1="41.20" y1="230.50" x2="44.40" y2="230.50" stroke="#222" stroke-width="1.0" /><text x="38.40" y="232.65" font-size="8.2" fill="#1e1e1e" text-anchor="end" font-weight="normal" >500</text><line x1="41.20" y1="254.50" x2="44.40" y2="254.50" stroke="#222" stroke-width="1.0" /><text x="38.40" y="257.15" font-size="8.2" fill="#1e1e1e" text-anchor="end" font-weight="normal" >250</text><line x1="41.20" y1="279.50" x2="44.40" y2="279.50" stroke="#222" stroke-width="1.0" /><text x="38.40" y="281.65" font-size="8.2" fill="#1e1e1e" text-anchor="end" font-weight="normal" >0</text><line x1="68.50" y1="283.40" x2="68.50" y2="286.00" stroke="#222" stroke-width="1.0" /><text x="68.30" y="295.90" font-size="8.0" fill="#1e1e1e" text-anchor="middle" font-weight="normal" >A</text><line x1="108.50" y1="283.40" x2="108.50" y2="286.00" stroke="#222" stroke-width="1.0" /><text x="108.10" y="295.90" font-size="8.0" fill="#1e1e1e" text-anchor="middle" font-weight="normal" >B</text><line x1="148.50" y1="283.40" x2="148.50" y2="286.00" stroke="#222" stroke-width="1.0" /><text x="148.00" y="295.90" font-size="8.0" fill="#1e1e1e" text-anchor="middle" font-weight="normal" >C</text><line x1="187.50" y1="283.40" x2="187.50" y2="286.00" stroke="#222" stroke-width="1.0" /><text x="187.90" y="295.90" font-size="8.0" fill="#1e1e1e" text-anchor="middle" font-weight="normal" >D</text><g transform="translate(127.70,310.20) rotate(0) scale(0.57,1)"><text x="0" y="0" font-size="9.8" fill="#222" text-anchor="middle" font-weight="bold">Cluster</text></g><g transform="translate(14.60,229.50) rotate(-90) scale(0.57,1)"><text x="0" y="0" font-size="9.6" fill="#222" text-anchor="middle" font-weight="bold">Cells</text></g><line x1="68.30" y1="184.50" x2="108.50" y2="184.50" stroke="#2a2a2a" stroke-width="1.0" /><circle cx="83.75" cy="180.70" r="0.95" fill="#2a2a2a"/><circle cx="86.85" cy="180.70" r="0.95" fill="#2a2a2a"/><circle cx="89.95" cy="180.70" r="0.95" fill="#2a2a2a"/><circle cx="93.05" cy="180.70" r="0.95" fill="#2a2a2a"/><line x1="68.30" y1="193.50" x2="148.40" y2="193.50" stroke="#2a2a2a" stroke-width="1.0" /><circle cx="103.70" cy="190.20" r="0.95" fill="#2a2a2a"/><circle cx="106.80" cy="190.20" r="0.95" fill="#2a2a2a"/><circle cx="109.90" cy="190.20" r="0.95" fill="#2a2a2a"/><circle cx="113.00" cy="190.20" r="0.95" fill="#2a2a2a"/><line x1="68.30" y1="203.50" x2="188.30" y2="203.50" stroke="#2a2a2a" stroke-width="1.0" /><text x="128.10" y="200.60" font-size="7.0" fill="#333" text-anchor="middle" font-weight="normal" >ns</text><line x1="108.10" y1="222.50" x2="148.40" y2="222.50" stroke="#2a2a2a" stroke-width="1.0" /><circle cx="123.60" cy="218.40" r="0.95" fill="#2a2a2a"/><circle cx="126.70" cy="218.40" r="0.95" fill="#2a2a2a"/><circle cx="129.80" cy="218.40" r="0.95" fill="#2a2a2a"/><circle cx="132.90" cy="218.40" r="0.95" fill="#2a2a2a"/><line x1="108.10" y1="231.50" x2="188.30" y2="231.50" stroke="#2a2a2a" stroke-width="1.0" /><circle cx="145.10" cy="227.60" r="0.95" fill="#2a2a2a"/><circle cx="148.20" cy="227.60" r="0.95" fill="#2a2a2a"/><circle cx="151.30" cy="227.60" r="0.95" fill="#2a2a2a"/><line x1="148.00" y1="249.50" x2="188.30" y2="249.50" stroke="#2a2a2a" stroke-width="1.0" /><circle cx="163.50" cy="245.60" r="0.95" fill="#2a2a2a"/><circle cx="166.60" cy="245.60" r="0.95" fill="#2a2a2a"/><circle cx="169.70" cy="245.60" r="0.95" fill="#2a2a2a"/><circle cx="172.80" cy="245.60" r="0.95" fill="#2a2a2a"/><text x="94.00" y="321.60" font-size="8.0" fill="#333" text-anchor="start" font-weight="normal" >NliG</text><rect x="114.30" y="316.00" width="7.00" height="6.70" fill="#c8102e" /><text x="124.00" y="321.60" font-size="8.0" fill="#333" text-anchor="start" font-weight="normal" >pos</text><rect x="142.20" y="316.00" width="7.00" height="6.70" fill="#1f4e8c" /><text x="152.00" y="321.60" font-size="8.0" fill="#333" text-anchor="start" font-weight="normal" >neg</text><text x="7.00" y="348.60" font-size="11.2" fill="#111" text-anchor="start" font-weight="bold" stroke="#111" stroke-width="0.3">D</text><rect x="50.50" y="416.96" width="35.60" height="49.44" fill="#f18d17" /><rect x="90.30" y="429.60" width="35.60" height="36.80" fill="#128a5a" /><rect x="130.20" y="404.87" width="35.60" height="61.53" fill="#e0619f" /><rect x="170.10" y="444.17" width="35.60" height="22.23" fill="#155ba5" /><line x1="44.50" y1="351.00" x2="44.50" y2="472.40" stroke="#222" stroke-width="1.1" /><line x1="44.00" y1="471.50" x2="212.30" y2="471.50" stroke="#222" stroke-width="1.1" /><line x1="41.20" y1="356.50" x2="44.40" y2="356.50" stroke="#222" stroke-width="1.0" /><text x="38.40" y="359.35" font-size="8.2" fill="#1e1e1e" text-anchor="end" font-weight="normal" >8</text><line x1="41.20" y1="384.50" x2="44.40" y2="384.50" stroke="#222" stroke-width="1.0" /><text x="38.40" y="386.85" font-size="8.2" fill="#1e1e1e" text-anchor="end" font-weight="normal" >6</text><line x1="41.20" y1="411.50" x2="44.40" y2="411.50" stroke="#222" stroke-width="1.0" /><text x="38.40" y="414.25" font-size="8.2" fill="#1e1e1e" text-anchor="end" font-weight="normal" >4</text><line x1="41.20" y1="439.50" x2="44.40" y2="439.50" stroke="#222" stroke-width="1.0" /><text x="38.40" y="441.75" font-size="8.2" fill="#1e1e1e" text-anchor="end" font-weight="normal" >2</text><line x1="41.20" y1="466.50" x2="44.40" y2="466.50" stroke="#222" stroke-width="1.0" /><text x="38.40" y="469.25" font-size="8.2" fill="#1e1e1e" text-anchor="end" font-weight="normal" >0</text><line x1="68.50" y1="471.90" x2="68.50" y2="474.50" stroke="#222" stroke-width="1.0" /><text x="68.30" y="484.40" font-size="8.0" fill="#1e1e1e" text-anchor="middle" font-weight="normal" >A</text><line x1="108.50" y1="471.90" x2="108.50" y2="474.50" stroke="#222" stroke-width="1.0" /><text x="108.10" y="484.40" font-size="8.0" fill="#1e1e1e" text-anchor="middle" font-weight="normal" >B</text><line x1="148.50" y1="471.90" x2="148.50" y2="474.50" stroke="#222" stroke-width="1.0" /><text x="148.00" y="484.40" font-size="8.0" fill="#1e1e1e" text-anchor="middle" font-weight="normal" >C</text><line x1="187.50" y1="471.90" x2="187.50" y2="474.50" stroke="#222" stroke-width="1.0" /><text x="187.90" y="484.40" font-size="8.0" fill="#1e1e1e" text-anchor="middle" font-weight="normal" >D</text><g transform="translate(127.70,497.60) rotate(0) scale(0.57,1)"><text x="0" y="0" font-size="9.8" fill="#222" text-anchor="middle" font-weight="bold">Cluster</text></g><g transform="translate(28.20,411.00) rotate(-90) scale(0.57,1)"><text x="0" y="0" font-size="9.6" fill="#222" text-anchor="middle" font-weight="bold">H-index</text></g><line x1="68.30" y1="370.50" x2="148.40" y2="370.50" stroke="#2a2a2a" stroke-width="1.0" /><circle cx="103.70" cy="367.00" r="0.95" fill="#2a2a2a"/><circle cx="106.80" cy="367.00" r="0.95" fill="#2a2a2a"/><circle cx="109.90" cy="367.00" r="0.95" fill="#2a2a2a"/><circle cx="113.00" cy="367.00" r="0.95" fill="#2a2a2a"/><line x1="108.10" y1="384.50" x2="148.40" y2="384.50" stroke="#2a2a2a" stroke-width="1.0" /><circle cx="123.60" cy="380.50" r="0.95" fill="#2a2a2a"/><circle cx="126.70" cy="380.50" r="0.95" fill="#2a2a2a"/><circle cx="129.80" cy="380.50" r="0.95" fill="#2a2a2a"/><circle cx="132.90" cy="380.50" r="0.95" fill="#2a2a2a"/><line x1="148.00" y1="398.50" x2="188.30" y2="398.50" stroke="#2a2a2a" stroke-width="1.0" /><circle cx="163.50" cy="394.40" r="0.95" fill="#2a2a2a"/><circle cx="166.60" cy="394.40" r="0.95" fill="#2a2a2a"/><circle cx="169.70" cy="394.40" r="0.95" fill="#2a2a2a"/><circle cx="172.80" cy="394.40" r="0.95" fill="#2a2a2a"/><text x="227.20" y="173.00" font-size="11.2" fill="#111" text-anchor="start" font-weight="bold" stroke="#111" stroke-width="0.3">E</text><defs><radialGradient id="olv1" cx="291.0" cy="261.0" r="63.7" gradientUnits="userSpaceOnUse"><stop offset="0" stop-color="#a8ac76"/><stop offset="0.5" stop-color="#90a25a"/><stop offset="1" stop-color="#7ea250"/></radialGradient></defs><defs><filter id="pb1" x="-5%" y="-5%" width="110%" height="110%"><feGaussianBlur stdDeviation="0.35"/></filter></defs><g filter="url(#pb1)"><path d="M291.00 261.00L291.00 197.30A63.7 63.7 0 0 1 352.40 277.98Z" fill="url(#olv1)" /><path d="M291.00 261.00L291.59 197.30A63.7 63.7 0 0 1 292.18 197.31Z" fill="#d8c850" fill-opacity="0.15"/><path d="M291.00 261.00L292.77 197.32A63.7 63.7 0 0 1 293.49 197.35Z" fill="#2a8636" fill-opacity="0.5"/><path d="M291.00 261.00L293.95 197.37A63.7 63.7 0 0 1 294.55 197.40Z" fill="#d8c850" fill-opacity="0.15"/><path d="M291.00 261.00L295.14 197.43A63.7 63.7 0 0 1 295.85 197.49Z" fill="#2a8636" fill-opacity="0.5"/><path d="M291.00 261.00L296.31 197.52A63.7 63.7 0 0 1 296.90 197.57Z" fill="#d8c850" fill-opacity="0.15"/><path d="M291.00 261.00L297.49 197.63A63.7 63.7 0 0 1 298.21 197.71Z" fill="#2a8636" fill-opacity="0.5"/><path d="M291.00 261.00L298.67 197.76A63.7 63.7 0 0 1 299.25 197.84Z" fill="#d8c850" fill-opacity="0.15"/><path d="M291.00 261.00L299.84 197.92A63.7 63.7 0 0 1 300.55 198.02Z" fill="#2a8636" fill-opacity="0.5"/><path d="M291.00 261.00L301.01 198.09A63.7 63.7 0 0 1 301.59 198.19Z" fill="#d8c850" fill-opacity="0.15"/><path d="M291.00 261.00L302.17 198.29A63.7 63.7 0 0 1 302.88 198.42Z" fill="#2a8636" fill-opacity="0.5"/><path d="M291.00 261.00L303.34 198.51A63.7 63.7 0 0 1 303.92 198.62Z" fill="#d8c850" fill-opacity="0.15"/><path d="M291.00 261.00L304.49 198.75A63.7 63.7 0 0 1 305.20 198.90Z" fill="#2a8636" fill-opacity="0.5"/><path d="M291.00 261.00L305.65 199.01A63.7 63.7 0 0 1 306.22 199.15Z" fill="#d8c850" fill-opacity="0.15"/><path d="M291.00 261.00L306.80 199.29A63.7 63.7 0 0 1 307.49 199.47Z" fill="#2a8636" fill-opacity="0.5"/><path d="M291.00 261.00L307.94 199.59A63.7 63.7 0 0 1 308.51 199.75Z" fill="#d8c850" fill-opacity="0.15"/><path d="M291.00 261.00L309.08 199.92A63.7 63.7 0 0 1 309.76 200.13Z" fill="#2a8636" fill-opacity="0.5"/><path d="M291.00 261.00L310.21 200.26A63.7 63.7 0 0 1 310.77 200.45Z" fill="#d8c850" fill-opacity="0.15"/><path d="M291.00 261.00L311.33 200.63A63.7 63.7 0 0 1 312.01 200.86Z" fill="#2a8636" fill-opacity="0.5"/><path d="M291.00 261.00L312.45 201.02A63.7 63.7 0 0 1 313.00 201.22Z" fill="#d8c850" fill-opacity="0.15"/><path d="M291.00 261.00L313.56 201.43A63.7 63.7 0 0 1 314.23 201.69Z" fill="#2a8636" fill-opacity="0.5"/><path d="M291.00 261.00L314.66 201.86A63.7 63.7 0 0 1 315.21 202.08Z" fill="#d8c850" fill-opacity="0.15"/><path d="M291.00 261.00L315.75 202.31A63.7 63.7 0 0 1 316.41 202.59Z" fill="#2a8636" fill-opacity="0.5"/><path d="M291.00 261.00L316.84 202.78A63.7 63.7 0 0 1 317.38 203.02Z" fill="#d8c850" fill-opacity="0.15"/><path d="M291.00 261.00L317.91 203.26A63.7 63.7 0 0 1 318.56 203.57Z" fill="#2a8636" fill-opacity="0.5"/><path d="M291.00 261.00L318.98 203.77A63.7 63.7 0 0 1 319.51 204.04Z" fill="#d8c850" fill-opacity="0.15"/><path d="M291.00 261.00L320.04 204.30A63.7 63.7 0 0 1 320.68 204.63Z" fill="#2a8636" fill-opacity="0.5"/><path d="M291.00 261.00L321.08 204.85A63.7 63.7 0 0 1 321.60 205.13Z" fill="#d8c850" fill-opacity="0.15"/><path d="M291.00 261.00L322.12 205.42A63.7 63.7 0 0 1 322.75 205.77Z" fill="#2a8636" fill-opacity="0.5"/><path d="M291.00 261.00L323.15 206.01A63.7 63.7 0 0 1 323.66 206.31Z" fill="#d8c850" fill-opacity="0.15"/><path d="M291.00 261.00L324.16 206.61A63.7 63.7 0 0 1 324.77 206.99Z" fill="#2a8636" fill-opacity="0.5"/><path d="M291.00 261.00L325.17 207.24A63.7 63.7 0 0 1 325.66 207.56Z" fill="#d8c850" fill-opacity="0.15"/><path d="M291.00 261.00L326.16 207.88A63.7 63.7 0 0 1 326.76 208.28Z" fill="#2a8636" fill-opacity="0.5"/><path d="M291.00 261.00L327.14 208.54A63.7 63.7 0 0 1 327.62 208.88Z" fill="#d8c850" fill-opacity="0.15"/><path d="M291.00 261.00L328.11 209.22A63.7 63.7 0 0 1 328.69 209.65Z" fill="#2a8636" fill-opacity="0.5"/><path d="M291.00 261.00L329.06 209.92A63.7 63.7 0 0 1 329.53 210.28Z" fill="#d8c850" fill-opacity="0.15"/><path d="M291.00 261.00L330.00 210.64A63.7 63.7 0 0 1 330.57 211.08Z" fill="#2a8636" fill-opacity="0.5"/><path d="M291.00 261.00L330.93 211.37A63.7 63.7 0 0 1 331.39 211.74Z" fill="#d8c850" fill-opacity="0.15"/><path d="M291.00 261.00L331.84 212.12A63.7 63.7 0 0 1 332.39 212.58Z" fill="#2a8636" fill-opacity="0.5"/><path d="M291.00 261.00L332.75 212.89A63.7 63.7 0 0 1 333.19 213.27Z" fill="#d8c850" fill-opacity="0.15"/><path d="M291.00 261.00L333.63 213.67A63.7 63.7 0 0 1 334.16 214.15Z" fill="#2a8636" fill-opacity="0.5"/><path d="M291.00 261.00L334.50 214.47A63.7 63.7 0 0 1 334.93 214.87Z" fill="#d8c850" fill-opacity="0.15"/><path d="M291.00 261.00L335.36 215.28A63.7 63.7 0 0 1 335.87 215.79Z" fill="#2a8636" fill-opacity="0.5"/><path d="M291.00 261.00L336.20 216.11A63.7 63.7 0 0 1 336.61 216.54Z" fill="#d8c850" fill-opacity="0.15"/><path d="M291.00 261.00L337.02 216.96A63.7 63.7 0 0 1 337.52 217.48Z" fill="#2a8636" fill-opacity="0.5"/><path d="M291.00 261.00L337.83 217.82A63.7 63.7 0 0 1 338.23 218.26Z" fill="#d8c850" fill-opacity="0.15"/><path d="M291.00 261.00L338.63 218.70A63.7 63.7 0 0 1 339.10 219.24Z" fill="#2a8636" fill-opacity="0.5"/><path d="M291.00 261.00L339.40 219.59A63.7 63.7 0 0 1 339.79 220.04Z" fill="#d8c850" fill-opacity="0.15"/><path d="M291.00 261.00L340.16 220.50A63.7 63.7 0 0 1 340.62 221.05Z" fill="#2a8636" fill-opacity="0.5"/><path d="M291.00 261.00L340.91 221.42A63.7 63.7 0 0 1 341.27 221.88Z" fill="#d8c850" fill-opacity="0.15"/><path d="M291.00 261.00L341.63 222.35A63.7 63.7 0 0 1 342.07 222.92Z" fill="#2a8636" fill-opacity="0.5"/><path d="M291.00 261.00L342.34 223.30A63.7 63.7 0 0 1 342.69 223.77Z" fill="#d8c850" fill-opacity="0.15"/><path d="M291.00 261.00L343.03 224.25A63.7 63.7 0 0 1 343.44 224.84Z" fill="#2a8636" fill-opacity="0.5"/><path d="M291.00 261.00L343.71 225.23A63.7 63.7 0 0 1 344.04 225.72Z" fill="#d8c850" fill-opacity="0.15"/><path d="M291.00 261.00L344.36 226.21A63.7 63.7 0 0 1 344.75 226.82Z" fill="#2a8636" fill-opacity="0.5"/><path d="M291.00 261.00L345.00 227.21A63.7 63.7 0 0 1 345.31 227.71Z" fill="#d8c850" fill-opacity="0.15"/><path d="M291.00 261.00L345.62 228.22A63.7 63.7 0 0 1 345.98 228.83Z" fill="#2a8636" fill-opacity="0.5"/><path d="M291.00 261.00L346.22 229.24A63.7 63.7 0 0 1 346.51 229.75Z" fill="#d8c850" fill-opacity="0.15"/><path d="M291.00 261.00L346.80 230.27A63.7 63.7 0 0 1 347.14 230.90Z" fill="#2a8636" fill-opacity="0.5"/><path d="M291.00 261.00L347.36 231.31A63.7 63.7 0 0 1 347.63 231.83Z" fill="#d8c850" fill-opacity="0.15"/><path d="M291.00 261.00L347.90 232.36A63.7 63.7 0 0 1 348.22 233.00Z" fill="#2a8636" fill-opacity="0.5"/><path d="M291.00 261.00L348.42 233.42A63.7 63.7 0 0 1 348.67 233.95Z" fill="#d8c850" fill-opacity="0.15"/><path d="M291.00 261.00L348.92 234.49A63.7 63.7 0 0 1 349.22 235.14Z" fill="#2a8636" fill-opacity="0.5"/><path d="M291.00 261.00L349.40 235.57A63.7 63.7 0 0 1 349.64 236.11Z" fill="#d8c850" fill-opacity="0.15"/><path d="M291.00 261.00L349.87 236.66A63.7 63.7 0 0 1 350.14 237.32Z" fill="#2a8636" fill-opacity="0.5"/><path d="M291.00 261.00L350.31 237.75A63.7 63.7 0 0 1 350.52 238.31Z" fill="#d8c850" fill-opacity="0.15"/><path d="M291.00 261.00L350.73 238.86A63.7 63.7 0 0 1 350.97 239.53Z" fill="#2a8636" fill-opacity="0.5"/><path d="M291.00 261.00L351.13 239.97A63.7 63.7 0 0 1 351.32 240.53Z" fill="#d8c850" fill-opacity="0.15"/><path d="M291.00 261.00L351.51 241.09A63.7 63.7 0 0 1 351.73 241.77Z" fill="#2a8636" fill-opacity="0.5"/><path d="M291.00 261.00L351.87 242.22A63.7 63.7 0 0 1 352.04 242.78Z" fill="#d8c850" fill-opacity="0.15"/><path d="M291.00 261.00L352.21 243.35A63.7 63.7 0 0 1 352.40 244.04Z" fill="#2a8636" fill-opacity="0.5"/><path d="M291.00 261.00L352.52 244.49A63.7 63.7 0 0 1 352.67 245.06Z" fill="#d8c850" fill-opacity="0.15"/><path d="M291.00 261.00L352.82 245.63A63.7 63.7 0 0 1 352.99 246.33Z" fill="#2a8636" fill-opacity="0.5"/><path d="M291.00 261.00L353.09 246.78A63.7 63.7 0 0 1 353.22 247.36Z" fill="#d8c850" fill-opacity="0.15"/><path d="M291.00 261.00L353.35 247.94A63.7 63.7 0 0 1 353.49 248.64Z" fill="#2a8636" fill-opacity="0.5"/><path d="M291.00 261.00L353.58 249.10A63.7 63.7 0 0 1 353.69 249.68Z" fill="#d8c850" fill-opacity="0.15"/><path d="M291.00 261.00L353.79 250.26A63.7 63.7 0 0 1 353.91 250.97Z" fill="#2a8636" fill-opacity="0.5"/><path d="M291.00 261.00L353.98 251.43A63.7 63.7 0 0 1 354.06 252.01Z" fill="#d8c850" fill-opacity="0.15"/><path d="M291.00 261.00L354.14 252.60A63.7 63.7 0 0 1 354.23 253.31Z" fill="#2a8636" fill-opacity="0.5"/><path d="M291.00 261.00L354.29 253.77A63.7 63.7 0 0 1 354.35 254.36Z" fill="#d8c850" fill-opacity="0.15"/><path d="M291.00 261.00L354.35 254.36A63.7 63.7 0 0 1 354.49 255.79Z" fill="#049fe0" fill-opacity="0.6"/><path d="M291.00 261.00L354.47 255.54A63.7 63.7 0 0 1 354.57 256.97Z" fill="#028b35" fill-opacity="0.6"/><path d="M291.00 261.00L354.56 256.72A63.7 63.7 0 0 1 354.64 258.15Z" fill="#e84b02" fill-opacity="0.6"/><path d="M291.00 261.00L354.62 257.90A63.7 63.7 0 0 1 354.68 259.33Z" fill="#eee414" fill-opacity="0.6"/><path d="M291.00 261.00L354.67 259.08A63.7 63.7 0 0 1 354.70 260.52Z" fill="#049fe0" fill-opacity="0.6"/><path d="M291.00 261.00L354.70 260.26A63.7 63.7 0 0 1 354.70 261.70Z" fill="#028b35" fill-opacity="0.6"/><path d="M291.00 261.00L354.70 261.44A63.7 63.7 0 0 1 354.67 262.88Z" fill="#e84b02" fill-opacity="0.6"/><path d="M291.00 261.00L354.68 262.63A63.7 63.7 0 0 1 354.63 264.06Z" fill="#eee414" fill-opacity="0.6"/><path d="M291.00 261.00L354.64 263.81A63.7 63.7 0 0 1 354.52 265.83Z" fill="#049fe0" fill-opacity="0.6"/><path d="M291.00 261.00L354.54 265.58A63.7 63.7 0 0 1 354.36 267.60Z" fill="#028b35" fill-opacity="0.6"/><path d="M291.00 261.00L354.38 267.34A63.7 63.7 0 0 1 354.15 269.36Z" fill="#e84b02" fill-opacity="0.6"/><path d="M291.00 261.00L354.18 269.11A63.7 63.7 0 0 1 353.89 271.11Z" fill="#eee414" fill-opacity="0.6"/><path d="M291.00 261.00L353.93 270.86A63.7 63.7 0 0 1 353.47 273.44Z" fill="#049fe0" fill-opacity="0.6"/><path d="M291.00 261.00L353.52 273.19A63.7 63.7 0 0 1 352.97 275.75Z" fill="#028b35" fill-opacity="0.6"/><path d="M291.00 261.00L353.03 275.50A63.7 63.7 0 0 1 352.38 278.04Z" fill="#e84b02" fill-opacity="0.6"/><path d="M291.00 261.00L352.45 277.80A63.7 63.7 0 0 1 351.52 280.87Z" fill="#eee414" /><path d="M291.00 261.00L351.60 280.63A63.7 63.7 0 0 1 350.53 283.66Z" fill="#049fe0" /><path d="M291.00 261.00L350.62 283.42A63.7 63.7 0 0 1 349.18 286.93Z" fill="#028b35" /><path d="M291.00 261.00L349.28 286.70A63.7 63.7 0 0 1 346.81 291.70Z" fill="#e84b02" /><path d="M291.00 261.00L346.94 291.48A63.7 63.7 0 0 1 343.73 296.74Z" fill="#eee414" /><path d="M291.00 261.00L343.87 296.53A63.7 63.7 0 0 1 337.46 304.58Z" fill="#049fe0" /><path d="M291.00 261.00L337.63 304.39A63.7 63.7 0 0 1 329.09 312.05Z" fill="#028b35" /><path d="M291.00 261.00L329.30 311.90A63.7 63.7 0 0 1 318.48 318.47Z" fill="#e84b02" /><path d="M291.00 261.00L318.71 318.36A63.7 63.7 0 0 1 303.96 323.37Z" fill="#eee414" /><path d="M291.00 261.00L304.21 323.32A63.7 63.7 0 0 1 281.62 324.00Z" fill="#049fe0" /><path d="M291.00 261.00L281.87 324.04A63.7 63.7 0 0 1 257.87 315.41Z" fill="#028b35" /><path d="M291.00 261.00L258.09 315.54A63.7 63.7 0 0 1 234.12 289.68Z" fill="#e84b02" /><path d="M291.00 261.00L234.24 289.91A63.7 63.7 0 0 1 232.23 236.42Z" fill="#eee414" /><path d="M291.00 261.00L232.13 236.66A63.7 63.7 0 0 1 291.00 197.30Z" fill="#049fe0" /></g><defs><filter id="pb2" x="-5%" y="-5%" width="110%" height="110%"><feGaussianBlur stdDeviation="0.4"/></filter></defs><defs><filter id="sb2" x="-5%" y="-5%" width="110%" height="110%"><feGaussianBlur stdDeviation="0.55"/></filter><clipPath id="pc2"><circle cx="434.7" cy="261.2" r="63.7"/></clipPath></defs><g clip-path="url(#pc2)"><g filter="url(#sb2)"><path d="M434.70 261.20L434.70 197.50A63.7 63.7 0 0 1 436.28 197.52Z" fill="#e84b02" /><path d="M434.70 261.20L436.02 197.51A63.7 63.7 0 0 1 437.60 197.57Z" fill="#eee414" /><path d="M434.70 261.20L437.34 197.55A63.7 63.7 0 0 1 438.91 197.64Z" fill="#049fe0" /><path d="M434.70 261.20L438.66 197.62A63.7 63.7 0 0 1 440.23 197.74Z" fill="#028b35" /><path d="M434.70 261.20L439.98 197.72A63.7 63.7 0 0 1 441.55 197.87Z" fill="#e84b02" /><path d="M434.70 261.20L441.29 197.84A63.7 63.7 0 0 1 442.86 198.02Z" fill="#eee414" /><path d="M434.70 261.20L442.61 197.99A63.7 63.7 0 0 1 444.17 198.21Z" fill="#049fe0" /><path d="M434.70 261.20L443.91 198.17A63.7 63.7 0 0 1 445.47 198.42Z" fill="#028b35" /><path d="M434.70 261.20L445.22 198.37A63.7 63.7 0 0 1 446.77 198.65Z" fill="#e84b02" /><path d="M434.70 261.20L446.52 198.61A63.7 63.7 0 0 1 448.06 198.92Z" fill="#eee414" /><path d="M434.70 261.20L447.81 198.86A63.7 63.7 0 0 1 449.35 199.21Z" fill="#049fe0" /><path d="M434.70 261.20L449.10 199.15A63.7 63.7 0 0 1 450.63 199.53Z" fill="#028b35" /><path d="M434.70 261.20L450.39 199.46A63.7 63.7 0 0 1 451.91 199.87Z" fill="#e84b02" /><path d="M434.70 261.20L451.66 199.80A63.7 63.7 0 0 1 453.18 200.24Z" fill="#eee414" /><path d="M434.70 261.20L452.93 200.17A63.7 63.7 0 0 1 454.44 200.64Z" fill="#049fe0" /><path d="M434.70 261.20L454.20 200.56A63.7 63.7 0 0 1 455.69 201.06Z" fill="#028b35" /><path d="M434.70 261.20L455.45 200.97A63.7 63.7 0 0 1 456.93 201.51Z" fill="#e84b02" /><path d="M434.70 261.20L456.69 201.42A63.7 63.7 0 0 1 458.17 201.98Z" fill="#eee414" /><path d="M434.70 261.20L457.93 201.89A63.7 63.7 0 0 1 459.39 202.48Z" fill="#049fe0" /><path d="M434.70 261.20L459.15 202.38A63.7 63.7 0 0 1 460.60 203.00Z" fill="#028b35" /><path d="M434.70 261.20L460.37 202.90A63.7 63.7 0 0 1 461.80 203.55Z" fill="#e84b02" /><path d="M434.70 261.20L461.57 203.44A63.7 63.7 0 0 1 462.99 204.13Z" fill="#eee414" /><path d="M434.70 261.20L462.76 204.01A63.7 63.7 0 0 1 464.17 204.73Z" fill="#049fe0" /><path d="M434.70 261.20L463.94 204.61A63.7 63.7 0 0 1 465.33 205.35Z" fill="#028b35" /><path d="M434.70 261.20L465.11 205.23A63.7 63.7 0 0 1 466.48 206.00Z" fill="#e84b02" /><path d="M434.70 261.20L466.26 205.87A63.7 63.7 0 0 1 467.62 206.67Z" fill="#eee414" /><path d="M434.70 261.20L467.40 206.54A63.7 63.7 0 0 1 468.75 207.36Z" fill="#049fe0" /><path d="M434.70 261.20L468.53 207.23A63.7 63.7 0 0 1 469.86 208.08Z" fill="#028b35" /><path d="M434.70 261.20L469.64 207.94A63.7 63.7 0 0 1 470.95 208.82Z" fill="#e84b02" /><path d="M434.70 261.20L470.74 208.68A63.7 63.7 0 0 1 472.03 209.58Z" fill="#eee414" /><path d="M434.70 261.20L471.82 209.43A63.7 63.7 0 0 1 473.09 210.37Z" fill="#049fe0" /><path d="M434.70 261.20L472.89 210.21A63.7 63.7 0 0 1 474.14 211.17Z" fill="#028b35" /><path d="M434.70 261.20L473.93 211.02A63.7 63.7 0 0 1 475.16 212.00Z" fill="#e84b02" /><path d="M434.70 261.20L474.97 211.84A63.7 63.7 0 0 1 476.18 212.85Z" fill="#eee414" /><path d="M434.70 261.20L475.98 212.69A63.7 63.7 0 0 1 477.17 213.72Z" fill="#049fe0" /><path d="M434.70 261.20L476.98 213.55A63.7 63.7 0 0 1 478.14 214.61Z" fill="#028b35" /><path d="M434.70 261.20L477.96 214.44A63.7 63.7 0 0 1 479.10 215.52Z" fill="#e84b02" /><path d="M434.70 261.20L478.92 215.35A63.7 63.7 0 0 1 480.04 216.46Z" fill="#eee414" /><path d="M434.70 261.20L479.86 216.27A63.7 63.7 0 0 1 480.96 217.40Z" fill="#049fe0" /><path d="M434.70 261.20L480.78 217.22A63.7 63.7 0 0 1 481.85 218.37Z" fill="#028b35" /><path d="M434.70 261.20L481.68 218.19A63.7 63.7 0 0 1 482.73 219.36Z" fill="#e84b02" /><path d="M434.70 261.20L482.56 219.17A63.7 63.7 0 0 1 483.59 220.37Z" fill="#eee414" /><path d="M434.70 261.20L483.43 220.17A63.7 63.7 0 0 1 484.43 221.39Z" fill="#049fe0" /><path d="M434.70 261.20L484.27 221.19A63.7 63.7 0 0 1 485.24 222.43Z" fill="#028b35" /><path d="M434.70 261.20L485.09 222.23A63.7 63.7 0 0 1 486.03 223.48Z" fill="#e84b02" /><path d="M434.70 261.20L485.88 223.28A63.7 63.7 0 0 1 486.81 224.56Z" fill="#eee414" /><path d="M434.70 261.20L486.66 224.35A63.7 63.7 0 0 1 487.55 225.64Z" fill="#049fe0" /><path d="M434.70 261.20L487.41 225.43A63.7 63.7 0 0 1 488.28 226.75Z" fill="#028b35" /><path d="M434.70 261.20L488.14 226.53A63.7 63.7 0 0 1 488.98 227.87Z" fill="#e84b02" /><path d="M434.70 261.20L488.85 227.65A63.7 63.7 0 0 1 489.66 229.00Z" fill="#eee414" /><path d="M434.70 261.20L489.53 228.78A63.7 63.7 0 0 1 490.32 230.15Z" fill="#049fe0" /><path d="M434.70 261.20L490.19 229.92A63.7 63.7 0 0 1 490.95 231.31Z" fill="#028b35" /><path d="M434.70 261.20L490.83 231.08A63.7 63.7 0 0 1 491.56 232.48Z" fill="#e84b02" /><path d="M434.70 261.20L491.44 232.25A63.7 63.7 0 0 1 492.14 233.66Z" fill="#eee414" /><path d="M434.70 261.20L492.03 233.43A63.7 63.7 0 0 1 492.70 234.86Z" fill="#049fe0" /><path d="M434.70 261.20L492.59 234.63A63.7 63.7 0 0 1 493.23 236.07Z" fill="#028b35" /><path d="M434.70 261.20L493.13 235.84A63.7 63.7 0 0 1 493.74 237.29Z" fill="#e84b02" /><path d="M434.70 261.20L493.65 237.05A63.7 63.7 0 0 1 494.22 238.52Z" fill="#eee414" /><path d="M434.70 261.20L494.13 238.28A63.7 63.7 0 0 1 494.68 239.76Z" fill="#049fe0" /><path d="M434.70 261.20L494.60 239.52A63.7 63.7 0 0 1 495.11 241.00Z" fill="#028b35" /><path d="M434.70 261.20L495.03 240.76A63.7 63.7 0 0 1 495.52 242.26Z" fill="#e84b02" /><path d="M434.70 261.20L495.44 242.02A63.7 63.7 0 0 1 495.90 243.53Z" fill="#eee414" /><path d="M434.70 261.20L495.83 243.28A63.7 63.7 0 0 1 496.25 244.80Z" fill="#049fe0" /><path d="M434.70 261.20L496.19 244.55A63.7 63.7 0 0 1 496.58 246.08Z" fill="#028b35" /></g></g><g filter="url(#pb2)"><path d="M434.70 261.20L496.52 245.83A63.7 63.7 0 0 1 497.62 251.26Z" fill="#e84b02" /><path d="M434.70 261.20L497.58 251.01A63.7 63.7 0 0 1 498.23 256.51Z" fill="#eee414" /><path d="M434.70 261.20L498.21 256.25A63.7 63.7 0 0 1 498.40 261.79Z" fill="#049fe0" /><path d="M434.70 261.20L498.40 261.53A63.7 63.7 0 0 1 498.13 267.06Z" fill="#028b35" /><path d="M434.70 261.20L498.15 266.81A63.7 63.7 0 0 1 496.29 277.45Z" fill="#e84b02" /><path d="M434.70 261.20L496.36 277.21A63.7 63.7 0 0 1 491.63 289.79Z" fill="#eee414" /><path d="M434.70 261.20L491.74 289.56A63.7 63.7 0 0 1 480.14 305.84Z" fill="#049fe0" /><path d="M434.70 261.20L480.32 305.66A63.7 63.7 0 0 1 445.62 323.96Z" fill="#028b35" /><path d="M434.70 261.20L445.87 323.91A63.7 63.7 0 0 1 379.41 292.83Z" fill="#e84b02" /><path d="M434.70 261.20L379.53 293.05A63.7 63.7 0 0 1 434.70 197.50Z" fill="#eee414" /></g><defs><radialGradient id="cg2" cx="434.7" cy="261.2" r="26" gradientUnits="userSpaceOnUse"><stop offset="0" stop-color="#a8b078" stop-opacity="1"/><stop offset="0.45" stop-color="#9aa86a" stop-opacity="0.85"/><stop offset="1" stop-color="#8fa060" stop-opacity="0"/></radialGradient><clipPath id="cc2"><path d="M434.70 261.20L434.70 197.50A63.7 63.7 0 0 1 496.52 245.83Z" fill="#000" /></clipPath></defs><circle cx="434.7" cy="261.2" r="26" fill="url(#cg2)" clip-path="url(#cc2)"/><defs><filter id="pb3" x="-5%" y="-5%" width="110%" height="110%"><feGaussianBlur stdDeviation="0.4"/></filter></defs><defs><filter id="sb3" x="-5%" y="-5%" width="110%" height="110%"><feGaussianBlur stdDeviation="0.55"/></filter><clipPath id="pc3"><circle cx="291.0" cy="426.0" r="63.7"/></clipPath></defs><g clip-path="url(#pc3)"><g filter="url(#sb3)"><path d="M291.00 426.00L291.00 362.30A63.7 63.7 0 0 1 293.19 362.34Z" fill="#e84b02" /><path d="M291.00 426.00L292.93 362.33A63.7 63.7 0 0 1 295.12 362.43Z" fill="#eee414" /><path d="M291.00 426.00L294.86 362.42A63.7 63.7 0 0 1 297.05 362.59Z" fill="#049fe0" /><path d="M291.00 426.00L296.79 362.56A63.7 63.7 0 0 1 298.97 362.80Z" fill="#028b35" /><path d="M291.00 426.00L298.72 362.77A63.7 63.7 0 0 1 300.88 363.07Z" fill="#e84b02" /><path d="M291.00 426.00L300.63 363.03A63.7 63.7 0 0 1 302.79 363.40Z" fill="#eee414" /><path d="M291.00 426.00L302.54 363.35A63.7 63.7 0 0 1 304.68 363.79Z" fill="#049fe0" /><path d="M291.00 426.00L304.43 363.73A63.7 63.7 0 0 1 306.56 364.23Z" fill="#028b35" /><path d="M291.00 426.00L306.32 364.17A63.7 63.7 0 0 1 308.43 364.73Z" fill="#e84b02" /><path d="M291.00 426.00L308.19 364.66A63.7 63.7 0 0 1 310.28 365.29Z" fill="#eee414" /><path d="M291.00 426.00L310.04 365.21A63.7 63.7 0 0 1 312.12 365.90Z" fill="#049fe0" /><path d="M291.00 426.00L311.88 365.82A63.7 63.7 0 0 1 313.93 366.57Z" fill="#028b35" /><path d="M291.00 426.00L313.69 366.48A63.7 63.7 0 0 1 315.72 367.29Z" fill="#e84b02" /><path d="M291.00 426.00L315.49 367.20A63.7 63.7 0 0 1 317.49 368.07Z" fill="#eee414" /><path d="M291.00 426.00L317.26 367.97A63.7 63.7 0 0 1 319.24 368.90Z" fill="#049fe0" /><path d="M291.00 426.00L319.01 368.79A63.7 63.7 0 0 1 320.96 369.79Z" fill="#028b35" /><path d="M291.00 426.00L320.73 369.67A63.7 63.7 0 0 1 322.65 370.72Z" fill="#e84b02" /><path d="M291.00 426.00L322.43 370.59A63.7 63.7 0 0 1 324.31 371.71Z" fill="#eee414" /><path d="M291.00 426.00L324.10 371.57A63.7 63.7 0 0 1 325.95 372.74Z" fill="#049fe0" /><path d="M291.00 426.00L325.73 372.60A63.7 63.7 0 0 1 327.55 373.83Z" fill="#028b35" /><path d="M291.00 426.00L327.34 373.68A63.7 63.7 0 0 1 329.11 374.96Z" fill="#e84b02" /><path d="M291.00 426.00L328.91 374.81A63.7 63.7 0 0 1 330.65 376.14Z" fill="#eee414" /><path d="M291.00 426.00L330.45 375.98A63.7 63.7 0 0 1 332.14 377.37Z" fill="#049fe0" /><path d="M291.00 426.00L331.95 377.20A63.7 63.7 0 0 1 333.60 378.64Z" fill="#028b35" /><path d="M291.00 426.00L333.41 378.47A63.7 63.7 0 0 1 335.02 379.95Z" fill="#e84b02" /><path d="M291.00 426.00L334.83 379.78A63.7 63.7 0 0 1 336.39 381.31Z" fill="#eee414" /><path d="M291.00 426.00L336.21 381.13A63.7 63.7 0 0 1 337.73 382.71Z" fill="#049fe0" /><path d="M291.00 426.00L337.55 382.52A63.7 63.7 0 0 1 339.02 384.15Z" fill="#028b35" /><path d="M291.00 426.00L338.85 383.95A63.7 63.7 0 0 1 340.27 385.62Z" fill="#e84b02" /><path d="M291.00 426.00L340.11 385.43A63.7 63.7 0 0 1 341.47 387.14Z" fill="#eee414" /><path d="M291.00 426.00L341.32 386.93A63.7 63.7 0 0 1 342.63 388.69Z" fill="#049fe0" /><path d="M291.00 426.00L342.48 388.48A63.7 63.7 0 0 1 343.74 390.27Z" fill="#028b35" /><path d="M291.00 426.00L343.59 390.06A63.7 63.7 0 0 1 344.80 391.89Z" fill="#e84b02" /><path d="M291.00 426.00L344.66 391.67A63.7 63.7 0 0 1 345.81 393.54Z" fill="#eee414" /><path d="M291.00 426.00L345.68 393.32A63.7 63.7 0 0 1 346.77 395.21Z" fill="#049fe0" /><path d="M291.00 426.00L346.64 394.99A63.7 63.7 0 0 1 347.68 396.92Z" fill="#028b35" /><path d="M291.00 426.00L347.56 396.69A63.7 63.7 0 0 1 348.53 398.65Z" fill="#e84b02" /><path d="M291.00 426.00L348.42 398.42A63.7 63.7 0 0 1 349.33 400.41Z" fill="#eee414" /><path d="M291.00 426.00L349.23 400.18A63.7 63.7 0 0 1 350.08 402.19Z" fill="#049fe0" /><path d="M291.00 426.00L349.99 401.96A63.7 63.7 0 0 1 350.78 404.00Z" fill="#028b35" /><path d="M291.00 426.00L350.69 403.76A63.7 63.7 0 0 1 351.42 405.82Z" fill="#e84b02" /><path d="M291.00 426.00L351.34 405.58A63.7 63.7 0 0 1 352.00 407.67Z" fill="#eee414" /><path d="M291.00 426.00L351.93 407.42A63.7 63.7 0 0 1 352.53 409.53Z" fill="#049fe0" /><path d="M291.00 426.00L352.47 409.28A63.7 63.7 0 0 1 353.00 411.40Z" fill="#028b35" /><path d="M291.00 426.00L352.95 411.15A63.7 63.7 0 0 1 353.42 413.29Z" fill="#e84b02" /><path d="M291.00 426.00L353.37 413.04A63.7 63.7 0 0 1 353.78 415.19Z" fill="#eee414" /><path d="M291.00 426.00L353.73 414.94A63.7 63.7 0 0 1 354.08 417.10Z" fill="#049fe0" /><path d="M291.00 426.00L354.04 416.85A63.7 63.7 0 0 1 354.32 419.02Z" fill="#028b35" /><path d="M291.00 426.00L354.29 418.76A63.7 63.7 0 0 1 354.50 420.94Z" fill="#e84b02" /><path d="M291.00 426.00L354.48 420.69A63.7 63.7 0 0 1 354.62 422.87Z" fill="#eee414" /><path d="M291.00 426.00L354.61 422.62A63.7 63.7 0 0 1 354.69 424.80Z" fill="#049fe0" /><path d="M291.00 426.00L354.68 424.55A63.7 63.7 0 0 1 354.70 426.74Z" fill="#028b35" /><path d="M291.00 426.00L354.70 426.48A63.7 63.7 0 0 1 354.64 428.67Z" fill="#e84b02" /><path d="M291.00 426.00L354.65 428.42A63.7 63.7 0 0 1 354.53 430.60Z" fill="#eee414" /><path d="M291.00 426.00L354.55 430.35A63.7 63.7 0 0 1 354.36 432.53Z" fill="#049fe0" /><path d="M291.00 426.00L354.39 432.27A63.7 63.7 0 0 1 354.14 434.45Z" fill="#028b35" /><path d="M291.00 426.00L354.17 434.19A63.7 63.7 0 0 1 353.85 436.36Z" fill="#e84b02" /><path d="M291.00 426.00L353.89 436.11A63.7 63.7 0 0 1 353.51 438.26Z" fill="#eee414" /><path d="M291.00 426.00L353.56 438.01A63.7 63.7 0 0 1 353.11 440.15Z" fill="#049fe0" /><path d="M291.00 426.00L353.16 439.91A63.7 63.7 0 0 1 352.65 442.03Z" fill="#028b35" /><path d="M291.00 426.00L352.71 441.79A63.7 63.7 0 0 1 352.13 443.90Z" fill="#e84b02" /><path d="M291.00 426.00L352.21 443.65A63.7 63.7 0 0 1 351.56 445.74Z" fill="#eee414" /><path d="M291.00 426.00L351.64 445.50A63.7 63.7 0 0 1 350.94 447.57Z" fill="#049fe0" /><path d="M291.00 426.00L351.02 447.33A63.7 63.7 0 0 1 350.25 449.38Z" fill="#028b35" /><path d="M291.00 426.00L350.35 449.14A63.7 63.7 0 0 1 349.52 451.17Z" fill="#e84b02" /><path d="M291.00 426.00L349.62 450.93A63.7 63.7 0 0 1 348.73 452.93Z" fill="#eee414" /><path d="M291.00 426.00L348.83 452.70A63.7 63.7 0 0 1 347.88 454.67Z" fill="#049fe0" /><path d="M291.00 426.00L348.00 454.44A63.7 63.7 0 0 1 346.99 456.39Z" fill="#028b35" /><path d="M291.00 426.00L347.11 456.16A63.7 63.7 0 0 1 346.04 458.07Z" fill="#e84b02" /><path d="M291.00 426.00L346.17 457.85A63.7 63.7 0 0 1 345.04 459.73Z" fill="#eee414" /><path d="M291.00 426.00L345.17 459.51A63.7 63.7 0 0 1 343.99 461.35Z" fill="#049fe0" /><path d="M291.00 426.00L344.13 461.14A63.7 63.7 0 0 1 342.89 462.94Z" fill="#028b35" /><path d="M291.00 426.00L343.04 462.73A63.7 63.7 0 0 1 341.75 464.50Z" fill="#e84b02" /><path d="M291.00 426.00L341.90 464.30A63.7 63.7 0 0 1 340.56 466.02Z" fill="#eee414" /><path d="M291.00 426.00L340.72 465.82A63.7 63.7 0 0 1 339.32 467.51Z" fill="#049fe0" /><path d="M291.00 426.00L339.48 467.31A63.7 63.7 0 0 1 338.04 468.96Z" fill="#028b35" /><path d="M291.00 426.00L338.21 468.77A63.7 63.7 0 0 1 336.71 470.36Z" fill="#e84b02" /><path d="M291.00 426.00L336.89 470.18A63.7 63.7 0 0 1 335.34 471.73Z" fill="#eee414" /><path d="M291.00 426.00L335.53 471.55A63.7 63.7 0 0 1 333.94 473.05Z" fill="#049fe0" /><path d="M291.00 426.00L334.12 472.88A63.7 63.7 0 0 1 332.49 474.34Z" fill="#028b35" /><path d="M291.00 426.00L332.68 474.17A63.7 63.7 0 0 1 331.00 475.57Z" fill="#e84b02" /><path d="M291.00 426.00L331.20 475.41A63.7 63.7 0 0 1 329.48 476.76Z" fill="#eee414" /><path d="M291.00 426.00L329.68 476.61A63.7 63.7 0 0 1 327.92 477.91Z" fill="#049fe0" /><path d="M291.00 426.00L328.13 477.76A63.7 63.7 0 0 1 326.33 479.01Z" fill="#028b35" /><path d="M291.00 426.00L326.54 478.86A63.7 63.7 0 0 1 324.70 480.05Z" fill="#e84b02" /><path d="M291.00 426.00L324.92 479.92A63.7 63.7 0 0 1 323.05 481.05Z" fill="#eee414" /><path d="M291.00 426.00L323.27 480.92A63.7 63.7 0 0 1 321.36 482.00Z" fill="#049fe0" /><path d="M291.00 426.00L321.59 481.88A63.7 63.7 0 0 1 319.65 482.89Z" fill="#028b35" /><path d="M291.00 426.00L319.88 482.78A63.7 63.7 0 0 1 317.91 483.74Z" fill="#e84b02" /><path d="M291.00 426.00L318.14 483.63A63.7 63.7 0 0 1 316.14 484.53Z" fill="#eee414" /><path d="M291.00 426.00L316.38 484.43A63.7 63.7 0 0 1 314.36 485.26Z" fill="#049fe0" /><path d="M291.00 426.00L314.59 485.17A63.7 63.7 0 0 1 312.55 485.95Z" fill="#028b35" /><path d="M291.00 426.00L312.79 485.86A63.7 63.7 0 0 1 310.72 486.57Z" fill="#e84b02" /><path d="M291.00 426.00L310.96 486.49A63.7 63.7 0 0 1 308.87 487.14Z" fill="#eee414" /><path d="M291.00 426.00L309.11 487.07A63.7 63.7 0 0 1 307.01 487.66Z" fill="#049fe0" /><path d="M291.00 426.00L307.25 487.59A63.7 63.7 0 0 1 305.13 488.11Z" fill="#028b35" /><path d="M291.00 426.00L305.38 488.06A63.7 63.7 0 0 1 303.24 488.51Z" fill="#e84b02" /><path d="M291.00 426.00L303.49 488.46A63.7 63.7 0 0 1 301.33 488.86Z" fill="#eee414" /><path d="M291.00 426.00L301.59 488.81A63.7 63.7 0 0 1 299.42 489.14Z" fill="#049fe0" /><path d="M291.00 426.00L299.67 489.11A63.7 63.7 0 0 1 297.50 489.37Z" fill="#028b35" /><path d="M291.00 426.00L297.75 489.34A63.7 63.7 0 0 1 295.58 489.54Z" fill="#e84b02" /><path d="M291.00 426.00L295.83 489.52A63.7 63.7 0 0 1 293.64 489.65Z" fill="#eee414" /><path d="M291.00 426.00L293.90 489.63A63.7 63.7 0 0 1 291.71 489.70Z" fill="#049fe0" /><path d="M291.00 426.00L291.97 489.69A63.7 63.7 0 0 1 289.78 489.69Z" fill="#028b35" /><path d="M291.00 426.00L290.03 489.69A63.7 63.7 0 0 1 287.85 489.62Z" fill="#e84b02" /><path d="M291.00 426.00L288.10 489.63A63.7 63.7 0 0 1 285.92 489.50Z" fill="#eee414" /><path d="M291.00 426.00L286.17 489.52A63.7 63.7 0 0 1 283.99 489.31Z" fill="#049fe0" /><path d="M291.00 426.00L284.25 489.34A63.7 63.7 0 0 1 282.07 489.07Z" fill="#028b35" /><path d="M291.00 426.00L282.33 489.11A63.7 63.7 0 0 1 280.16 488.77Z" fill="#e84b02" /><path d="M291.00 426.00L280.41 488.81A63.7 63.7 0 0 1 278.26 488.41Z" fill="#eee414" /><path d="M291.00 426.00L278.51 488.46A63.7 63.7 0 0 1 276.38 488.00Z" fill="#049fe0" /><path d="M291.00 426.00L276.62 488.06A63.7 63.7 0 0 1 274.50 487.53Z" fill="#028b35" /><path d="M291.00 426.00L274.75 487.59A63.7 63.7 0 0 1 272.64 487.00Z" fill="#e84b02" /><path d="M291.00 426.00L272.89 487.07A63.7 63.7 0 0 1 270.80 486.41Z" fill="#eee414" /><path d="M291.00 426.00L271.04 486.49A63.7 63.7 0 0 1 268.97 485.77Z" fill="#049fe0" /><path d="M291.00 426.00L269.21 485.86A63.7 63.7 0 0 1 267.17 485.07Z" fill="#028b35" /><path d="M291.00 426.00L267.41 485.17A63.7 63.7 0 0 1 265.39 484.32Z" fill="#e84b02" /><path d="M291.00 426.00L265.62 484.43A63.7 63.7 0 0 1 263.63 483.52Z" fill="#eee414" /><path d="M291.00 426.00L263.86 483.63A63.7 63.7 0 0 1 261.90 482.66Z" fill="#049fe0" /><path d="M291.00 426.00L262.12 482.78A63.7 63.7 0 0 1 260.19 481.75Z" fill="#028b35" /><path d="M291.00 426.00L260.41 481.88A63.7 63.7 0 0 1 258.51 480.79Z" fill="#e84b02" /><path d="M291.00 426.00L258.73 480.92A63.7 63.7 0 0 1 256.86 479.78Z" fill="#eee414" /><path d="M291.00 426.00L257.08 479.92A63.7 63.7 0 0 1 255.25 478.72Z" fill="#049fe0" /><path d="M291.00 426.00L255.46 478.86A63.7 63.7 0 0 1 253.66 477.61Z" fill="#028b35" /><path d="M291.00 426.00L253.87 477.76A63.7 63.7 0 0 1 252.12 476.45Z" fill="#e84b02" /><path d="M291.00 426.00L252.32 476.61A63.7 63.7 0 0 1 250.60 475.25Z" fill="#eee414" /><path d="M291.00 426.00L250.80 475.41A63.7 63.7 0 0 1 249.13 474.00Z" fill="#049fe0" /><path d="M291.00 426.00L249.32 474.17A63.7 63.7 0 0 1 247.69 472.71Z" fill="#028b35" /><path d="M291.00 426.00L247.88 472.88A63.7 63.7 0 0 1 246.29 471.37Z" fill="#e84b02" /><path d="M291.00 426.00L246.47 471.55A63.7 63.7 0 0 1 244.93 470.00Z" fill="#eee414" /><path d="M291.00 426.00L245.11 470.18A63.7 63.7 0 0 1 243.62 468.58Z" fill="#049fe0" /><path d="M291.00 426.00L243.79 468.77A63.7 63.7 0 0 1 242.35 467.12Z" fill="#028b35" /><path d="M291.00 426.00L242.52 467.31A63.7 63.7 0 0 1 241.12 465.63Z" fill="#e84b02" /><path d="M291.00 426.00L241.28 465.82A63.7 63.7 0 0 1 239.95 464.09Z" fill="#eee414" /><path d="M291.00 426.00L240.10 464.30A63.7 63.7 0 0 1 238.81 462.53Z" fill="#049fe0" /><path d="M291.00 426.00L238.96 462.73A63.7 63.7 0 0 1 236.69 459.29Z" fill="#028b35" /><path d="M291.00 426.00L236.83 459.51A63.7 63.7 0 0 1 234.77 455.94Z" fill="#e84b02" /><path d="M291.00 426.00L234.89 456.16A63.7 63.7 0 0 1 233.06 452.47Z" fill="#eee414" /><path d="M291.00 426.00L233.17 452.70A63.7 63.7 0 0 1 231.56 448.91Z" fill="#049fe0" /><path d="M291.00 426.00L231.65 449.14A63.7 63.7 0 0 1 230.28 445.26Z" fill="#028b35" /><path d="M291.00 426.00L230.36 445.50A63.7 63.7 0 0 1 229.22 441.54Z" fill="#e84b02" /><path d="M291.00 426.00L229.29 441.79A63.7 63.7 0 0 1 228.40 437.76Z" fill="#eee414" /><path d="M291.00 426.00L228.44 438.01A63.7 63.7 0 0 1 227.80 433.94Z" fill="#049fe0" /><path d="M291.00 426.00L227.83 434.19A63.7 63.7 0 0 1 227.43 430.09Z" fill="#028b35" /></g></g><g filter="url(#pb3)"><path d="M291.00 426.00L227.45 430.35A63.7 63.7 0 0 1 227.40 422.36Z" fill="#e84b02" /><path d="M291.00 426.00L227.39 422.62A63.7 63.7 0 0 1 228.31 414.69Z" fill="#eee414" /><path d="M291.00 426.00L228.27 414.94A63.7 63.7 0 0 1 230.14 407.18Z" fill="#049fe0" /><path d="M291.00 426.00L230.07 407.42A63.7 63.7 0 0 1 239.67 388.27Z" fill="#028b35" /><path d="M291.00 426.00L239.52 388.48A63.7 63.7 0 0 1 291.00 362.30Z" fill="#e84b02" /></g><defs><radialGradient id="cg3" cx="291.0" cy="426.0" r="22" gradientUnits="userSpaceOnUse"><stop offset="0" stop-color="#a8b078" stop-opacity="1"/><stop offset="0.45" stop-color="#9aa86a" stop-opacity="0.85"/><stop offset="1" stop-color="#8fa060" stop-opacity="0"/></radialGradient><clipPath id="cc3"><path d="M291.00 426.00L291.00 362.30A63.7 63.7 0 1 1 227.45 430.35Z" fill="#000" /></clipPath></defs><circle cx="291.0" cy="426.0" r="22" fill="url(#cg3)" clip-path="url(#cc3)"/><defs><filter id="pb4" x="-5%" y="-5%" width="110%" height="110%"><feGaussianBlur stdDeviation="0.3"/></filter></defs><g filter="url(#pb4)"><path d="M435.00 426.00L435.00 362.30A63.7 63.7 0 0 1 449.94 364.08Z" fill="#eee414" /><path d="M435.00 426.00L449.69 364.02A63.7 63.7 0 0 1 463.82 369.19Z" fill="#049fe0" /><path d="M435.00 426.00L463.59 369.08A63.7 63.7 0 0 1 486.25 388.17Z" fill="#028b35" /><path d="M435.00 426.00L486.10 387.96A63.7 63.7 0 0 1 497.78 415.19Z" fill="#e84b02" /><path d="M435.00 426.00L497.73 414.94A63.7 63.7 0 0 1 490.04 458.07Z" fill="#eee414" /><path d="M435.00 426.00L490.17 457.85A63.7 63.7 0 0 1 388.49 469.53Z" fill="#049fe0" /><path d="M435.00 426.00L388.67 469.71A63.7 63.7 0 0 1 435.00 362.30Z" fill="#028b35" /></g><text x="291.00" y="182.60" font-size="7.8" fill="#222" text-anchor="middle" font-weight="normal" >cluster A: 187 subclones 677 cells</text><text x="291.00" y="192.20" font-size="7.65" fill="#222" text-anchor="middle" font-weight="normal" >diversity index H = 3.6</text><text x="434.70" y="182.60" font-size="7.8" fill="#222" text-anchor="middle" font-weight="normal" >cluster B: 74 subclones 303 cells</text><text x="434.70" y="192.20" font-size="7.65" fill="#222" text-anchor="middle" font-weight="normal" >diversity index H = 2.7</text><text x="291.00" y="346.60" font-size="7.8" fill="#222" text-anchor="middle" font-weight="normal" >cluster C: 149 subclones 207 cells</text><text x="291.00" y="356.20" font-size="7.65" fill="#222" text-anchor="middle" font-weight="normal" >diversity index H = 4.6</text><text x="434.70" y="346.60" font-size="7.8" fill="#222" text-anchor="middle" font-weight="normal" >cluster D: 7 subclones 27 cells</text><text x="434.70" y="356.20" font-size="7.65" fill="#222" text-anchor="middle" font-weight="normal" >diversity index H = 1.6</text><text x="157.80" y="525.60" font-size="11.2" fill="#111" text-anchor="start" font-weight="bold" stroke="#111" stroke-width="0.3">F</text><line x1="195.50" y1="529.80" x2="195.50" y2="557.90" stroke="#222" stroke-width="1.1" /><line x1="195.50" y1="561.00" x2="195.50" y2="650.60" stroke="#222" stroke-width="1.1" /><line x1="195.00" y1="650.50" x2="363.50" y2="650.50" stroke="#222" stroke-width="1.1" /><line x1="193.20" y1="532.50" x2="195.40" y2="532.50" stroke="#222" stroke-width="1.0" /><text x="189.10" y="535.00" font-size="7.2" fill="#222" text-anchor="end" font-weight="normal" >12</text><line x1="193.20" y1="539.50" x2="195.40" y2="539.50" stroke="#222" stroke-width="1.0" /><text x="189.10" y="541.70" font-size="7.2" fill="#222" text-anchor="end" font-weight="normal" >9</text><line x1="193.20" y1="545.50" x2="195.40" y2="545.50" stroke="#222" stroke-width="1.0" /><text x="189.10" y="548.30" font-size="7.2" fill="#222" text-anchor="end" font-weight="normal" >6</text><line x1="193.20" y1="552.50" x2="195.40" y2="552.50" stroke="#222" stroke-width="1.0" /><text x="189.10" y="555.00" font-size="7.2" fill="#222" text-anchor="end" font-weight="normal" >3</text><line x1="193.00" y1="565.50" x2="195.40" y2="565.50" stroke="#222" stroke-width="1.0" /><text x="188.90" y="567.85" font-size="7.7" fill="#222" text-anchor="end" font-weight="normal" >0.0</text><line x1="193.00" y1="580.50" x2="195.40" y2="580.50" stroke="#222" stroke-width="1.0" /><text x="188.90" y="583.25" font-size="7.7" fill="#222" text-anchor="end" font-weight="normal" >−0.1</text><line x1="193.00" y1="595.50" x2="195.40" y2="595.50" stroke="#222" stroke-width="1.0" /><text x="188.90" y="598.65" font-size="7.7" fill="#222" text-anchor="end" font-weight="normal" >−0.2</text><line x1="193.00" y1="611.50" x2="195.40" y2="611.50" stroke="#222" stroke-width="1.0" /><text x="188.90" y="614.05" font-size="7.7" fill="#222" text-anchor="end" font-weight="normal" >−0.3</text><line x1="193.00" y1="626.50" x2="195.40" y2="626.50" stroke="#222" stroke-width="1.0" /><text x="188.90" y="629.45" font-size="7.7" fill="#222" text-anchor="end" font-weight="normal" >−0.4</text><line x1="193.00" y1="642.50" x2="195.40" y2="642.50" stroke="#222" stroke-width="1.0" /><text x="188.90" y="644.85" font-size="7.7" fill="#222" text-anchor="end" font-weight="normal" >−0.5</text><line x1="218.50" y1="650.10" x2="218.50" y2="652.80" stroke="#222" stroke-width="1.0" /><text x="218.90" y="662.80" font-size="7.8" fill="#222" text-anchor="middle" font-weight="normal" >A</text><line x1="258.50" y1="650.10" x2="258.50" y2="652.80" stroke="#222" stroke-width="1.0" /><text x="258.80" y="662.80" font-size="7.8" fill="#222" text-anchor="middle" font-weight="normal" >B</text><line x1="299.50" y1="650.10" x2="299.50" y2="652.80" stroke="#222" stroke-width="1.0" /><text x="299.00" y="662.80" font-size="7.8" fill="#222" text-anchor="middle" font-weight="normal" >C</text><line x1="338.50" y1="650.10" x2="338.50" y2="652.80" stroke="#222" stroke-width="1.0" /><text x="338.60" y="662.80" font-size="7.8" fill="#222" text-anchor="middle" font-weight="normal" >D</text><g transform="translate(279.20,676.00) rotate(0) scale(0.57,1)"><text x="0" y="0" font-size="9.6" fill="#222" text-anchor="middle" font-weight="bold">Cluster</text></g><g transform="translate(167.90,589.60) rotate(-90) scale(0.625,1)"><text x="0" y="0" font-size="9.5" fill="#222" text-anchor="middle" font-weight="bold">AICDA</text></g><line x1="218.50" y1="533.70" x2="218.50" y2="557.60" stroke="#6a6a6a" stroke-width="1.2" /><line x1="258.50" y1="549.70" x2="258.50" y2="557.60" stroke="#6a6a6a" stroke-width="1.2" /><line x1="299.50" y1="532.30" x2="299.50" y2="557.60" stroke="#6a6a6a" stroke-width="1.2" /><line x1="338.50" y1="538.20" x2="338.50" y2="557.60" stroke="#6a6a6a" stroke-width="1.2" /><line x1="218.50" y1="561.00" x2="218.50" y2="591.00" stroke="#555" stroke-width="1.0" /><line x1="258.50" y1="561.00" x2="258.50" y2="592.40" stroke="#555" stroke-width="1.0" /><line x1="299.50" y1="561.00" x2="299.50" y2="583.90" stroke="#555" stroke-width="1.0" /><path d="M219.40 590.00L219.63 590.28L219.86 590.55L220.10 590.83L220.33 591.11L220.56 591.38L220.80 591.66L221.04 591.94L221.29 592.21L221.54 592.49L221.79 592.77L222.04 593.04L222.29 593.32L222.55 593.60L222.80 593.87L223.06 594.15L223.32 594.43L223.58 594.70L223.85 594.98L224.12 595.26L224.40 595.53L224.68 595.81L224.97 596.09L225.26 596.36L225.56 596.64L225.88 596.92L226.20 597.19L226.54 597.47L226.88 597.75L227.22 598.03L227.57 598.30L227.93 598.58L228.28 598.86L228.63 599.13L228.98 599.41L229.32 599.69L229.65 599.96L229.99 600.24L230.34 600.52L230.69 600.79L231.05 601.07L231.40 601.35L231.75 601.62L232.08 601.90L232.40 602.18L232.70 602.45L232.97 602.73L233.21 603.01L233.43 603.28L233.66 603.56L233.89 603.84L234.10 604.11L234.29 604.39L234.44 604.67L234.55 604.94L234.60 605.22L234.59 605.50L234.54 605.77L234.47 606.05L234.36 606.33L234.23 606.60L234.08 606.88L233.92 607.16L233.75 607.43L233.58 607.71L233.41 607.99L233.22 608.26L233.00 608.54L232.75 608.82L232.48 609.09L232.18 609.37L231.88 609.65L231.57 609.92L231.26 610.20L230.95 610.48L230.65 610.75L230.37 611.03L230.09 611.31L229.81 611.58L229.53 611.86L229.24 612.14L228.96 612.42L228.67 612.69L228.39 612.97L228.11 613.25L227.82 613.52L227.54 613.80L227.26 614.08L226.98 614.35L226.71 614.63L226.44 614.91L226.17 615.18L225.91 615.46L225.65 615.74L225.40 616.01L225.14 616.29L224.88 616.57L224.62 616.84L224.37 617.12L224.12 617.40L223.88 617.67L223.65 617.95L223.43 618.23L223.22 618.50L223.03 618.78L222.87 619.06L222.71 619.33L222.57 619.61L222.43 619.89L222.30 620.16L222.18 620.44L222.06 620.72L221.95 620.99L221.84 621.27L221.74 621.55L221.64 621.82L221.54 622.10L221.45 622.38L221.36 622.65L221.27 622.93L221.18 623.21L221.10 623.48L221.02 623.76L220.94 624.04L220.87 624.31L220.80 624.59L220.73 624.87L220.67 625.14L220.61 625.42L220.55 625.70L220.49 625.97L220.44 626.25L220.39 626.53L220.34 626.81L220.30 627.08L220.25 627.36L220.21 627.64L220.17 627.91L220.13 628.19L220.10 628.47L220.07 628.74L220.03 629.02L220.00 629.30L219.97 629.57L219.94 629.85L219.91 630.13L219.88 630.40L219.84 630.68L219.81 630.96L219.77 631.23L219.72 631.51L219.68 631.79L219.63 632.06L219.59 632.34L219.54 632.62L219.49 632.89L219.44 633.17L219.39 633.45L219.35 633.72L219.30 634.00L218.50 634.00L218.45 633.72L218.41 633.45L218.36 633.17L218.31 632.89L218.26 632.62L218.21 632.34L218.17 632.06L218.12 631.79L218.08 631.51L218.03 631.23L217.99 630.96L217.96 630.68L217.92 630.40L217.89 630.13L217.86 629.85L217.83 629.57L217.80 629.30L217.77 629.02L217.73 628.74L217.70 628.47L217.67 628.19L217.63 627.91L217.59 627.64L217.55 627.36L217.50 627.08L217.46 626.81L217.41 626.53L217.36 626.25L217.31 625.97L217.25 625.70L217.19 625.42L217.13 625.14L217.07 624.87L217.00 624.59L216.93 624.31L216.86 624.04L216.78 623.76L216.70 623.48L216.62 623.21L216.53 622.93L216.44 622.65L216.35 622.38L216.26 622.10L216.16 621.82L216.06 621.55L215.96 621.27L215.85 620.99L215.74 620.72L215.62 620.44L215.50 620.16L215.37 619.89L215.23 619.61L215.09 619.33L214.93 619.06L214.77 618.78L214.58 618.50L214.37 618.23L214.15 617.95L213.92 617.67L213.68 617.40L213.43 617.12L213.18 616.84L212.92 616.57L212.66 616.29L212.40 616.01L212.15 615.74L211.89 615.46L211.63 615.18L211.36 614.91L211.09 614.63L210.82 614.35L210.54 614.08L210.26 613.80L209.98 613.52L209.69 613.25L209.41 612.97L209.13 612.69L208.84 612.42L208.56 612.14L208.27 611.86L207.99 611.58L207.71 611.31L207.43 611.03L207.15 610.75L206.85 610.48L206.54 610.20L206.23 609.92L205.92 609.65L205.62 609.37L205.32 609.09L205.05 608.82L204.80 608.54L204.58 608.26L204.39 607.99L204.22 607.71L204.05 607.43L203.88 607.16L203.72 606.88L203.57 606.60L203.44 606.33L203.33 606.05L203.26 605.77L203.21 605.50L203.20 605.22L203.25 604.94L203.36 604.67L203.51 604.39L203.70 604.11L203.91 603.84L204.14 603.56L204.37 603.28L204.59 603.01L204.83 602.73L205.10 602.45L205.40 602.18L205.72 601.90L206.05 601.62L206.40 601.35L206.75 601.07L207.11 600.79L207.46 600.52L207.81 600.24L208.15 599.96L208.48 599.69L208.82 599.41L209.17 599.13L209.52 598.86L209.87 598.58L210.23 598.30L210.58 598.03L210.92 597.75L211.26 597.47L211.60 597.19L211.92 596.92L212.24 596.64L212.54 596.36L212.83 596.09L213.12 595.81L213.40 595.53L213.68 595.26L213.95 594.98L214.22 594.70L214.48 594.43L214.74 594.15L215.00 593.87L215.25 593.60L215.51 593.32L215.76 593.04L216.01 592.77L216.26 592.49L216.51 592.21L216.76 591.94L217.00 591.66L217.24 591.38L217.47 591.11L217.70 590.83L217.94 590.55L218.17 590.28L218.40 590.00Z" fill="#f7921c" stroke="#1a1616" stroke-width="1.0" stroke-linejoin="round"/><path d="M259.30 591.40L259.52 591.74L259.74 592.08L259.95 592.43L260.17 592.77L260.39 593.11L260.61 593.45L260.85 593.79L261.10 594.14L261.36 594.48L261.61 594.82L261.88 595.16L262.14 595.51L262.41 595.85L262.68 596.19L262.96 596.53L263.24 596.87L263.53 597.22L263.82 597.56L264.12 597.90L264.43 598.24L264.74 598.58L265.06 598.93L265.38 599.27L265.71 599.61L266.05 599.95L266.41 600.30L266.80 600.64L267.20 600.98L267.62 601.32L268.05 601.66L268.49 602.01L268.94 602.35L269.38 602.69L269.82 603.03L270.25 603.37L270.67 603.72L271.07 604.06L271.50 604.40L271.96 604.74L272.45 605.09L272.94 605.43L273.44 605.77L273.92 606.11L274.37 606.45L274.77 606.80L275.12 607.14L275.40 607.48L275.59 607.82L275.69 608.16L275.67 608.51L275.50 608.85L275.21 609.19L274.81 609.53L274.34 609.88L273.81 610.22L273.25 610.56L272.68 610.90L272.13 611.24L271.63 611.59L271.18 611.93L270.80 612.27L270.41 612.61L270.02 612.95L269.63 613.30L269.25 613.64L268.87 613.98L268.50 614.32L268.14 614.67L267.78 615.01L267.45 615.35L267.12 615.69L266.82 616.03L266.53 616.38L266.26 616.72L266.01 617.06L265.77 617.40L265.54 617.74L265.31 618.09L265.10 618.43L264.89 618.77L264.69 619.11L264.50 619.46L264.33 619.80L264.16 620.14L264.01 620.48L263.87 620.82L263.74 621.17L263.62 621.51L263.50 621.85L263.39 622.19L263.28 622.53L263.18 622.88L263.08 623.22L262.99 623.56L262.90 623.90L262.81 624.25L262.72 624.59L262.64 624.93L262.55 625.27L262.47 625.61L262.39 625.96L262.30 626.30L262.22 626.64L262.13 626.98L262.04 627.32L261.96 627.67L261.87 628.01L261.79 628.35L261.71 628.69L261.63 629.04L261.55 629.38L261.47 629.72L261.40 630.06L261.32 630.40L261.25 630.75L261.18 631.09L261.11 631.43L261.05 631.77L260.98 632.11L260.92 632.46L260.86 632.80L260.80 633.14L260.74 633.48L260.68 633.83L260.62 634.17L260.56 634.51L260.50 634.85L260.44 635.19L260.39 635.54L260.33 635.88L260.27 636.22L260.21 636.56L260.14 636.90L260.08 637.25L260.01 637.59L259.94 637.93L259.87 638.27L259.81 638.62L259.75 638.96L259.69 639.30L259.64 639.64L259.60 639.98L259.57 640.33L259.54 640.67L259.51 641.01L259.48 641.35L259.46 641.69L259.43 642.04L259.41 642.38L259.39 642.72L259.37 643.06L259.35 643.41L259.33 643.75L259.31 644.09L259.29 644.43L259.27 644.77L259.25 645.12L259.22 645.46L259.20 645.80L258.40 645.80L258.38 645.46L258.35 645.12L258.33 644.77L258.31 644.43L258.29 644.09L258.27 643.75L258.25 643.41L258.23 643.06L258.21 642.72L258.19 642.38L258.17 642.04L258.14 641.69L258.12 641.35L258.09 641.01L258.06 640.67L258.03 640.33L258.00 639.98L257.96 639.64L257.91 639.30L257.85 638.96L257.79 638.62L257.73 638.27L257.66 637.93L257.59 637.59L257.52 637.25L257.46 636.90L257.39 636.56L257.33 636.22L257.27 635.88L257.21 635.54L257.16 635.19L257.10 634.85L257.04 634.51L256.98 634.17L256.92 633.83L256.86 633.48L256.80 633.14L256.74 632.80L256.68 632.46L256.62 632.11L256.55 631.77L256.49 631.43L256.42 631.09L256.35 630.75L256.28 630.40L256.20 630.06L256.13 629.72L256.05 629.38L255.97 629.04L255.89 628.69L255.81 628.35L255.73 628.01L255.64 627.67L255.56 627.32L255.47 626.98L255.38 626.64L255.30 626.30L255.21 625.96L255.13 625.61L255.05 625.27L254.96 624.93L254.88 624.59L254.79 624.25L254.70 623.90L254.61 623.56L254.52 623.22L254.42 622.88L254.32 622.53L254.21 622.19L254.10 621.85L253.98 621.51L253.86 621.17L253.73 620.82L253.59 620.48L253.44 620.14L253.27 619.80L253.10 619.46L252.91 619.11L252.71 618.77L252.50 618.43L252.29 618.09L252.06 617.74L251.83 617.40L251.59 617.06L251.34 616.72L251.07 616.38L250.78 616.03L250.48 615.69L250.15 615.35L249.82 615.01L249.46 614.67L249.10 614.32L248.73 613.98L248.35 613.64L247.97 613.30L247.58 612.95L247.19 612.61L246.80 612.27L246.42 611.93L245.97 611.59L245.47 611.24L244.92 610.90L244.35 610.56L243.79 610.22L243.26 609.88L242.79 609.53L242.39 609.19L242.10 608.85L241.93 608.51L241.91 608.16L242.01 607.82L242.20 607.48L242.48 607.14L242.83 606.80L243.23 606.45L243.68 606.11L244.16 605.77L244.66 605.43L245.15 605.09L245.64 604.74L246.10 604.40L246.53 604.06L246.93 603.72L247.35 603.37L247.78 603.03L248.22 602.69L248.66 602.35L249.11 602.01L249.55 601.66L249.98 601.32L250.40 600.98L250.80 600.64L251.19 600.30L251.55 599.95L251.89 599.61L252.22 599.27L252.54 598.93L252.86 598.58L253.17 598.24L253.48 597.90L253.78 597.56L254.07 597.22L254.36 596.87L254.64 596.53L254.92 596.19L255.19 595.85L255.46 595.51L255.72 595.16L255.99 594.82L256.24 594.48L256.50 594.14L256.75 593.79L256.99 593.45L257.21 593.11L257.43 592.77L257.65 592.43L257.86 592.08L258.08 591.74L258.30 591.40Z" fill="#0e8c5c" stroke="#1a1616" stroke-width="1.0" stroke-linejoin="round"/><path d="M299.50 582.90L299.67 583.14L299.84 583.38L300.00 583.62L300.17 583.86L300.33 584.10L300.50 584.34L300.68 584.58L300.86 584.82L301.04 585.06L301.23 585.30L301.42 585.54L301.60 585.78L301.79 586.02L301.97 586.25L302.17 586.49L302.37 586.73L302.57 586.97L302.79 587.21L303.01 587.45L303.25 587.69L303.50 587.93L303.77 588.17L304.06 588.41L304.37 588.65L304.72 588.89L305.08 589.13L305.47 589.37L305.88 589.61L306.30 589.85L306.73 590.09L307.18 590.33L307.63 590.57L308.08 590.81L308.53 591.05L308.98 591.29L309.43 591.53L309.87 591.77L310.30 592.01L310.71 592.25L311.11 592.48L311.49 592.72L311.85 592.96L312.19 593.20L312.54 593.44L312.88 593.68L313.22 593.92L313.56 594.16L313.88 594.40L314.19 594.64L314.49 594.88L314.77 595.12L315.03 595.36L315.27 595.60L315.48 595.84L315.66 596.08L315.84 596.32L316.01 596.56L316.18 596.80L316.34 597.04L316.48 597.28L316.61 597.52L316.70 597.76L316.77 598.00L316.80 598.24L316.78 598.48L316.71 598.72L316.59 598.95L316.43 599.19L316.22 599.43L315.99 599.67L315.74 599.91L315.47 600.15L315.19 600.39L314.92 600.63L314.64 600.87L314.38 601.11L314.09 601.35L313.78 601.59L313.45 601.83L313.10 602.07L312.74 602.31L312.37 602.55L311.98 602.79L311.59 603.03L311.19 603.27L310.80 603.51L310.40 603.75L310.00 603.99L309.62 604.23L309.23 604.47L308.83 604.71L308.41 604.95L307.98 605.18L307.54 605.42L307.11 605.66L306.69 605.90L306.28 606.14L305.88 606.38L305.52 606.62L305.18 606.86L304.87 607.10L304.58 607.34L304.29 607.58L304.02 607.82L303.76 608.06L303.52 608.30L303.29 608.54L303.09 608.78L302.91 609.02L302.77 609.26L302.63 609.50L302.50 609.74L302.37 609.98L302.25 610.22L302.13 610.46L302.02 610.70L301.91 610.94L301.80 611.18L301.70 611.42L301.60 611.65L301.51 611.89L301.42 612.13L301.33 612.37L301.25 612.61L301.16 612.85L301.08 613.09L301.01 613.33L300.93 613.57L300.86 613.81L300.78 614.05L300.72 614.29L300.65 614.53L300.59 614.77L300.53 615.01L300.47 615.25L300.42 615.49L300.36 615.73L300.31 615.97L300.26 616.21L300.21 616.45L300.16 616.69L300.11 616.93L300.07 617.17L300.02 617.41L299.98 617.65L299.93 617.88L299.89 618.12L299.85 618.36L299.80 618.60L299.76 618.84L299.72 619.08L299.68 619.32L299.64 619.56L299.60 619.80L299.56 620.04L299.52 620.28L299.48 620.52L299.44 620.76L299.40 621.00L298.60 621.00L298.56 620.76L298.52 620.52L298.48 620.28L298.44 620.04L298.40 619.80L298.36 619.56L298.32 619.32L298.28 619.08L298.24 618.84L298.20 618.60L298.15 618.36L298.11 618.12L298.07 617.88L298.02 617.65L297.98 617.41L297.93 617.17L297.89 616.93L297.84 616.69L297.79 616.45L297.74 616.21L297.69 615.97L297.64 615.73L297.58 615.49L297.53 615.25L297.47 615.01L297.41 614.77L297.35 614.53L297.28 614.29L297.22 614.05L297.14 613.81L297.07 613.57L296.99 613.33L296.92 613.09L296.84 612.85L296.75 612.61L296.67 612.37L296.58 612.13L296.49 611.89L296.40 611.65L296.30 611.42L296.20 611.18L296.09 610.94L295.98 610.70L295.87 610.46L295.75 610.22L295.63 609.98L295.50 609.74L295.37 609.50L295.23 609.26L295.09 609.02L294.91 608.78L294.71 608.54L294.48 608.30L294.24 608.06L293.98 607.82L293.71 607.58L293.42 607.34L293.13 607.10L292.82 606.86L292.48 606.62L292.12 606.38L291.72 606.14L291.31 605.90L290.89 605.66L290.46 605.42L290.02 605.18L289.59 604.95L289.17 604.71L288.77 604.47L288.38 604.23L288.00 603.99L287.60 603.75L287.20 603.51L286.81 603.27L286.41 603.03L286.02 602.79L285.63 602.55L285.26 602.31L284.90 602.07L284.55 601.83L284.22 601.59L283.91 601.35L283.62 601.11L283.36 600.87L283.08 600.63L282.81 600.39L282.53 600.15L282.26 599.91L282.01 599.67L281.78 599.43L281.57 599.19L281.41 598.95L281.29 598.72L281.22 598.48L281.20 598.24L281.23 598.00L281.30 597.76L281.39 597.52L281.52 597.28L281.66 597.04L281.82 596.80L281.99 596.56L282.16 596.32L282.34 596.08L282.52 595.84L282.73 595.60L282.97 595.36L283.23 595.12L283.51 594.88L283.81 594.64L284.12 594.40L284.44 594.16L284.78 593.92L285.12 593.68L285.46 593.44L285.81 593.20L286.15 592.96L286.51 592.72L286.89 592.48L287.29 592.25L287.70 592.01L288.13 591.77L288.57 591.53L289.02 591.29L289.47 591.05L289.92 590.81L290.37 590.57L290.82 590.33L291.27 590.09L291.70 589.85L292.12 589.61L292.53 589.37L292.92 589.13L293.28 588.89L293.63 588.65L293.94 588.41L294.23 588.17L294.50 587.93L294.75 587.69L294.99 587.45L295.21 587.21L295.43 586.97L295.63 586.73L295.83 586.49L296.03 586.25L296.21 586.02L296.40 585.78L296.58 585.54L296.77 585.30L296.96 585.06L297.14 584.82L297.32 584.58L297.50 584.34L297.67 584.10L297.83 583.86L298.00 583.62L298.16 583.38L298.33 583.14L298.50 582.90Z" fill="#e165a2" stroke="#1a1616" stroke-width="1.0" stroke-linejoin="round"/><rect x="337.3" y="560.8" width="2.6" height="85.4" fill="#1a4680" stroke="#0c1a33" stroke-width="0.6"/><rect x="0.5" y="0.5" width="519" height="684" fill="none" stroke="#5a5a5a" stroke-width="1.1"/></svg></body></html>
